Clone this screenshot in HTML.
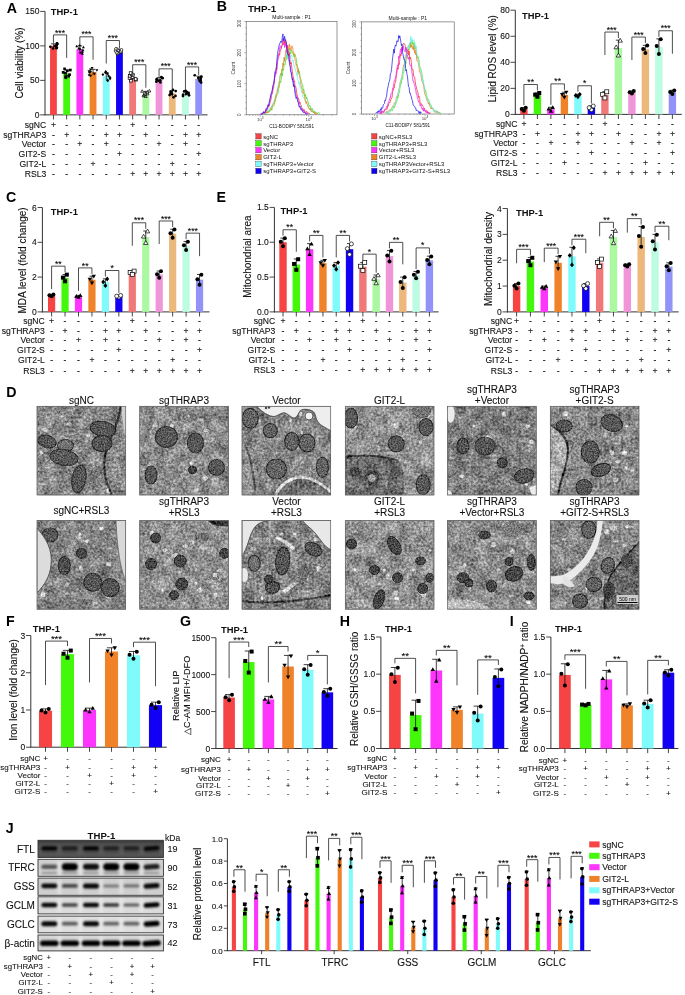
<!DOCTYPE html><html><head><meta charset="utf-8"><style>html,body{margin:0;padding:0;background:#fff;}svg{display:block;filter:blur(0.3px);}</style></head><body><svg width="685" height="995" viewBox="0 0 685 995" font-family='"Liberation Sans", sans-serif'><defs><clipPath id="c00"><rect x="36.8" y="406.0" width="89.2" height="89.2"/></clipPath><filter id="n00" x="0" y="0" width="1" height="1" color-interpolation-filters="sRGB"><feTurbulence type="fractalNoise" baseFrequency="0.42" numOctaves="3" seed="11" result="t"/><feColorMatrix in="t" type="matrix" values="1 0 0 0 0 1 0 0 0 0 1 0 0 0 0 0 0 0 0 1" result="g"/><feComposite in="SourceGraphic" in2="g" operator="arithmetic" k1="0" k2="1" k3="0.65" k4="-0.325" result="c1"/><feTurbulence type="fractalNoise" baseFrequency="0.09" numOctaves="2" seed="111" result="t2"/><feColorMatrix in="t2" type="matrix" values="1 0 0 0 0 1 0 0 0 0 1 0 0 0 0 0 0 0 0 1" result="g2"/><feComposite in="c1" in2="g2" operator="arithmetic" k1="0" k2="1" k3="0.4" k4="-0.2"/></filter><filter id="n00m" color-interpolation-filters="sRGB"><feTurbulence type="fractalNoise" baseFrequency="0.7" numOctaves="2" seed="61" result="t"/><feColorMatrix in="t" type="matrix" values="1 0 0 0 0 1 0 0 0 0 1 0 0 0 0 0 0 0 0 1" result="g"/><feComposite in="SourceGraphic" in2="g" operator="arithmetic" k1="0" k2="1" k3="0.7" k4="-0.35" result="c"/><feComposite in="c" in2="SourceAlpha" operator="in"/></filter><clipPath id="c01"><rect x="139.5" y="406.0" width="89.2" height="89.2"/></clipPath><filter id="n01" x="0" y="0" width="1" height="1" color-interpolation-filters="sRGB"><feTurbulence type="fractalNoise" baseFrequency="0.42" numOctaves="3" seed="12" result="t"/><feColorMatrix in="t" type="matrix" values="1 0 0 0 0 1 0 0 0 0 1 0 0 0 0 0 0 0 0 1" result="g"/><feComposite in="SourceGraphic" in2="g" operator="arithmetic" k1="0" k2="1" k3="0.65" k4="-0.325" result="c1"/><feTurbulence type="fractalNoise" baseFrequency="0.09" numOctaves="2" seed="112" result="t2"/><feColorMatrix in="t2" type="matrix" values="1 0 0 0 0 1 0 0 0 0 1 0 0 0 0 0 0 0 0 1" result="g2"/><feComposite in="c1" in2="g2" operator="arithmetic" k1="0" k2="1" k3="0.4" k4="-0.2"/></filter><filter id="n01m" color-interpolation-filters="sRGB"><feTurbulence type="fractalNoise" baseFrequency="0.7" numOctaves="2" seed="62" result="t"/><feColorMatrix in="t" type="matrix" values="1 0 0 0 0 1 0 0 0 0 1 0 0 0 0 0 0 0 0 1" result="g"/><feComposite in="SourceGraphic" in2="g" operator="arithmetic" k1="0" k2="1" k3="0.7" k4="-0.35" result="c"/><feComposite in="c" in2="SourceAlpha" operator="in"/></filter><clipPath id="c02"><rect x="241.8" y="406.0" width="89.2" height="89.2"/></clipPath><filter id="n02" x="0" y="0" width="1" height="1" color-interpolation-filters="sRGB"><feTurbulence type="fractalNoise" baseFrequency="0.42" numOctaves="3" seed="13" result="t"/><feColorMatrix in="t" type="matrix" values="1 0 0 0 0 1 0 0 0 0 1 0 0 0 0 0 0 0 0 1" result="g"/><feComposite in="SourceGraphic" in2="g" operator="arithmetic" k1="0" k2="1" k3="0.65" k4="-0.325" result="c1"/><feTurbulence type="fractalNoise" baseFrequency="0.09" numOctaves="2" seed="113" result="t2"/><feColorMatrix in="t2" type="matrix" values="1 0 0 0 0 1 0 0 0 0 1 0 0 0 0 0 0 0 0 1" result="g2"/><feComposite in="c1" in2="g2" operator="arithmetic" k1="0" k2="1" k3="0.4" k4="-0.2"/></filter><filter id="n02m" color-interpolation-filters="sRGB"><feTurbulence type="fractalNoise" baseFrequency="0.7" numOctaves="2" seed="63" result="t"/><feColorMatrix in="t" type="matrix" values="1 0 0 0 0 1 0 0 0 0 1 0 0 0 0 0 0 0 0 1" result="g"/><feComposite in="SourceGraphic" in2="g" operator="arithmetic" k1="0" k2="1" k3="0.7" k4="-0.35" result="c"/><feComposite in="c" in2="SourceAlpha" operator="in"/></filter><clipPath id="c03"><rect x="345.0" y="406.0" width="89.2" height="89.2"/></clipPath><filter id="n03" x="0" y="0" width="1" height="1" color-interpolation-filters="sRGB"><feTurbulence type="fractalNoise" baseFrequency="0.42" numOctaves="3" seed="14" result="t"/><feColorMatrix in="t" type="matrix" values="1 0 0 0 0 1 0 0 0 0 1 0 0 0 0 0 0 0 0 1" result="g"/><feComposite in="SourceGraphic" in2="g" operator="arithmetic" k1="0" k2="1" k3="0.65" k4="-0.325" result="c1"/><feTurbulence type="fractalNoise" baseFrequency="0.09" numOctaves="2" seed="114" result="t2"/><feColorMatrix in="t2" type="matrix" values="1 0 0 0 0 1 0 0 0 0 1 0 0 0 0 0 0 0 0 1" result="g2"/><feComposite in="c1" in2="g2" operator="arithmetic" k1="0" k2="1" k3="0.4" k4="-0.2"/></filter><filter id="n03m" color-interpolation-filters="sRGB"><feTurbulence type="fractalNoise" baseFrequency="0.7" numOctaves="2" seed="64" result="t"/><feColorMatrix in="t" type="matrix" values="1 0 0 0 0 1 0 0 0 0 1 0 0 0 0 0 0 0 0 1" result="g"/><feComposite in="SourceGraphic" in2="g" operator="arithmetic" k1="0" k2="1" k3="0.7" k4="-0.35" result="c"/><feComposite in="c" in2="SourceAlpha" operator="in"/></filter><clipPath id="c04"><rect x="447.3" y="406.0" width="89.2" height="89.2"/></clipPath><filter id="n04" x="0" y="0" width="1" height="1" color-interpolation-filters="sRGB"><feTurbulence type="fractalNoise" baseFrequency="0.42" numOctaves="3" seed="15" result="t"/><feColorMatrix in="t" type="matrix" values="1 0 0 0 0 1 0 0 0 0 1 0 0 0 0 0 0 0 0 1" result="g"/><feComposite in="SourceGraphic" in2="g" operator="arithmetic" k1="0" k2="1" k3="0.65" k4="-0.325" result="c1"/><feTurbulence type="fractalNoise" baseFrequency="0.09" numOctaves="2" seed="115" result="t2"/><feColorMatrix in="t2" type="matrix" values="1 0 0 0 0 1 0 0 0 0 1 0 0 0 0 0 0 0 0 1" result="g2"/><feComposite in="c1" in2="g2" operator="arithmetic" k1="0" k2="1" k3="0.4" k4="-0.2"/></filter><filter id="n04m" color-interpolation-filters="sRGB"><feTurbulence type="fractalNoise" baseFrequency="0.7" numOctaves="2" seed="65" result="t"/><feColorMatrix in="t" type="matrix" values="1 0 0 0 0 1 0 0 0 0 1 0 0 0 0 0 0 0 0 1" result="g"/><feComposite in="SourceGraphic" in2="g" operator="arithmetic" k1="0" k2="1" k3="0.7" k4="-0.35" result="c"/><feComposite in="c" in2="SourceAlpha" operator="in"/></filter><clipPath id="c05"><rect x="550.0" y="406.0" width="89.2" height="89.2"/></clipPath><filter id="n05" x="0" y="0" width="1" height="1" color-interpolation-filters="sRGB"><feTurbulence type="fractalNoise" baseFrequency="0.42" numOctaves="3" seed="16" result="t"/><feColorMatrix in="t" type="matrix" values="1 0 0 0 0 1 0 0 0 0 1 0 0 0 0 0 0 0 0 1" result="g"/><feComposite in="SourceGraphic" in2="g" operator="arithmetic" k1="0" k2="1" k3="0.65" k4="-0.325" result="c1"/><feTurbulence type="fractalNoise" baseFrequency="0.09" numOctaves="2" seed="116" result="t2"/><feColorMatrix in="t2" type="matrix" values="1 0 0 0 0 1 0 0 0 0 1 0 0 0 0 0 0 0 0 1" result="g2"/><feComposite in="c1" in2="g2" operator="arithmetic" k1="0" k2="1" k3="0.4" k4="-0.2"/></filter><filter id="n05m" color-interpolation-filters="sRGB"><feTurbulence type="fractalNoise" baseFrequency="0.7" numOctaves="2" seed="66" result="t"/><feColorMatrix in="t" type="matrix" values="1 0 0 0 0 1 0 0 0 0 1 0 0 0 0 0 0 0 0 1" result="g"/><feComposite in="SourceGraphic" in2="g" operator="arithmetic" k1="0" k2="1" k3="0.7" k4="-0.35" result="c"/><feComposite in="c" in2="SourceAlpha" operator="in"/></filter><clipPath id="c10"><rect x="36.8" y="520.2" width="89.2" height="89.2"/></clipPath><filter id="n10" x="0" y="0" width="1" height="1" color-interpolation-filters="sRGB"><feTurbulence type="fractalNoise" baseFrequency="0.42" numOctaves="3" seed="21" result="t"/><feColorMatrix in="t" type="matrix" values="1 0 0 0 0 1 0 0 0 0 1 0 0 0 0 0 0 0 0 1" result="g"/><feComposite in="SourceGraphic" in2="g" operator="arithmetic" k1="0" k2="1" k3="0.65" k4="-0.325" result="c1"/><feTurbulence type="fractalNoise" baseFrequency="0.09" numOctaves="2" seed="121" result="t2"/><feColorMatrix in="t2" type="matrix" values="1 0 0 0 0 1 0 0 0 0 1 0 0 0 0 0 0 0 0 1" result="g2"/><feComposite in="c1" in2="g2" operator="arithmetic" k1="0" k2="1" k3="0.4" k4="-0.2"/></filter><filter id="n10m" color-interpolation-filters="sRGB"><feTurbulence type="fractalNoise" baseFrequency="0.7" numOctaves="2" seed="71" result="t"/><feColorMatrix in="t" type="matrix" values="1 0 0 0 0 1 0 0 0 0 1 0 0 0 0 0 0 0 0 1" result="g"/><feComposite in="SourceGraphic" in2="g" operator="arithmetic" k1="0" k2="1" k3="0.7" k4="-0.35" result="c"/><feComposite in="c" in2="SourceAlpha" operator="in"/></filter><clipPath id="c11"><rect x="139.5" y="520.2" width="89.2" height="89.2"/></clipPath><filter id="n11" x="0" y="0" width="1" height="1" color-interpolation-filters="sRGB"><feTurbulence type="fractalNoise" baseFrequency="0.42" numOctaves="3" seed="22" result="t"/><feColorMatrix in="t" type="matrix" values="1 0 0 0 0 1 0 0 0 0 1 0 0 0 0 0 0 0 0 1" result="g"/><feComposite in="SourceGraphic" in2="g" operator="arithmetic" k1="0" k2="1" k3="0.65" k4="-0.325" result="c1"/><feTurbulence type="fractalNoise" baseFrequency="0.09" numOctaves="2" seed="122" result="t2"/><feColorMatrix in="t2" type="matrix" values="1 0 0 0 0 1 0 0 0 0 1 0 0 0 0 0 0 0 0 1" result="g2"/><feComposite in="c1" in2="g2" operator="arithmetic" k1="0" k2="1" k3="0.4" k4="-0.2"/></filter><filter id="n11m" color-interpolation-filters="sRGB"><feTurbulence type="fractalNoise" baseFrequency="0.7" numOctaves="2" seed="72" result="t"/><feColorMatrix in="t" type="matrix" values="1 0 0 0 0 1 0 0 0 0 1 0 0 0 0 0 0 0 0 1" result="g"/><feComposite in="SourceGraphic" in2="g" operator="arithmetic" k1="0" k2="1" k3="0.7" k4="-0.35" result="c"/><feComposite in="c" in2="SourceAlpha" operator="in"/></filter><clipPath id="c12"><rect x="241.8" y="520.2" width="89.2" height="89.2"/></clipPath><filter id="n12" x="0" y="0" width="1" height="1" color-interpolation-filters="sRGB"><feTurbulence type="fractalNoise" baseFrequency="0.42" numOctaves="3" seed="23" result="t"/><feColorMatrix in="t" type="matrix" values="1 0 0 0 0 1 0 0 0 0 1 0 0 0 0 0 0 0 0 1" result="g"/><feComposite in="SourceGraphic" in2="g" operator="arithmetic" k1="0" k2="1" k3="0.65" k4="-0.325" result="c1"/><feTurbulence type="fractalNoise" baseFrequency="0.09" numOctaves="2" seed="123" result="t2"/><feColorMatrix in="t2" type="matrix" values="1 0 0 0 0 1 0 0 0 0 1 0 0 0 0 0 0 0 0 1" result="g2"/><feComposite in="c1" in2="g2" operator="arithmetic" k1="0" k2="1" k3="0.4" k4="-0.2"/></filter><filter id="n12m" color-interpolation-filters="sRGB"><feTurbulence type="fractalNoise" baseFrequency="0.7" numOctaves="2" seed="73" result="t"/><feColorMatrix in="t" type="matrix" values="1 0 0 0 0 1 0 0 0 0 1 0 0 0 0 0 0 0 0 1" result="g"/><feComposite in="SourceGraphic" in2="g" operator="arithmetic" k1="0" k2="1" k3="0.7" k4="-0.35" result="c"/><feComposite in="c" in2="SourceAlpha" operator="in"/></filter><clipPath id="c13"><rect x="345.0" y="520.2" width="89.2" height="89.2"/></clipPath><filter id="n13" x="0" y="0" width="1" height="1" color-interpolation-filters="sRGB"><feTurbulence type="fractalNoise" baseFrequency="0.42" numOctaves="3" seed="24" result="t"/><feColorMatrix in="t" type="matrix" values="1 0 0 0 0 1 0 0 0 0 1 0 0 0 0 0 0 0 0 1" result="g"/><feComposite in="SourceGraphic" in2="g" operator="arithmetic" k1="0" k2="1" k3="0.65" k4="-0.325" result="c1"/><feTurbulence type="fractalNoise" baseFrequency="0.09" numOctaves="2" seed="124" result="t2"/><feColorMatrix in="t2" type="matrix" values="1 0 0 0 0 1 0 0 0 0 1 0 0 0 0 0 0 0 0 1" result="g2"/><feComposite in="c1" in2="g2" operator="arithmetic" k1="0" k2="1" k3="0.4" k4="-0.2"/></filter><filter id="n13m" color-interpolation-filters="sRGB"><feTurbulence type="fractalNoise" baseFrequency="0.7" numOctaves="2" seed="74" result="t"/><feColorMatrix in="t" type="matrix" values="1 0 0 0 0 1 0 0 0 0 1 0 0 0 0 0 0 0 0 1" result="g"/><feComposite in="SourceGraphic" in2="g" operator="arithmetic" k1="0" k2="1" k3="0.7" k4="-0.35" result="c"/><feComposite in="c" in2="SourceAlpha" operator="in"/></filter><clipPath id="c14"><rect x="447.3" y="520.2" width="89.2" height="89.2"/></clipPath><filter id="n14" x="0" y="0" width="1" height="1" color-interpolation-filters="sRGB"><feTurbulence type="fractalNoise" baseFrequency="0.42" numOctaves="3" seed="25" result="t"/><feColorMatrix in="t" type="matrix" values="1 0 0 0 0 1 0 0 0 0 1 0 0 0 0 0 0 0 0 1" result="g"/><feComposite in="SourceGraphic" in2="g" operator="arithmetic" k1="0" k2="1" k3="0.65" k4="-0.325" result="c1"/><feTurbulence type="fractalNoise" baseFrequency="0.09" numOctaves="2" seed="125" result="t2"/><feColorMatrix in="t2" type="matrix" values="1 0 0 0 0 1 0 0 0 0 1 0 0 0 0 0 0 0 0 1" result="g2"/><feComposite in="c1" in2="g2" operator="arithmetic" k1="0" k2="1" k3="0.4" k4="-0.2"/></filter><filter id="n14m" color-interpolation-filters="sRGB"><feTurbulence type="fractalNoise" baseFrequency="0.7" numOctaves="2" seed="75" result="t"/><feColorMatrix in="t" type="matrix" values="1 0 0 0 0 1 0 0 0 0 1 0 0 0 0 0 0 0 0 1" result="g"/><feComposite in="SourceGraphic" in2="g" operator="arithmetic" k1="0" k2="1" k3="0.7" k4="-0.35" result="c"/><feComposite in="c" in2="SourceAlpha" operator="in"/></filter><clipPath id="c15"><rect x="550.0" y="520.2" width="89.2" height="89.2"/></clipPath><filter id="n15" x="0" y="0" width="1" height="1" color-interpolation-filters="sRGB"><feTurbulence type="fractalNoise" baseFrequency="0.42" numOctaves="3" seed="26" result="t"/><feColorMatrix in="t" type="matrix" values="1 0 0 0 0 1 0 0 0 0 1 0 0 0 0 0 0 0 0 1" result="g"/><feComposite in="SourceGraphic" in2="g" operator="arithmetic" k1="0" k2="1" k3="0.65" k4="-0.325" result="c1"/><feTurbulence type="fractalNoise" baseFrequency="0.09" numOctaves="2" seed="126" result="t2"/><feColorMatrix in="t2" type="matrix" values="1 0 0 0 0 1 0 0 0 0 1 0 0 0 0 0 0 0 0 1" result="g2"/><feComposite in="c1" in2="g2" operator="arithmetic" k1="0" k2="1" k3="0.4" k4="-0.2"/></filter><filter id="n15m" color-interpolation-filters="sRGB"><feTurbulence type="fractalNoise" baseFrequency="0.7" numOctaves="2" seed="76" result="t"/><feColorMatrix in="t" type="matrix" values="1 0 0 0 0 1 0 0 0 0 1 0 0 0 0 0 0 0 0 1" result="g"/><feComposite in="SourceGraphic" in2="g" operator="arithmetic" k1="0" k2="1" k3="0.7" k4="-0.35" result="c"/><feComposite in="c" in2="SourceAlpha" operator="in"/></filter><filter id="bb" x="-0.3" y="-1" width="1.6" height="3"><feGaussianBlur stdDeviation="1.0"/></filter><filter id="bb2" x="-0.5" y="-0.2" width="2" height="1.4"><feGaussianBlur stdDeviation="1.6"/></filter><linearGradient id="ftlg" x1="0" y1="0" x2="0" y2="1"><stop offset="0" stop-color="#383838"/><stop offset="0.25" stop-color="#505050"/><stop offset="0.8" stop-color="#5a5a5a"/><stop offset="1" stop-color="#4a4a4a"/></linearGradient></defs><rect width="685" height="995" fill="#fff"/><text x="6.80" y="13.10" font-size="14.2" text-anchor="start" font-weight="bold" fill="#000">A</text>
<line x1="45.00" y1="11.40" x2="45.00" y2="115.25" stroke="#333" stroke-width="1.0"/>
<line x1="44.50" y1="114.85" x2="207.50" y2="114.85" stroke="#333" stroke-width="1.0"/>
<line x1="40.20" y1="114.85" x2="45.00" y2="114.85" stroke="#333" stroke-width="0.9"/>
<text x="39.40" y="117.91" font-size="8.5" text-anchor="end" fill="#111" stroke="#111" stroke-width="0.1">0</text>
<line x1="40.20" y1="80.37" x2="45.00" y2="80.37" stroke="#333" stroke-width="0.9"/>
<text x="39.40" y="83.43" font-size="8.5" text-anchor="end" fill="#111" stroke="#111" stroke-width="0.1">50</text>
<line x1="40.20" y1="45.88" x2="45.00" y2="45.88" stroke="#333" stroke-width="0.9"/>
<text x="39.40" y="48.94" font-size="8.5" text-anchor="end" fill="#111" stroke="#111" stroke-width="0.1">100</text>
<line x1="40.20" y1="11.40" x2="45.00" y2="11.40" stroke="#333" stroke-width="0.9"/>
<text x="39.40" y="14.46" font-size="8.5" text-anchor="end" fill="#111" stroke="#111" stroke-width="0.1">150</text>
<rect x="50.05" y="45.88" width="6.80" height="68.97" fill="#f64444"/>
<line x1="53.45" y1="43.81" x2="53.45" y2="47.95" stroke="#111" stroke-width="0.8"/>
<line x1="51.07" y1="43.81" x2="55.83" y2="43.81" stroke="#111" stroke-width="0.8"/>
<circle cx="53.09" cy="48.50" r="1.35" fill="#000"/>
<circle cx="56.55" cy="48.16" r="1.35" fill="#000"/>
<circle cx="56.76" cy="47.29" r="1.35" fill="#000"/>
<circle cx="50.34" cy="46.73" r="1.35" fill="#000"/>
<circle cx="55.17" cy="45.93" r="1.35" fill="#000"/>
<circle cx="56.70" cy="44.98" r="1.35" fill="#000"/>
<circle cx="57.11" cy="44.31" r="1.35" fill="#000"/>
<circle cx="57.23" cy="43.69" r="1.35" fill="#000"/>
<circle cx="56.96" cy="43.25" r="1.35" fill="#000"/>
<line x1="53.45" y1="114.85" x2="53.45" y2="119.45" stroke="#333" stroke-width="0.9"/>
<rect x="63.25" y="73.47" width="6.80" height="41.38" fill="#44f80c"/>
<line x1="66.65" y1="70.02" x2="66.65" y2="76.92" stroke="#111" stroke-width="0.8"/>
<line x1="64.27" y1="70.02" x2="69.03" y2="70.02" stroke="#111" stroke-width="0.8"/>
<rect x="64.51" y="76.37" width="2.70" height="2.70" fill="#000"/>
<rect x="64.26" y="75.23" width="2.70" height="2.70" fill="#000"/>
<rect x="67.29" y="74.83" width="2.70" height="2.70" fill="#000"/>
<rect x="68.19" y="73.42" width="2.70" height="2.70" fill="#000"/>
<rect x="63.87" y="71.81" width="2.70" height="2.70" fill="#000"/>
<rect x="61.82" y="71.04" width="2.70" height="2.70" fill="#000"/>
<rect x="65.98" y="69.45" width="2.70" height="2.70" fill="#000"/>
<rect x="68.97" y="68.68" width="2.70" height="2.70" fill="#000"/>
<rect x="63.26" y="67.53" width="2.70" height="2.70" fill="#000"/>
<line x1="66.65" y1="114.85" x2="66.65" y2="119.45" stroke="#333" stroke-width="0.9"/>
<rect x="76.45" y="49.33" width="6.80" height="65.52" fill="#fd35fd"/>
<line x1="79.85" y1="45.88" x2="79.85" y2="52.78" stroke="#111" stroke-width="0.8"/>
<line x1="77.47" y1="45.88" x2="82.23" y2="45.88" stroke="#111" stroke-width="0.8"/>
<path d="M82.37 52.25L83.86 54.82L80.89 54.82Z" fill="#000"/>
<path d="M80.50 51.17L81.98 53.73L79.01 53.73Z" fill="#000"/>
<path d="M82.36 50.10L83.84 52.66L80.87 52.66Z" fill="#000"/>
<path d="M82.90 48.62L84.39 51.18L81.42 51.18Z" fill="#000"/>
<path d="M80.21 47.53L81.70 50.10L78.73 50.10Z" fill="#000"/>
<path d="M78.82 46.82L80.30 49.39L77.33 49.39Z" fill="#000"/>
<path d="M83.40 45.75L84.89 48.31L81.92 48.31Z" fill="#000"/>
<path d="M76.72 44.75L78.21 47.31L75.24 47.31Z" fill="#000"/>
<path d="M79.75 43.66L81.23 46.23L78.26 46.23Z" fill="#000"/>
<line x1="79.85" y1="114.85" x2="79.85" y2="119.45" stroke="#333" stroke-width="0.9"/>
<rect x="89.65" y="72.09" width="6.80" height="42.76" fill="#f0822a"/>
<line x1="93.05" y1="69.33" x2="93.05" y2="74.85" stroke="#111" stroke-width="0.8"/>
<line x1="90.67" y1="69.33" x2="95.43" y2="69.33" stroke="#111" stroke-width="0.8"/>
<path d="M90.67 77.22L92.15 74.65L89.18 74.65Z" fill="#000"/>
<path d="M89.09 76.69L90.58 74.13L87.61 74.13Z" fill="#000"/>
<path d="M94.41 75.44L95.90 72.87L92.93 72.87Z" fill="#000"/>
<path d="M89.38 74.37L90.86 71.81L87.89 71.81Z" fill="#000"/>
<path d="M90.61 73.21L92.09 70.65L89.12 70.65Z" fill="#000"/>
<path d="M89.00 72.78L90.49 70.22L87.52 70.22Z" fill="#000"/>
<path d="M96.88 71.75L98.37 69.18L95.40 69.18Z" fill="#000"/>
<path d="M90.44 71.00L91.93 68.43L88.96 68.43Z" fill="#000"/>
<path d="M92.12 69.60L93.60 67.04L90.63 67.04Z" fill="#000"/>
<line x1="93.05" y1="114.85" x2="93.05" y2="119.45" stroke="#333" stroke-width="0.9"/>
<rect x="102.85" y="76.23" width="6.80" height="38.62" fill="#80fbfb"/>
<line x1="106.25" y1="72.78" x2="106.25" y2="79.68" stroke="#111" stroke-width="0.8"/>
<line x1="103.87" y1="72.78" x2="108.63" y2="72.78" stroke="#111" stroke-width="0.8"/>
<path d="M107.78 78.97L109.13 80.59L107.78 82.21L106.43 80.59Z" fill="#000"/>
<path d="M107.49 78.52L108.84 80.14L107.49 81.76L106.14 80.14Z" fill="#000"/>
<path d="M110.12 77.08L111.47 78.70L110.12 80.32L108.77 78.70Z" fill="#000"/>
<path d="M110.03 75.76L111.38 77.38L110.03 79.00L108.68 77.38Z" fill="#000"/>
<path d="M108.54 74.36L109.89 75.98L108.54 77.60L107.19 75.98Z" fill="#000"/>
<path d="M102.87 73.00L104.22 74.62L102.87 76.24L101.52 74.62Z" fill="#000"/>
<path d="M107.52 72.02L108.87 73.64L107.52 75.26L106.17 73.64Z" fill="#000"/>
<path d="M105.58 70.98L106.93 72.60L105.58 74.22L104.23 72.60Z" fill="#000"/>
<path d="M105.76 70.00L107.11 71.62L105.76 73.24L104.41 71.62Z" fill="#000"/>
<line x1="106.25" y1="114.85" x2="106.25" y2="119.45" stroke="#333" stroke-width="0.9"/>
<rect x="116.05" y="51.40" width="6.80" height="63.45" fill="#1200f4"/>
<line x1="119.45" y1="49.33" x2="119.45" y2="53.47" stroke="#111" stroke-width="0.8"/>
<line x1="117.07" y1="49.33" x2="121.83" y2="49.33" stroke="#111" stroke-width="0.8"/>
<circle cx="117.47" cy="53.98" r="1.35" fill="#fff" stroke="#000" stroke-width="0.7"/>
<circle cx="117.77" cy="53.24" r="1.35" fill="#fff" stroke="#000" stroke-width="0.7"/>
<circle cx="116.67" cy="52.56" r="1.35" fill="#fff" stroke="#000" stroke-width="0.7"/>
<circle cx="120.32" cy="52.07" r="1.35" fill="#fff" stroke="#000" stroke-width="0.7"/>
<circle cx="121.03" cy="51.66" r="1.35" fill="#fff" stroke="#000" stroke-width="0.7"/>
<circle cx="115.56" cy="50.88" r="1.35" fill="#fff" stroke="#000" stroke-width="0.7"/>
<circle cx="121.49" cy="49.86" r="1.35" fill="#fff" stroke="#000" stroke-width="0.7"/>
<circle cx="116.96" cy="49.13" r="1.35" fill="#fff" stroke="#000" stroke-width="0.7"/>
<circle cx="115.89" cy="48.86" r="1.35" fill="#fff" stroke="#000" stroke-width="0.7"/>
<line x1="119.45" y1="114.85" x2="119.45" y2="119.45" stroke="#333" stroke-width="0.9"/>
<rect x="129.25" y="76.92" width="6.80" height="37.93" fill="#f07878"/>
<line x1="132.65" y1="74.16" x2="132.65" y2="79.68" stroke="#111" stroke-width="0.8"/>
<line x1="130.27" y1="74.16" x2="135.03" y2="74.16" stroke="#111" stroke-width="0.8"/>
<rect x="129.54" y="79.34" width="2.70" height="2.70" fill="#fff" stroke="#000" stroke-width="0.7"/>
<rect x="134.58" y="78.33" width="2.70" height="2.70" fill="#fff" stroke="#000" stroke-width="0.7"/>
<rect x="134.26" y="77.70" width="2.70" height="2.70" fill="#fff" stroke="#000" stroke-width="0.7"/>
<rect x="128.18" y="76.59" width="2.70" height="2.70" fill="#fff" stroke="#000" stroke-width="0.7"/>
<rect x="131.15" y="75.67" width="2.70" height="2.70" fill="#fff" stroke="#000" stroke-width="0.7"/>
<rect x="128.33" y="74.55" width="2.70" height="2.70" fill="#fff" stroke="#000" stroke-width="0.7"/>
<rect x="131.38" y="73.83" width="2.70" height="2.70" fill="#fff" stroke="#000" stroke-width="0.7"/>
<rect x="130.13" y="72.71" width="2.70" height="2.70" fill="#fff" stroke="#000" stroke-width="0.7"/>
<rect x="129.23" y="71.72" width="2.70" height="2.70" fill="#fff" stroke="#000" stroke-width="0.7"/>
<line x1="132.65" y1="114.85" x2="132.65" y2="119.45" stroke="#333" stroke-width="0.9"/>
<rect x="142.45" y="93.47" width="6.80" height="21.38" fill="#aaf8a0"/>
<line x1="145.85" y1="91.40" x2="145.85" y2="95.54" stroke="#111" stroke-width="0.8"/>
<line x1="143.47" y1="91.40" x2="148.23" y2="91.40" stroke="#111" stroke-width="0.8"/>
<path d="M145.74 94.96L147.23 97.52L144.26 97.52Z" fill="#fff" stroke="#000" stroke-width="0.7"/>
<path d="M143.51 94.18L144.99 96.75L142.02 96.75Z" fill="#fff" stroke="#000" stroke-width="0.7"/>
<path d="M144.28 93.45L145.77 96.02L142.80 96.02Z" fill="#fff" stroke="#000" stroke-width="0.7"/>
<path d="M145.21 92.95L146.69 95.51L143.72 95.51Z" fill="#fff" stroke="#000" stroke-width="0.7"/>
<path d="M147.52 92.24L149.01 94.80L146.04 94.80Z" fill="#fff" stroke="#000" stroke-width="0.7"/>
<path d="M144.85 91.31L146.33 93.88L143.36 93.88Z" fill="#fff" stroke="#000" stroke-width="0.7"/>
<path d="M147.44 90.51L148.92 93.07L145.95 93.07Z" fill="#fff" stroke="#000" stroke-width="0.7"/>
<path d="M142.18 89.72L143.67 92.29L140.70 92.29Z" fill="#fff" stroke="#000" stroke-width="0.7"/>
<path d="M149.35 89.45L150.83 92.01L147.86 92.01Z" fill="#fff" stroke="#000" stroke-width="0.7"/>
<line x1="145.85" y1="114.85" x2="145.85" y2="119.45" stroke="#333" stroke-width="0.9"/>
<rect x="155.65" y="79.68" width="6.80" height="35.17" fill="#f096d8"/>
<line x1="159.05" y1="77.61" x2="159.05" y2="81.75" stroke="#111" stroke-width="0.8"/>
<line x1="156.67" y1="77.61" x2="161.43" y2="77.61" stroke="#111" stroke-width="0.8"/>
<circle cx="160.37" cy="82.38" r="1.35" fill="#000"/>
<circle cx="156.34" cy="81.72" r="1.35" fill="#000"/>
<circle cx="158.48" cy="80.83" r="1.35" fill="#000"/>
<circle cx="160.33" cy="80.46" r="1.35" fill="#000"/>
<circle cx="156.86" cy="79.87" r="1.35" fill="#000"/>
<circle cx="156.68" cy="79.15" r="1.35" fill="#000"/>
<circle cx="162.65" cy="78.18" r="1.35" fill="#000"/>
<circle cx="161.86" cy="77.77" r="1.35" fill="#000"/>
<circle cx="161.31" cy="77.19" r="1.35" fill="#000"/>
<line x1="159.05" y1="114.85" x2="159.05" y2="119.45" stroke="#333" stroke-width="0.9"/>
<rect x="168.85" y="93.47" width="6.80" height="21.38" fill="#ecb87c"/>
<line x1="172.25" y1="90.71" x2="172.25" y2="96.23" stroke="#111" stroke-width="0.8"/>
<line x1="169.87" y1="90.71" x2="174.63" y2="90.71" stroke="#111" stroke-width="0.8"/>
<circle cx="173.48" cy="97.35" r="1.35" fill="#000"/>
<circle cx="175.48" cy="95.95" r="1.35" fill="#000"/>
<circle cx="169.61" cy="95.05" r="1.35" fill="#000"/>
<circle cx="172.12" cy="94.08" r="1.35" fill="#000"/>
<circle cx="170.57" cy="93.69" r="1.35" fill="#000"/>
<circle cx="171.59" cy="92.40" r="1.35" fill="#000"/>
<circle cx="170.50" cy="91.66" r="1.35" fill="#000"/>
<circle cx="175.71" cy="91.07" r="1.35" fill="#000"/>
<circle cx="172.99" cy="89.90" r="1.35" fill="#000"/>
<line x1="172.25" y1="114.85" x2="172.25" y2="119.45" stroke="#333" stroke-width="0.9"/>
<rect x="182.05" y="93.47" width="6.80" height="21.38" fill="#bcfce2"/>
<line x1="185.45" y1="91.40" x2="185.45" y2="95.54" stroke="#111" stroke-width="0.8"/>
<line x1="183.07" y1="91.40" x2="187.83" y2="91.40" stroke="#111" stroke-width="0.8"/>
<circle cx="182.96" cy="96.06" r="1.35" fill="#000"/>
<circle cx="189.03" cy="95.29" r="1.35" fill="#000"/>
<circle cx="183.17" cy="94.68" r="1.35" fill="#000"/>
<circle cx="186.13" cy="94.00" r="1.35" fill="#000"/>
<circle cx="188.00" cy="93.53" r="1.35" fill="#000"/>
<circle cx="188.61" cy="92.97" r="1.35" fill="#000"/>
<circle cx="186.95" cy="92.03" r="1.35" fill="#000"/>
<circle cx="184.12" cy="91.42" r="1.35" fill="#000"/>
<circle cx="185.68" cy="90.87" r="1.35" fill="#000"/>
<line x1="185.45" y1="114.85" x2="185.45" y2="119.45" stroke="#333" stroke-width="0.9"/>
<rect x="195.25" y="78.99" width="6.80" height="35.86" fill="#9292f8"/>
<line x1="198.65" y1="76.23" x2="198.65" y2="81.75" stroke="#111" stroke-width="0.8"/>
<line x1="196.27" y1="76.23" x2="201.03" y2="76.23" stroke="#111" stroke-width="0.8"/>
<circle cx="201.15" cy="82.53" r="1.35" fill="#000"/>
<circle cx="200.42" cy="81.50" r="1.35" fill="#000"/>
<circle cx="200.04" cy="80.49" r="1.35" fill="#000"/>
<circle cx="200.51" cy="80.23" r="1.35" fill="#000"/>
<circle cx="200.69" cy="78.78" r="1.35" fill="#000"/>
<circle cx="198.28" cy="78.10" r="1.35" fill="#000"/>
<circle cx="200.81" cy="77.19" r="1.35" fill="#000"/>
<circle cx="201.41" cy="76.52" r="1.35" fill="#000"/>
<circle cx="194.74" cy="75.26" r="1.35" fill="#000"/>
<line x1="198.65" y1="114.85" x2="198.65" y2="119.45" stroke="#333" stroke-width="0.9"/>
<path d="M53.45 42.90V34.90H66.65V57.90" fill="none" stroke="#222" stroke-width="0.8"/>
<text x="60.05" y="35.50" font-size="8.6" text-anchor="middle" fill="#000" stroke="#000" stroke-width="0.1">***</text>
<path d="M79.85 44.80V36.80H93.05V59.80" fill="none" stroke="#222" stroke-width="0.8"/>
<text x="86.45" y="37.40" font-size="8.6" text-anchor="middle" fill="#000" stroke="#000" stroke-width="0.1">***</text>
<path d="M106.25 63.51V40.51H119.45V48.51" fill="none" stroke="#222" stroke-width="0.8"/>
<text x="112.85" y="41.11" font-size="8.6" text-anchor="middle" fill="#000" stroke="#000" stroke-width="0.1">***</text>
<path d="M132.65 72.72V64.72H145.85V87.72" fill="none" stroke="#222" stroke-width="0.8"/>
<text x="139.25" y="65.32" font-size="8.6" text-anchor="middle" fill="#000" stroke="#000" stroke-width="0.1">***</text>
<path d="M159.05 76.84V68.84H172.25V89.55" fill="none" stroke="#222" stroke-width="0.8"/>
<text x="165.65" y="69.44" font-size="8.6" text-anchor="middle" fill="#000" stroke="#000" stroke-width="0.1">***</text>
<path d="M185.45 89.91V66.91H198.65V74.91" fill="none" stroke="#222" stroke-width="0.8"/>
<text x="192.05" y="67.51" font-size="8.6" text-anchor="middle" fill="#000" stroke="#000" stroke-width="0.1">***</text>
<text x="50.80" y="15.40" font-size="9.4" text-anchor="start" font-weight="bold" fill="#111">THP-1</text>
<text x="22.60" y="63.00" font-size="10" text-anchor="middle" fill="#111" stroke="#111" stroke-width="0.1" transform="rotate(-90 22.60 63.00)">Cell viability (%)</text>
<text x="46.20" y="128.10" font-size="8.6" text-anchor="end" fill="#111" stroke="#111" stroke-width="0.1">sgNC</text>
<text x="53.45" y="128.10" font-size="8.6" text-anchor="middle" fill="#111" stroke="#111" stroke-width="0.1">+</text>
<text x="66.65" y="128.10" font-size="8.6" text-anchor="middle" fill="#111" stroke="#111" stroke-width="0.1">-</text>
<text x="79.85" y="128.10" font-size="8.6" text-anchor="middle" fill="#111" stroke="#111" stroke-width="0.1">-</text>
<text x="93.05" y="128.10" font-size="8.6" text-anchor="middle" fill="#111" stroke="#111" stroke-width="0.1">-</text>
<text x="106.25" y="128.10" font-size="8.6" text-anchor="middle" fill="#111" stroke="#111" stroke-width="0.1">-</text>
<text x="119.45" y="128.10" font-size="8.6" text-anchor="middle" fill="#111" stroke="#111" stroke-width="0.1">-</text>
<text x="132.65" y="128.10" font-size="8.6" text-anchor="middle" fill="#111" stroke="#111" stroke-width="0.1">+</text>
<text x="145.85" y="128.10" font-size="8.6" text-anchor="middle" fill="#111" stroke="#111" stroke-width="0.1">-</text>
<text x="159.05" y="128.10" font-size="8.6" text-anchor="middle" fill="#111" stroke="#111" stroke-width="0.1">-</text>
<text x="172.25" y="128.10" font-size="8.6" text-anchor="middle" fill="#111" stroke="#111" stroke-width="0.1">-</text>
<text x="185.45" y="128.10" font-size="8.6" text-anchor="middle" fill="#111" stroke="#111" stroke-width="0.1">-</text>
<text x="198.65" y="128.10" font-size="8.6" text-anchor="middle" fill="#111" stroke="#111" stroke-width="0.1">-</text>
<text x="46.20" y="137.80" font-size="8.6" text-anchor="end" fill="#111" stroke="#111" stroke-width="0.1">sgTHRAP3</text>
<text x="53.45" y="137.80" font-size="8.6" text-anchor="middle" fill="#111" stroke="#111" stroke-width="0.1">-</text>
<text x="66.65" y="137.80" font-size="8.6" text-anchor="middle" fill="#111" stroke="#111" stroke-width="0.1">+</text>
<text x="79.85" y="137.80" font-size="8.6" text-anchor="middle" fill="#111" stroke="#111" stroke-width="0.1">-</text>
<text x="93.05" y="137.80" font-size="8.6" text-anchor="middle" fill="#111" stroke="#111" stroke-width="0.1">-</text>
<text x="106.25" y="137.80" font-size="8.6" text-anchor="middle" fill="#111" stroke="#111" stroke-width="0.1">+</text>
<text x="119.45" y="137.80" font-size="8.6" text-anchor="middle" fill="#111" stroke="#111" stroke-width="0.1">+</text>
<text x="132.65" y="137.80" font-size="8.6" text-anchor="middle" fill="#111" stroke="#111" stroke-width="0.1">-</text>
<text x="145.85" y="137.80" font-size="8.6" text-anchor="middle" fill="#111" stroke="#111" stroke-width="0.1">+</text>
<text x="159.05" y="137.80" font-size="8.6" text-anchor="middle" fill="#111" stroke="#111" stroke-width="0.1">-</text>
<text x="172.25" y="137.80" font-size="8.6" text-anchor="middle" fill="#111" stroke="#111" stroke-width="0.1">-</text>
<text x="185.45" y="137.80" font-size="8.6" text-anchor="middle" fill="#111" stroke="#111" stroke-width="0.1">+</text>
<text x="198.65" y="137.80" font-size="8.6" text-anchor="middle" fill="#111" stroke="#111" stroke-width="0.1">+</text>
<text x="46.20" y="147.00" font-size="8.6" text-anchor="end" fill="#111" stroke="#111" stroke-width="0.1">Vector</text>
<text x="53.45" y="147.00" font-size="8.6" text-anchor="middle" fill="#111" stroke="#111" stroke-width="0.1">-</text>
<text x="66.65" y="147.00" font-size="8.6" text-anchor="middle" fill="#111" stroke="#111" stroke-width="0.1">-</text>
<text x="79.85" y="147.00" font-size="8.6" text-anchor="middle" fill="#111" stroke="#111" stroke-width="0.1">+</text>
<text x="93.05" y="147.00" font-size="8.6" text-anchor="middle" fill="#111" stroke="#111" stroke-width="0.1">-</text>
<text x="106.25" y="147.00" font-size="8.6" text-anchor="middle" fill="#111" stroke="#111" stroke-width="0.1">+</text>
<text x="119.45" y="147.00" font-size="8.6" text-anchor="middle" fill="#111" stroke="#111" stroke-width="0.1">-</text>
<text x="132.65" y="147.00" font-size="8.6" text-anchor="middle" fill="#111" stroke="#111" stroke-width="0.1">-</text>
<text x="145.85" y="147.00" font-size="8.6" text-anchor="middle" fill="#111" stroke="#111" stroke-width="0.1">-</text>
<text x="159.05" y="147.00" font-size="8.6" text-anchor="middle" fill="#111" stroke="#111" stroke-width="0.1">+</text>
<text x="172.25" y="147.00" font-size="8.6" text-anchor="middle" fill="#111" stroke="#111" stroke-width="0.1">-</text>
<text x="185.45" y="147.00" font-size="8.6" text-anchor="middle" fill="#111" stroke="#111" stroke-width="0.1">+</text>
<text x="198.65" y="147.00" font-size="8.6" text-anchor="middle" fill="#111" stroke="#111" stroke-width="0.1">-</text>
<text x="46.20" y="157.10" font-size="8.6" text-anchor="end" fill="#111" stroke="#111" stroke-width="0.1">GIT2-S</text>
<text x="53.45" y="157.10" font-size="8.6" text-anchor="middle" fill="#111" stroke="#111" stroke-width="0.1">-</text>
<text x="66.65" y="157.10" font-size="8.6" text-anchor="middle" fill="#111" stroke="#111" stroke-width="0.1">-</text>
<text x="79.85" y="157.10" font-size="8.6" text-anchor="middle" fill="#111" stroke="#111" stroke-width="0.1">-</text>
<text x="93.05" y="157.10" font-size="8.6" text-anchor="middle" fill="#111" stroke="#111" stroke-width="0.1">-</text>
<text x="106.25" y="157.10" font-size="8.6" text-anchor="middle" fill="#111" stroke="#111" stroke-width="0.1">-</text>
<text x="119.45" y="157.10" font-size="8.6" text-anchor="middle" fill="#111" stroke="#111" stroke-width="0.1">+</text>
<text x="132.65" y="157.10" font-size="8.6" text-anchor="middle" fill="#111" stroke="#111" stroke-width="0.1">-</text>
<text x="145.85" y="157.10" font-size="8.6" text-anchor="middle" fill="#111" stroke="#111" stroke-width="0.1">-</text>
<text x="159.05" y="157.10" font-size="8.6" text-anchor="middle" fill="#111" stroke="#111" stroke-width="0.1">-</text>
<text x="172.25" y="157.10" font-size="8.6" text-anchor="middle" fill="#111" stroke="#111" stroke-width="0.1">-</text>
<text x="185.45" y="157.10" font-size="8.6" text-anchor="middle" fill="#111" stroke="#111" stroke-width="0.1">-</text>
<text x="198.65" y="157.10" font-size="8.6" text-anchor="middle" fill="#111" stroke="#111" stroke-width="0.1">+</text>
<text x="46.20" y="166.70" font-size="8.6" text-anchor="end" fill="#111" stroke="#111" stroke-width="0.1">GIT2-L</text>
<text x="53.45" y="166.70" font-size="8.6" text-anchor="middle" fill="#111" stroke="#111" stroke-width="0.1">-</text>
<text x="66.65" y="166.70" font-size="8.6" text-anchor="middle" fill="#111" stroke="#111" stroke-width="0.1">-</text>
<text x="79.85" y="166.70" font-size="8.6" text-anchor="middle" fill="#111" stroke="#111" stroke-width="0.1">-</text>
<text x="93.05" y="166.70" font-size="8.6" text-anchor="middle" fill="#111" stroke="#111" stroke-width="0.1">+</text>
<text x="106.25" y="166.70" font-size="8.6" text-anchor="middle" fill="#111" stroke="#111" stroke-width="0.1">-</text>
<text x="119.45" y="166.70" font-size="8.6" text-anchor="middle" fill="#111" stroke="#111" stroke-width="0.1">-</text>
<text x="132.65" y="166.70" font-size="8.6" text-anchor="middle" fill="#111" stroke="#111" stroke-width="0.1">-</text>
<text x="145.85" y="166.70" font-size="8.6" text-anchor="middle" fill="#111" stroke="#111" stroke-width="0.1">-</text>
<text x="159.05" y="166.70" font-size="8.6" text-anchor="middle" fill="#111" stroke="#111" stroke-width="0.1">-</text>
<text x="172.25" y="166.70" font-size="8.6" text-anchor="middle" fill="#111" stroke="#111" stroke-width="0.1">+</text>
<text x="185.45" y="166.70" font-size="8.6" text-anchor="middle" fill="#111" stroke="#111" stroke-width="0.1">-</text>
<text x="198.65" y="166.70" font-size="8.6" text-anchor="middle" fill="#111" stroke="#111" stroke-width="0.1">-</text>
<text x="46.20" y="176.70" font-size="8.6" text-anchor="end" fill="#111" stroke="#111" stroke-width="0.1">RSL3</text>
<text x="53.45" y="176.70" font-size="8.6" text-anchor="middle" fill="#111" stroke="#111" stroke-width="0.1">-</text>
<text x="66.65" y="176.70" font-size="8.6" text-anchor="middle" fill="#111" stroke="#111" stroke-width="0.1">-</text>
<text x="79.85" y="176.70" font-size="8.6" text-anchor="middle" fill="#111" stroke="#111" stroke-width="0.1">-</text>
<text x="93.05" y="176.70" font-size="8.6" text-anchor="middle" fill="#111" stroke="#111" stroke-width="0.1">-</text>
<text x="106.25" y="176.70" font-size="8.6" text-anchor="middle" fill="#111" stroke="#111" stroke-width="0.1">-</text>
<text x="119.45" y="176.70" font-size="8.6" text-anchor="middle" fill="#111" stroke="#111" stroke-width="0.1">-</text>
<text x="132.65" y="176.70" font-size="8.6" text-anchor="middle" fill="#111" stroke="#111" stroke-width="0.1">+</text>
<text x="145.85" y="176.70" font-size="8.6" text-anchor="middle" fill="#111" stroke="#111" stroke-width="0.1">+</text>
<text x="159.05" y="176.70" font-size="8.6" text-anchor="middle" fill="#111" stroke="#111" stroke-width="0.1">+</text>
<text x="172.25" y="176.70" font-size="8.6" text-anchor="middle" fill="#111" stroke="#111" stroke-width="0.1">+</text>
<text x="185.45" y="176.70" font-size="8.6" text-anchor="middle" fill="#111" stroke="#111" stroke-width="0.1">+</text>
<text x="198.65" y="176.70" font-size="8.6" text-anchor="middle" fill="#111" stroke="#111" stroke-width="0.1">+</text>
<line x1="515.30" y1="10.20" x2="515.30" y2="114.80" stroke="#333" stroke-width="1.0"/>
<line x1="514.80" y1="114.40" x2="681.80" y2="114.40" stroke="#333" stroke-width="1.0"/>
<line x1="510.50" y1="114.40" x2="515.30" y2="114.40" stroke="#333" stroke-width="0.9"/>
<text x="509.70" y="117.46" font-size="8.5" text-anchor="end" fill="#111" stroke="#111" stroke-width="0.1">0</text>
<line x1="510.50" y1="88.35" x2="515.30" y2="88.35" stroke="#333" stroke-width="0.9"/>
<text x="509.70" y="91.41" font-size="8.5" text-anchor="end" fill="#111" stroke="#111" stroke-width="0.1">20</text>
<line x1="510.50" y1="62.30" x2="515.30" y2="62.30" stroke="#333" stroke-width="0.9"/>
<text x="509.70" y="65.36" font-size="8.5" text-anchor="end" fill="#111" stroke="#111" stroke-width="0.1">40</text>
<line x1="510.50" y1="36.25" x2="515.30" y2="36.25" stroke="#333" stroke-width="0.9"/>
<text x="509.70" y="39.31" font-size="8.5" text-anchor="end" fill="#111" stroke="#111" stroke-width="0.1">60</text>
<line x1="510.50" y1="10.20" x2="515.30" y2="10.20" stroke="#333" stroke-width="0.9"/>
<text x="509.70" y="13.26" font-size="8.5" text-anchor="end" fill="#111" stroke="#111" stroke-width="0.1">80</text>
<rect x="520.20" y="109.19" width="7.40" height="5.21" fill="#f64444"/>
<line x1="523.90" y1="107.63" x2="523.90" y2="110.75" stroke="#111" stroke-width="0.8"/>
<line x1="521.31" y1="107.63" x2="526.49" y2="107.63" stroke="#111" stroke-width="0.8"/>
<circle cx="521.68" cy="109.03" r="2.00" fill="#000"/>
<circle cx="525.75" cy="107.71" r="2.00" fill="#000"/>
<circle cx="523.90" cy="110.67" r="2.00" fill="#000"/>
<line x1="523.90" y1="114.40" x2="523.90" y2="119.00" stroke="#333" stroke-width="0.9"/>
<rect x="533.70" y="94.86" width="7.40" height="19.54" fill="#44f80c"/>
<line x1="537.40" y1="92.91" x2="537.40" y2="96.82" stroke="#111" stroke-width="0.8"/>
<line x1="534.81" y1="92.91" x2="539.99" y2="92.91" stroke="#111" stroke-width="0.8"/>
<rect x="537.25" y="91.01" width="4.00" height="4.00" fill="#000"/>
<rect x="535.40" y="94.72" width="4.00" height="4.00" fill="#000"/>
<rect x="533.18" y="92.67" width="4.00" height="4.00" fill="#000"/>
<line x1="537.40" y1="114.40" x2="537.40" y2="119.00" stroke="#333" stroke-width="0.9"/>
<rect x="547.20" y="109.19" width="7.40" height="5.21" fill="#fd35fd"/>
<line x1="550.90" y1="107.24" x2="550.90" y2="111.14" stroke="#111" stroke-width="0.8"/>
<line x1="548.31" y1="107.24" x2="553.49" y2="107.24" stroke="#111" stroke-width="0.8"/>
<path d="M550.90 108.85L553.10 112.65L548.70 112.65Z" fill="#000"/>
<path d="M548.68 106.79L550.88 110.59L546.48 110.59Z" fill="#000"/>
<path d="M552.75 105.13L554.95 108.93L550.55 108.93Z" fill="#000"/>
<line x1="550.90" y1="114.40" x2="550.90" y2="119.00" stroke="#333" stroke-width="0.9"/>
<rect x="560.70" y="94.86" width="7.40" height="19.54" fill="#f0822a"/>
<line x1="564.40" y1="92.26" x2="564.40" y2="97.47" stroke="#111" stroke-width="0.8"/>
<line x1="561.81" y1="92.26" x2="566.99" y2="92.26" stroke="#111" stroke-width="0.8"/>
<path d="M562.18 96.80L564.38 93.00L559.98 93.00Z" fill="#000"/>
<path d="M566.25 94.59L568.45 90.79L564.05 90.79Z" fill="#000"/>
<path d="M564.40 99.54L566.60 95.74L562.20 95.74Z" fill="#000"/>
<line x1="564.40" y1="114.40" x2="564.40" y2="119.00" stroke="#333" stroke-width="0.9"/>
<rect x="574.20" y="95.51" width="7.40" height="18.89" fill="#80fbfb"/>
<line x1="577.90" y1="94.21" x2="577.90" y2="96.82" stroke="#111" stroke-width="0.8"/>
<line x1="575.31" y1="94.21" x2="580.49" y2="94.21" stroke="#111" stroke-width="0.8"/>
<path d="M579.75 91.88L581.75 94.28L579.75 96.68L577.75 94.28Z" fill="#000"/>
<path d="M577.90 94.35L579.90 96.75L577.90 99.15L575.90 96.75Z" fill="#000"/>
<path d="M575.68 92.98L577.68 95.38L575.68 97.78L573.68 95.38Z" fill="#000"/>
<line x1="577.90" y1="114.40" x2="577.90" y2="119.00" stroke="#333" stroke-width="0.9"/>
<rect x="587.70" y="107.89" width="7.40" height="6.51" fill="#1200f4"/>
<line x1="591.40" y1="105.93" x2="591.40" y2="109.84" stroke="#111" stroke-width="0.8"/>
<line x1="588.81" y1="105.93" x2="593.99" y2="105.93" stroke="#111" stroke-width="0.8"/>
<circle cx="591.40" cy="109.74" r="2.00" fill="#fff" stroke="#000" stroke-width="0.7"/>
<circle cx="589.18" cy="107.69" r="2.00" fill="#fff" stroke="#000" stroke-width="0.7"/>
<circle cx="593.25" cy="106.03" r="2.00" fill="#fff" stroke="#000" stroke-width="0.7"/>
<line x1="591.40" y1="114.40" x2="591.40" y2="119.00" stroke="#333" stroke-width="0.9"/>
<rect x="601.20" y="94.86" width="7.40" height="19.54" fill="#f07878"/>
<line x1="604.90" y1="91.61" x2="604.90" y2="98.12" stroke="#111" stroke-width="0.8"/>
<line x1="602.31" y1="91.61" x2="607.49" y2="91.61" stroke="#111" stroke-width="0.8"/>
<rect x="600.68" y="92.54" width="4.00" height="4.00" fill="#fff" stroke="#000" stroke-width="0.7"/>
<rect x="604.75" y="89.77" width="4.00" height="4.00" fill="#fff" stroke="#000" stroke-width="0.7"/>
<rect x="602.90" y="95.96" width="4.00" height="4.00" fill="#fff" stroke="#000" stroke-width="0.7"/>
<line x1="604.90" y1="114.40" x2="604.90" y2="119.00" stroke="#333" stroke-width="0.9"/>
<rect x="614.70" y="47.97" width="7.40" height="66.43" fill="#aaf8a0"/>
<line x1="618.40" y1="40.16" x2="618.40" y2="55.79" stroke="#111" stroke-width="0.8"/>
<line x1="615.81" y1="40.16" x2="620.99" y2="40.16" stroke="#111" stroke-width="0.8"/>
<path d="M620.25 38.35L622.45 42.15L618.05 42.15Z" fill="#fff" stroke="#000" stroke-width="0.7"/>
<path d="M618.40 53.20L620.60 57.00L616.20 57.00Z" fill="#fff" stroke="#000" stroke-width="0.7"/>
<path d="M616.18 44.99L618.38 48.79L613.98 48.79Z" fill="#fff" stroke="#000" stroke-width="0.7"/>
<line x1="618.40" y1="114.40" x2="618.40" y2="119.00" stroke="#333" stroke-width="0.9"/>
<rect x="628.20" y="92.26" width="7.40" height="22.14" fill="#f096d8"/>
<line x1="631.90" y1="90.96" x2="631.90" y2="93.56" stroke="#111" stroke-width="0.8"/>
<line x1="629.31" y1="90.96" x2="634.49" y2="90.96" stroke="#111" stroke-width="0.8"/>
<circle cx="631.90" cy="93.49" r="2.00" fill="#000"/>
<circle cx="629.68" cy="92.13" r="2.00" fill="#000"/>
<circle cx="633.75" cy="91.02" r="2.00" fill="#000"/>
<line x1="631.90" y1="114.40" x2="631.90" y2="119.00" stroke="#333" stroke-width="0.9"/>
<rect x="641.70" y="49.28" width="7.40" height="65.12" fill="#ecb87c"/>
<line x1="645.40" y1="45.37" x2="645.40" y2="53.18" stroke="#111" stroke-width="0.8"/>
<line x1="642.81" y1="45.37" x2="647.99" y2="45.37" stroke="#111" stroke-width="0.8"/>
<circle cx="643.18" cy="48.88" r="2.00" fill="#000"/>
<circle cx="647.25" cy="45.56" r="2.00" fill="#000"/>
<circle cx="645.40" cy="52.99" r="2.00" fill="#000"/>
<line x1="645.40" y1="114.40" x2="645.40" y2="119.00" stroke="#333" stroke-width="0.9"/>
<rect x="655.20" y="46.67" width="7.40" height="67.73" fill="#bcfce2"/>
<line x1="658.90" y1="38.86" x2="658.90" y2="54.49" stroke="#111" stroke-width="0.8"/>
<line x1="656.31" y1="38.86" x2="661.49" y2="38.86" stroke="#111" stroke-width="0.8"/>
<circle cx="660.75" cy="39.25" r="2.00" fill="#000"/>
<circle cx="658.90" cy="54.09" r="2.00" fill="#000"/>
<circle cx="656.68" cy="45.89" r="2.00" fill="#000"/>
<line x1="658.90" y1="114.40" x2="658.90" y2="119.00" stroke="#333" stroke-width="0.9"/>
<rect x="668.70" y="92.26" width="7.40" height="22.14" fill="#9292f8"/>
<line x1="672.40" y1="90.30" x2="672.40" y2="94.21" stroke="#111" stroke-width="0.8"/>
<line x1="669.81" y1="90.30" x2="674.99" y2="90.30" stroke="#111" stroke-width="0.8"/>
<circle cx="672.40" cy="94.11" r="2.00" fill="#000"/>
<circle cx="670.18" cy="92.06" r="2.00" fill="#000"/>
<circle cx="674.25" cy="90.40" r="2.00" fill="#000"/>
<line x1="672.40" y1="114.40" x2="672.40" y2="119.00" stroke="#333" stroke-width="0.9"/>
<path d="M523.90 105.21V84.51H537.40V90.51" fill="none" stroke="#222" stroke-width="0.8"/>
<text x="530.65" y="85.11" font-size="8.6" text-anchor="middle" fill="#000" stroke="#000" stroke-width="0.1">**</text>
<path d="M550.90 104.83V83.89H564.40V89.89" fill="none" stroke="#222" stroke-width="0.8"/>
<text x="557.65" y="84.49" font-size="8.6" text-anchor="middle" fill="#000" stroke="#000" stroke-width="0.1">**</text>
<path d="M577.90 91.78V85.78H591.40V103.53" fill="none" stroke="#222" stroke-width="0.8"/>
<text x="584.65" y="86.38" font-size="8.6" text-anchor="middle" fill="#000" stroke="#000" stroke-width="0.1">*</text>
<path d="M604.90 55.05V32.05H618.40V38.05" fill="none" stroke="#222" stroke-width="0.8"/>
<text x="611.65" y="32.65" font-size="8.6" text-anchor="middle" fill="#000" stroke="#000" stroke-width="0.1">***</text>
<path d="M631.90 60.06V37.06H645.40V43.06" fill="none" stroke="#222" stroke-width="0.8"/>
<text x="638.65" y="37.66" font-size="8.6" text-anchor="middle" fill="#000" stroke="#000" stroke-width="0.1">***</text>
<path d="M658.90 36.75V30.75H672.40V53.75" fill="none" stroke="#222" stroke-width="0.8"/>
<text x="665.65" y="31.35" font-size="8.6" text-anchor="middle" fill="#000" stroke="#000" stroke-width="0.1">***</text>
<text x="522.00" y="19.20" font-size="9.4" text-anchor="start" font-weight="bold" fill="#111">THP-1</text>
<text x="496.20" y="58.70" font-size="10" text-anchor="middle" fill="#111" stroke="#111" stroke-width="0.1" transform="rotate(-90 496.20 58.70)">Lipid ROS level (%)</text>
<text x="517.50" y="126.70" font-size="8.6" text-anchor="end" fill="#111" stroke="#111" stroke-width="0.1">sgNC</text>
<text x="523.90" y="126.70" font-size="8.6" text-anchor="middle" fill="#111" stroke="#111" stroke-width="0.1">+</text>
<text x="537.40" y="126.70" font-size="8.6" text-anchor="middle" fill="#111" stroke="#111" stroke-width="0.1">-</text>
<text x="550.90" y="126.70" font-size="8.6" text-anchor="middle" fill="#111" stroke="#111" stroke-width="0.1">-</text>
<text x="564.40" y="126.70" font-size="8.6" text-anchor="middle" fill="#111" stroke="#111" stroke-width="0.1">-</text>
<text x="577.90" y="126.70" font-size="8.6" text-anchor="middle" fill="#111" stroke="#111" stroke-width="0.1">-</text>
<text x="591.40" y="126.70" font-size="8.6" text-anchor="middle" fill="#111" stroke="#111" stroke-width="0.1">-</text>
<text x="604.90" y="126.70" font-size="8.6" text-anchor="middle" fill="#111" stroke="#111" stroke-width="0.1">+</text>
<text x="618.40" y="126.70" font-size="8.6" text-anchor="middle" fill="#111" stroke="#111" stroke-width="0.1">-</text>
<text x="631.90" y="126.70" font-size="8.6" text-anchor="middle" fill="#111" stroke="#111" stroke-width="0.1">-</text>
<text x="645.40" y="126.70" font-size="8.6" text-anchor="middle" fill="#111" stroke="#111" stroke-width="0.1">-</text>
<text x="658.90" y="126.70" font-size="8.6" text-anchor="middle" fill="#111" stroke="#111" stroke-width="0.1">-</text>
<text x="672.40" y="126.70" font-size="8.6" text-anchor="middle" fill="#111" stroke="#111" stroke-width="0.1">-</text>
<text x="517.50" y="136.70" font-size="8.6" text-anchor="end" fill="#111" stroke="#111" stroke-width="0.1">sgTHRAP3</text>
<text x="523.90" y="136.70" font-size="8.6" text-anchor="middle" fill="#111" stroke="#111" stroke-width="0.1">-</text>
<text x="537.40" y="136.70" font-size="8.6" text-anchor="middle" fill="#111" stroke="#111" stroke-width="0.1">+</text>
<text x="550.90" y="136.70" font-size="8.6" text-anchor="middle" fill="#111" stroke="#111" stroke-width="0.1">-</text>
<text x="564.40" y="136.70" font-size="8.6" text-anchor="middle" fill="#111" stroke="#111" stroke-width="0.1">-</text>
<text x="577.90" y="136.70" font-size="8.6" text-anchor="middle" fill="#111" stroke="#111" stroke-width="0.1">+</text>
<text x="591.40" y="136.70" font-size="8.6" text-anchor="middle" fill="#111" stroke="#111" stroke-width="0.1">+</text>
<text x="604.90" y="136.70" font-size="8.6" text-anchor="middle" fill="#111" stroke="#111" stroke-width="0.1">-</text>
<text x="618.40" y="136.70" font-size="8.6" text-anchor="middle" fill="#111" stroke="#111" stroke-width="0.1">+</text>
<text x="631.90" y="136.70" font-size="8.6" text-anchor="middle" fill="#111" stroke="#111" stroke-width="0.1">-</text>
<text x="645.40" y="136.70" font-size="8.6" text-anchor="middle" fill="#111" stroke="#111" stroke-width="0.1">-</text>
<text x="658.90" y="136.70" font-size="8.6" text-anchor="middle" fill="#111" stroke="#111" stroke-width="0.1">+</text>
<text x="672.40" y="136.70" font-size="8.6" text-anchor="middle" fill="#111" stroke="#111" stroke-width="0.1">+</text>
<text x="517.50" y="145.80" font-size="8.6" text-anchor="end" fill="#111" stroke="#111" stroke-width="0.1">Vector</text>
<text x="523.90" y="145.80" font-size="8.6" text-anchor="middle" fill="#111" stroke="#111" stroke-width="0.1">-</text>
<text x="537.40" y="145.80" font-size="8.6" text-anchor="middle" fill="#111" stroke="#111" stroke-width="0.1">-</text>
<text x="550.90" y="145.80" font-size="8.6" text-anchor="middle" fill="#111" stroke="#111" stroke-width="0.1">+</text>
<text x="564.40" y="145.80" font-size="8.6" text-anchor="middle" fill="#111" stroke="#111" stroke-width="0.1">-</text>
<text x="577.90" y="145.80" font-size="8.6" text-anchor="middle" fill="#111" stroke="#111" stroke-width="0.1">+</text>
<text x="591.40" y="145.80" font-size="8.6" text-anchor="middle" fill="#111" stroke="#111" stroke-width="0.1">-</text>
<text x="604.90" y="145.80" font-size="8.6" text-anchor="middle" fill="#111" stroke="#111" stroke-width="0.1">-</text>
<text x="618.40" y="145.80" font-size="8.6" text-anchor="middle" fill="#111" stroke="#111" stroke-width="0.1">-</text>
<text x="631.90" y="145.80" font-size="8.6" text-anchor="middle" fill="#111" stroke="#111" stroke-width="0.1">+</text>
<text x="645.40" y="145.80" font-size="8.6" text-anchor="middle" fill="#111" stroke="#111" stroke-width="0.1">-</text>
<text x="658.90" y="145.80" font-size="8.6" text-anchor="middle" fill="#111" stroke="#111" stroke-width="0.1">+</text>
<text x="672.40" y="145.80" font-size="8.6" text-anchor="middle" fill="#111" stroke="#111" stroke-width="0.1">-</text>
<text x="517.50" y="155.90" font-size="8.6" text-anchor="end" fill="#111" stroke="#111" stroke-width="0.1">GIT2-S</text>
<text x="523.90" y="155.90" font-size="8.6" text-anchor="middle" fill="#111" stroke="#111" stroke-width="0.1">-</text>
<text x="537.40" y="155.90" font-size="8.6" text-anchor="middle" fill="#111" stroke="#111" stroke-width="0.1">-</text>
<text x="550.90" y="155.90" font-size="8.6" text-anchor="middle" fill="#111" stroke="#111" stroke-width="0.1">-</text>
<text x="564.40" y="155.90" font-size="8.6" text-anchor="middle" fill="#111" stroke="#111" stroke-width="0.1">-</text>
<text x="577.90" y="155.90" font-size="8.6" text-anchor="middle" fill="#111" stroke="#111" stroke-width="0.1">-</text>
<text x="591.40" y="155.90" font-size="8.6" text-anchor="middle" fill="#111" stroke="#111" stroke-width="0.1">+</text>
<text x="604.90" y="155.90" font-size="8.6" text-anchor="middle" fill="#111" stroke="#111" stroke-width="0.1">-</text>
<text x="618.40" y="155.90" font-size="8.6" text-anchor="middle" fill="#111" stroke="#111" stroke-width="0.1">-</text>
<text x="631.90" y="155.90" font-size="8.6" text-anchor="middle" fill="#111" stroke="#111" stroke-width="0.1">-</text>
<text x="645.40" y="155.90" font-size="8.6" text-anchor="middle" fill="#111" stroke="#111" stroke-width="0.1">-</text>
<text x="658.90" y="155.90" font-size="8.6" text-anchor="middle" fill="#111" stroke="#111" stroke-width="0.1">-</text>
<text x="672.40" y="155.90" font-size="8.6" text-anchor="middle" fill="#111" stroke="#111" stroke-width="0.1">+</text>
<text x="517.50" y="166.30" font-size="8.6" text-anchor="end" fill="#111" stroke="#111" stroke-width="0.1">GIT2-L</text>
<text x="523.90" y="166.30" font-size="8.6" text-anchor="middle" fill="#111" stroke="#111" stroke-width="0.1">-</text>
<text x="537.40" y="166.30" font-size="8.6" text-anchor="middle" fill="#111" stroke="#111" stroke-width="0.1">-</text>
<text x="550.90" y="166.30" font-size="8.6" text-anchor="middle" fill="#111" stroke="#111" stroke-width="0.1">-</text>
<text x="564.40" y="166.30" font-size="8.6" text-anchor="middle" fill="#111" stroke="#111" stroke-width="0.1">+</text>
<text x="577.90" y="166.30" font-size="8.6" text-anchor="middle" fill="#111" stroke="#111" stroke-width="0.1">-</text>
<text x="591.40" y="166.30" font-size="8.6" text-anchor="middle" fill="#111" stroke="#111" stroke-width="0.1">-</text>
<text x="604.90" y="166.30" font-size="8.6" text-anchor="middle" fill="#111" stroke="#111" stroke-width="0.1">-</text>
<text x="618.40" y="166.30" font-size="8.6" text-anchor="middle" fill="#111" stroke="#111" stroke-width="0.1">-</text>
<text x="631.90" y="166.30" font-size="8.6" text-anchor="middle" fill="#111" stroke="#111" stroke-width="0.1">-</text>
<text x="645.40" y="166.30" font-size="8.6" text-anchor="middle" fill="#111" stroke="#111" stroke-width="0.1">+</text>
<text x="658.90" y="166.30" font-size="8.6" text-anchor="middle" fill="#111" stroke="#111" stroke-width="0.1">-</text>
<text x="672.40" y="166.30" font-size="8.6" text-anchor="middle" fill="#111" stroke="#111" stroke-width="0.1">-</text>
<text x="517.50" y="176.40" font-size="8.6" text-anchor="end" fill="#111" stroke="#111" stroke-width="0.1">RSL3</text>
<text x="523.90" y="176.40" font-size="8.6" text-anchor="middle" fill="#111" stroke="#111" stroke-width="0.1">-</text>
<text x="537.40" y="176.40" font-size="8.6" text-anchor="middle" fill="#111" stroke="#111" stroke-width="0.1">-</text>
<text x="550.90" y="176.40" font-size="8.6" text-anchor="middle" fill="#111" stroke="#111" stroke-width="0.1">-</text>
<text x="564.40" y="176.40" font-size="8.6" text-anchor="middle" fill="#111" stroke="#111" stroke-width="0.1">-</text>
<text x="577.90" y="176.40" font-size="8.6" text-anchor="middle" fill="#111" stroke="#111" stroke-width="0.1">-</text>
<text x="591.40" y="176.40" font-size="8.6" text-anchor="middle" fill="#111" stroke="#111" stroke-width="0.1">-</text>
<text x="604.90" y="176.40" font-size="8.6" text-anchor="middle" fill="#111" stroke="#111" stroke-width="0.1">+</text>
<text x="618.40" y="176.40" font-size="8.6" text-anchor="middle" fill="#111" stroke="#111" stroke-width="0.1">+</text>
<text x="631.90" y="176.40" font-size="8.6" text-anchor="middle" fill="#111" stroke="#111" stroke-width="0.1">+</text>
<text x="645.40" y="176.40" font-size="8.6" text-anchor="middle" fill="#111" stroke="#111" stroke-width="0.1">+</text>
<text x="658.90" y="176.40" font-size="8.6" text-anchor="middle" fill="#111" stroke="#111" stroke-width="0.1">+</text>
<text x="672.40" y="176.40" font-size="8.6" text-anchor="middle" fill="#111" stroke="#111" stroke-width="0.1">+</text>
<text x="6.00" y="202.20" font-size="14.2" text-anchor="start" font-weight="bold" fill="#000">C</text>
<line x1="42.40" y1="207.50" x2="42.40" y2="312.30" stroke="#333" stroke-width="1.0"/>
<line x1="41.90" y1="311.90" x2="209.50" y2="311.90" stroke="#333" stroke-width="1.0"/>
<line x1="37.60" y1="311.90" x2="42.40" y2="311.90" stroke="#333" stroke-width="0.9"/>
<text x="36.80" y="314.96" font-size="8.5" text-anchor="end" fill="#111" stroke="#111" stroke-width="0.1">0</text>
<line x1="37.60" y1="277.10" x2="42.40" y2="277.10" stroke="#333" stroke-width="0.9"/>
<text x="36.80" y="280.16" font-size="8.5" text-anchor="end" fill="#111" stroke="#111" stroke-width="0.1">2</text>
<line x1="37.60" y1="242.30" x2="42.40" y2="242.30" stroke="#333" stroke-width="0.9"/>
<text x="36.80" y="245.36" font-size="8.5" text-anchor="end" fill="#111" stroke="#111" stroke-width="0.1">4</text>
<line x1="37.60" y1="207.50" x2="42.40" y2="207.50" stroke="#333" stroke-width="0.9"/>
<text x="36.80" y="210.56" font-size="8.5" text-anchor="end" fill="#111" stroke="#111" stroke-width="0.1">6</text>
<rect x="48.00" y="295.37" width="7.20" height="16.53" fill="#f64444"/>
<line x1="51.60" y1="294.50" x2="51.60" y2="296.24" stroke="#111" stroke-width="0.8"/>
<line x1="49.08" y1="294.50" x2="54.12" y2="294.50" stroke="#111" stroke-width="0.8"/>
<circle cx="49.44" cy="295.28" r="2.00" fill="#000"/>
<circle cx="53.40" cy="294.54" r="2.00" fill="#000"/>
<circle cx="51.60" cy="296.20" r="2.00" fill="#000"/>
<line x1="51.60" y1="311.90" x2="51.60" y2="316.50" stroke="#333" stroke-width="0.9"/>
<rect x="61.45" y="277.97" width="7.20" height="33.93" fill="#44f80c"/>
<line x1="65.05" y1="274.49" x2="65.05" y2="281.45" stroke="#111" stroke-width="0.8"/>
<line x1="62.53" y1="274.49" x2="67.57" y2="274.49" stroke="#111" stroke-width="0.8"/>
<rect x="64.85" y="272.66" width="4.00" height="4.00" fill="#000"/>
<rect x="63.05" y="279.28" width="4.00" height="4.00" fill="#000"/>
<rect x="60.89" y="275.62" width="4.00" height="4.00" fill="#000"/>
<line x1="65.05" y1="311.90" x2="65.05" y2="316.50" stroke="#333" stroke-width="0.9"/>
<rect x="74.90" y="296.24" width="7.20" height="15.66" fill="#fd35fd"/>
<line x1="78.50" y1="295.37" x2="78.50" y2="297.11" stroke="#111" stroke-width="0.8"/>
<line x1="75.98" y1="295.37" x2="81.02" y2="295.37" stroke="#111" stroke-width="0.8"/>
<path d="M78.50 294.87L80.70 298.67L76.30 298.67Z" fill="#000"/>
<path d="M76.34 293.95L78.54 297.75L74.14 297.75Z" fill="#000"/>
<path d="M80.30 293.21L82.50 297.01L78.10 297.01Z" fill="#000"/>
<line x1="78.50" y1="311.90" x2="78.50" y2="316.50" stroke="#333" stroke-width="0.9"/>
<rect x="88.35" y="279.71" width="7.20" height="32.19" fill="#f0822a"/>
<line x1="91.95" y1="276.23" x2="91.95" y2="283.19" stroke="#111" stroke-width="0.8"/>
<line x1="89.43" y1="276.23" x2="94.47" y2="276.23" stroke="#111" stroke-width="0.8"/>
<path d="M89.79 281.56L91.99 277.76L87.59 277.76Z" fill="#000"/>
<path d="M93.75 278.60L95.95 274.80L91.55 274.80Z" fill="#000"/>
<path d="M91.95 285.22L94.15 281.42L89.75 281.42Z" fill="#000"/>
<line x1="91.95" y1="311.90" x2="91.95" y2="316.50" stroke="#333" stroke-width="0.9"/>
<rect x="101.80" y="282.32" width="7.20" height="29.58" fill="#80fbfb"/>
<line x1="105.40" y1="278.84" x2="105.40" y2="285.80" stroke="#111" stroke-width="0.8"/>
<line x1="102.88" y1="278.84" x2="107.92" y2="278.84" stroke="#111" stroke-width="0.8"/>
<path d="M107.20 276.61L109.20 279.01L107.20 281.41L105.20 279.01Z" fill="#000"/>
<path d="M105.40 283.23L107.40 285.63L105.40 288.03L103.40 285.63Z" fill="#000"/>
<path d="M103.24 279.57L105.24 281.97L103.24 284.37L101.24 281.97Z" fill="#000"/>
<line x1="105.40" y1="311.90" x2="105.40" y2="316.50" stroke="#333" stroke-width="0.9"/>
<rect x="115.25" y="296.24" width="7.20" height="15.66" fill="#1200f4"/>
<line x1="118.85" y1="295.37" x2="118.85" y2="297.11" stroke="#111" stroke-width="0.8"/>
<line x1="116.33" y1="295.37" x2="121.37" y2="295.37" stroke="#111" stroke-width="0.8"/>
<circle cx="118.85" cy="297.07" r="2.00" fill="#fff" stroke="#000" stroke-width="0.7"/>
<circle cx="116.69" cy="296.15" r="2.00" fill="#fff" stroke="#000" stroke-width="0.7"/>
<circle cx="120.65" cy="295.41" r="2.00" fill="#fff" stroke="#000" stroke-width="0.7"/>
<line x1="118.85" y1="311.90" x2="118.85" y2="316.50" stroke="#333" stroke-width="0.9"/>
<rect x="128.70" y="272.75" width="7.20" height="39.15" fill="#f07878"/>
<line x1="132.30" y1="271.01" x2="132.30" y2="274.49" stroke="#111" stroke-width="0.8"/>
<line x1="129.78" y1="271.01" x2="134.82" y2="271.01" stroke="#111" stroke-width="0.8"/>
<rect x="128.14" y="270.58" width="4.00" height="4.00" fill="#fff" stroke="#000" stroke-width="0.7"/>
<rect x="132.10" y="269.10" width="4.00" height="4.00" fill="#fff" stroke="#000" stroke-width="0.7"/>
<rect x="130.30" y="272.40" width="4.00" height="4.00" fill="#fff" stroke="#000" stroke-width="0.7"/>
<line x1="132.30" y1="311.90" x2="132.30" y2="316.50" stroke="#333" stroke-width="0.9"/>
<rect x="142.15" y="237.08" width="7.20" height="74.82" fill="#aaf8a0"/>
<line x1="145.75" y1="230.99" x2="145.75" y2="243.17" stroke="#111" stroke-width="0.8"/>
<line x1="143.23" y1="230.99" x2="148.27" y2="230.99" stroke="#111" stroke-width="0.8"/>
<path d="M147.55 229.09L149.75 232.89L145.35 232.89Z" fill="#fff" stroke="#000" stroke-width="0.7"/>
<path d="M145.75 240.67L147.95 244.47L143.55 244.47Z" fill="#fff" stroke="#000" stroke-width="0.7"/>
<path d="M143.59 234.27L145.79 238.07L141.39 238.07Z" fill="#fff" stroke="#000" stroke-width="0.7"/>
<line x1="145.75" y1="311.90" x2="145.75" y2="316.50" stroke="#333" stroke-width="0.9"/>
<rect x="155.60" y="274.49" width="7.20" height="37.41" fill="#f096d8"/>
<line x1="159.20" y1="271.01" x2="159.20" y2="277.97" stroke="#111" stroke-width="0.8"/>
<line x1="156.68" y1="271.01" x2="161.72" y2="271.01" stroke="#111" stroke-width="0.8"/>
<circle cx="159.20" cy="277.80" r="2.00" fill="#000"/>
<circle cx="157.04" cy="274.14" r="2.00" fill="#000"/>
<circle cx="161.00" cy="271.18" r="2.00" fill="#000"/>
<line x1="159.20" y1="311.90" x2="159.20" y2="316.50" stroke="#333" stroke-width="0.9"/>
<rect x="169.05" y="233.60" width="7.20" height="78.30" fill="#ecb87c"/>
<line x1="172.65" y1="229.25" x2="172.65" y2="237.95" stroke="#111" stroke-width="0.8"/>
<line x1="170.13" y1="229.25" x2="175.17" y2="229.25" stroke="#111" stroke-width="0.8"/>
<circle cx="170.49" cy="233.16" r="2.00" fill="#000"/>
<circle cx="174.45" cy="229.47" r="2.00" fill="#000"/>
<circle cx="172.65" cy="237.73" r="2.00" fill="#000"/>
<line x1="172.65" y1="311.90" x2="172.65" y2="316.50" stroke="#333" stroke-width="0.9"/>
<rect x="182.50" y="245.78" width="7.20" height="66.12" fill="#bcfce2"/>
<line x1="186.10" y1="241.43" x2="186.10" y2="250.13" stroke="#111" stroke-width="0.8"/>
<line x1="183.58" y1="241.43" x2="188.62" y2="241.43" stroke="#111" stroke-width="0.8"/>
<circle cx="187.90" cy="241.65" r="2.00" fill="#000"/>
<circle cx="186.10" cy="249.91" r="2.00" fill="#000"/>
<circle cx="183.94" cy="245.34" r="2.00" fill="#000"/>
<line x1="186.10" y1="311.90" x2="186.10" y2="316.50" stroke="#333" stroke-width="0.9"/>
<rect x="195.95" y="279.71" width="7.20" height="32.19" fill="#9292f8"/>
<line x1="199.55" y1="274.49" x2="199.55" y2="284.93" stroke="#111" stroke-width="0.8"/>
<line x1="197.03" y1="274.49" x2="202.07" y2="274.49" stroke="#111" stroke-width="0.8"/>
<circle cx="199.55" cy="284.67" r="2.00" fill="#000"/>
<circle cx="197.39" cy="279.19" r="2.00" fill="#000"/>
<circle cx="201.35" cy="274.75" r="2.00" fill="#000"/>
<line x1="199.55" y1="311.90" x2="199.55" y2="316.50" stroke="#333" stroke-width="0.9"/>
<path d="M51.60 289.16V266.16H65.05V272.16" fill="none" stroke="#222" stroke-width="0.8"/>
<text x="58.33" y="266.76" font-size="8.6" text-anchor="middle" fill="#000" stroke="#000" stroke-width="0.1">**</text>
<path d="M78.50 290.90V267.90H91.95V273.90" fill="none" stroke="#222" stroke-width="0.8"/>
<text x="85.22" y="268.50" font-size="8.6" text-anchor="middle" fill="#000" stroke="#000" stroke-width="0.1">**</text>
<path d="M105.40 276.51V270.51H118.85V292.91" fill="none" stroke="#222" stroke-width="0.8"/>
<text x="112.12" y="271.11" font-size="8.6" text-anchor="middle" fill="#000" stroke="#000" stroke-width="0.1">*</text>
<path d="M132.30 245.79V222.79H145.75V228.79" fill="none" stroke="#222" stroke-width="0.8"/>
<text x="139.02" y="223.39" font-size="8.6" text-anchor="middle" fill="#000" stroke="#000" stroke-width="0.1">***</text>
<path d="M159.20 243.97V220.97H172.65V226.97" fill="none" stroke="#222" stroke-width="0.8"/>
<text x="165.93" y="221.57" font-size="8.6" text-anchor="middle" fill="#000" stroke="#000" stroke-width="0.1">***</text>
<path d="M186.10 239.15V233.15H199.55V256.15" fill="none" stroke="#222" stroke-width="0.8"/>
<text x="192.82" y="233.75" font-size="8.6" text-anchor="middle" fill="#000" stroke="#000" stroke-width="0.1">***</text>
<text x="50.80" y="215.30" font-size="9.4" text-anchor="start" font-weight="bold" fill="#111">THP-1</text>
<text x="26.40" y="260.50" font-size="10" text-anchor="middle" fill="#111" stroke="#111" stroke-width="0.1" transform="rotate(-90 26.40 260.50)">MDA level (fold change)</text>
<text x="44.80" y="324.30" font-size="8.6" text-anchor="end" fill="#111" stroke="#111" stroke-width="0.1">sgNC</text>
<text x="51.60" y="324.30" font-size="8.6" text-anchor="middle" fill="#111" stroke="#111" stroke-width="0.1">+</text>
<text x="65.05" y="324.30" font-size="8.6" text-anchor="middle" fill="#111" stroke="#111" stroke-width="0.1">-</text>
<text x="78.50" y="324.30" font-size="8.6" text-anchor="middle" fill="#111" stroke="#111" stroke-width="0.1">-</text>
<text x="91.95" y="324.30" font-size="8.6" text-anchor="middle" fill="#111" stroke="#111" stroke-width="0.1">-</text>
<text x="105.40" y="324.30" font-size="8.6" text-anchor="middle" fill="#111" stroke="#111" stroke-width="0.1">-</text>
<text x="118.85" y="324.30" font-size="8.6" text-anchor="middle" fill="#111" stroke="#111" stroke-width="0.1">-</text>
<text x="132.30" y="324.30" font-size="8.6" text-anchor="middle" fill="#111" stroke="#111" stroke-width="0.1">+</text>
<text x="145.75" y="324.30" font-size="8.6" text-anchor="middle" fill="#111" stroke="#111" stroke-width="0.1">-</text>
<text x="159.20" y="324.30" font-size="8.6" text-anchor="middle" fill="#111" stroke="#111" stroke-width="0.1">-</text>
<text x="172.65" y="324.30" font-size="8.6" text-anchor="middle" fill="#111" stroke="#111" stroke-width="0.1">-</text>
<text x="186.10" y="324.30" font-size="8.6" text-anchor="middle" fill="#111" stroke="#111" stroke-width="0.1">-</text>
<text x="199.55" y="324.30" font-size="8.6" text-anchor="middle" fill="#111" stroke="#111" stroke-width="0.1">-</text>
<text x="44.80" y="334.20" font-size="8.6" text-anchor="end" fill="#111" stroke="#111" stroke-width="0.1">sgTHRAP3</text>
<text x="51.60" y="334.20" font-size="8.6" text-anchor="middle" fill="#111" stroke="#111" stroke-width="0.1">-</text>
<text x="65.05" y="334.20" font-size="8.6" text-anchor="middle" fill="#111" stroke="#111" stroke-width="0.1">+</text>
<text x="78.50" y="334.20" font-size="8.6" text-anchor="middle" fill="#111" stroke="#111" stroke-width="0.1">-</text>
<text x="91.95" y="334.20" font-size="8.6" text-anchor="middle" fill="#111" stroke="#111" stroke-width="0.1">-</text>
<text x="105.40" y="334.20" font-size="8.6" text-anchor="middle" fill="#111" stroke="#111" stroke-width="0.1">+</text>
<text x="118.85" y="334.20" font-size="8.6" text-anchor="middle" fill="#111" stroke="#111" stroke-width="0.1">+</text>
<text x="132.30" y="334.20" font-size="8.6" text-anchor="middle" fill="#111" stroke="#111" stroke-width="0.1">-</text>
<text x="145.75" y="334.20" font-size="8.6" text-anchor="middle" fill="#111" stroke="#111" stroke-width="0.1">+</text>
<text x="159.20" y="334.20" font-size="8.6" text-anchor="middle" fill="#111" stroke="#111" stroke-width="0.1">-</text>
<text x="172.65" y="334.20" font-size="8.6" text-anchor="middle" fill="#111" stroke="#111" stroke-width="0.1">-</text>
<text x="186.10" y="334.20" font-size="8.6" text-anchor="middle" fill="#111" stroke="#111" stroke-width="0.1">+</text>
<text x="199.55" y="334.20" font-size="8.6" text-anchor="middle" fill="#111" stroke="#111" stroke-width="0.1">+</text>
<text x="44.80" y="342.60" font-size="8.6" text-anchor="end" fill="#111" stroke="#111" stroke-width="0.1">Vector</text>
<text x="51.60" y="342.60" font-size="8.6" text-anchor="middle" fill="#111" stroke="#111" stroke-width="0.1">-</text>
<text x="65.05" y="342.60" font-size="8.6" text-anchor="middle" fill="#111" stroke="#111" stroke-width="0.1">-</text>
<text x="78.50" y="342.60" font-size="8.6" text-anchor="middle" fill="#111" stroke="#111" stroke-width="0.1">+</text>
<text x="91.95" y="342.60" font-size="8.6" text-anchor="middle" fill="#111" stroke="#111" stroke-width="0.1">-</text>
<text x="105.40" y="342.60" font-size="8.6" text-anchor="middle" fill="#111" stroke="#111" stroke-width="0.1">+</text>
<text x="118.85" y="342.60" font-size="8.6" text-anchor="middle" fill="#111" stroke="#111" stroke-width="0.1">-</text>
<text x="132.30" y="342.60" font-size="8.6" text-anchor="middle" fill="#111" stroke="#111" stroke-width="0.1">-</text>
<text x="145.75" y="342.60" font-size="8.6" text-anchor="middle" fill="#111" stroke="#111" stroke-width="0.1">-</text>
<text x="159.20" y="342.60" font-size="8.6" text-anchor="middle" fill="#111" stroke="#111" stroke-width="0.1">+</text>
<text x="172.65" y="342.60" font-size="8.6" text-anchor="middle" fill="#111" stroke="#111" stroke-width="0.1">-</text>
<text x="186.10" y="342.60" font-size="8.6" text-anchor="middle" fill="#111" stroke="#111" stroke-width="0.1">+</text>
<text x="199.55" y="342.60" font-size="8.6" text-anchor="middle" fill="#111" stroke="#111" stroke-width="0.1">-</text>
<text x="44.80" y="352.70" font-size="8.6" text-anchor="end" fill="#111" stroke="#111" stroke-width="0.1">GIT2-S</text>
<text x="51.60" y="352.70" font-size="8.6" text-anchor="middle" fill="#111" stroke="#111" stroke-width="0.1">-</text>
<text x="65.05" y="352.70" font-size="8.6" text-anchor="middle" fill="#111" stroke="#111" stroke-width="0.1">-</text>
<text x="78.50" y="352.70" font-size="8.6" text-anchor="middle" fill="#111" stroke="#111" stroke-width="0.1">-</text>
<text x="91.95" y="352.70" font-size="8.6" text-anchor="middle" fill="#111" stroke="#111" stroke-width="0.1">-</text>
<text x="105.40" y="352.70" font-size="8.6" text-anchor="middle" fill="#111" stroke="#111" stroke-width="0.1">-</text>
<text x="118.85" y="352.70" font-size="8.6" text-anchor="middle" fill="#111" stroke="#111" stroke-width="0.1">+</text>
<text x="132.30" y="352.70" font-size="8.6" text-anchor="middle" fill="#111" stroke="#111" stroke-width="0.1">-</text>
<text x="145.75" y="352.70" font-size="8.6" text-anchor="middle" fill="#111" stroke="#111" stroke-width="0.1">-</text>
<text x="159.20" y="352.70" font-size="8.6" text-anchor="middle" fill="#111" stroke="#111" stroke-width="0.1">-</text>
<text x="172.65" y="352.70" font-size="8.6" text-anchor="middle" fill="#111" stroke="#111" stroke-width="0.1">-</text>
<text x="186.10" y="352.70" font-size="8.6" text-anchor="middle" fill="#111" stroke="#111" stroke-width="0.1">-</text>
<text x="199.55" y="352.70" font-size="8.6" text-anchor="middle" fill="#111" stroke="#111" stroke-width="0.1">+</text>
<text x="44.80" y="363.40" font-size="8.6" text-anchor="end" fill="#111" stroke="#111" stroke-width="0.1">GIT2-L</text>
<text x="51.60" y="363.40" font-size="8.6" text-anchor="middle" fill="#111" stroke="#111" stroke-width="0.1">-</text>
<text x="65.05" y="363.40" font-size="8.6" text-anchor="middle" fill="#111" stroke="#111" stroke-width="0.1">-</text>
<text x="78.50" y="363.40" font-size="8.6" text-anchor="middle" fill="#111" stroke="#111" stroke-width="0.1">-</text>
<text x="91.95" y="363.40" font-size="8.6" text-anchor="middle" fill="#111" stroke="#111" stroke-width="0.1">+</text>
<text x="105.40" y="363.40" font-size="8.6" text-anchor="middle" fill="#111" stroke="#111" stroke-width="0.1">-</text>
<text x="118.85" y="363.40" font-size="8.6" text-anchor="middle" fill="#111" stroke="#111" stroke-width="0.1">-</text>
<text x="132.30" y="363.40" font-size="8.6" text-anchor="middle" fill="#111" stroke="#111" stroke-width="0.1">-</text>
<text x="145.75" y="363.40" font-size="8.6" text-anchor="middle" fill="#111" stroke="#111" stroke-width="0.1">-</text>
<text x="159.20" y="363.40" font-size="8.6" text-anchor="middle" fill="#111" stroke="#111" stroke-width="0.1">-</text>
<text x="172.65" y="363.40" font-size="8.6" text-anchor="middle" fill="#111" stroke="#111" stroke-width="0.1">+</text>
<text x="186.10" y="363.40" font-size="8.6" text-anchor="middle" fill="#111" stroke="#111" stroke-width="0.1">-</text>
<text x="199.55" y="363.40" font-size="8.6" text-anchor="middle" fill="#111" stroke="#111" stroke-width="0.1">-</text>
<text x="44.80" y="373.50" font-size="8.6" text-anchor="end" fill="#111" stroke="#111" stroke-width="0.1">RSL3</text>
<text x="51.60" y="373.50" font-size="8.6" text-anchor="middle" fill="#111" stroke="#111" stroke-width="0.1">-</text>
<text x="65.05" y="373.50" font-size="8.6" text-anchor="middle" fill="#111" stroke="#111" stroke-width="0.1">-</text>
<text x="78.50" y="373.50" font-size="8.6" text-anchor="middle" fill="#111" stroke="#111" stroke-width="0.1">-</text>
<text x="91.95" y="373.50" font-size="8.6" text-anchor="middle" fill="#111" stroke="#111" stroke-width="0.1">-</text>
<text x="105.40" y="373.50" font-size="8.6" text-anchor="middle" fill="#111" stroke="#111" stroke-width="0.1">-</text>
<text x="118.85" y="373.50" font-size="8.6" text-anchor="middle" fill="#111" stroke="#111" stroke-width="0.1">-</text>
<text x="132.30" y="373.50" font-size="8.6" text-anchor="middle" fill="#111" stroke="#111" stroke-width="0.1">+</text>
<text x="145.75" y="373.50" font-size="8.6" text-anchor="middle" fill="#111" stroke="#111" stroke-width="0.1">+</text>
<text x="159.20" y="373.50" font-size="8.6" text-anchor="middle" fill="#111" stroke="#111" stroke-width="0.1">+</text>
<text x="172.65" y="373.50" font-size="8.6" text-anchor="middle" fill="#111" stroke="#111" stroke-width="0.1">+</text>
<text x="186.10" y="373.50" font-size="8.6" text-anchor="middle" fill="#111" stroke="#111" stroke-width="0.1">+</text>
<text x="199.55" y="373.50" font-size="8.6" text-anchor="middle" fill="#111" stroke="#111" stroke-width="0.1">+</text>
<text x="216.40" y="201.90" font-size="14.2" text-anchor="start" font-weight="bold" fill="#000">E</text>
<line x1="274.40" y1="207.40" x2="274.40" y2="312.30" stroke="#333" stroke-width="1.0"/>
<line x1="273.90" y1="311.90" x2="438.60" y2="311.90" stroke="#333" stroke-width="1.0"/>
<line x1="269.60" y1="311.90" x2="274.40" y2="311.90" stroke="#333" stroke-width="0.9"/>
<text x="268.80" y="314.96" font-size="8.5" text-anchor="end" fill="#111" stroke="#111" stroke-width="0.1">0.0</text>
<line x1="269.60" y1="277.07" x2="274.40" y2="277.07" stroke="#333" stroke-width="0.9"/>
<text x="268.80" y="280.13" font-size="8.5" text-anchor="end" fill="#111" stroke="#111" stroke-width="0.1">0.5</text>
<line x1="269.60" y1="242.23" x2="274.40" y2="242.23" stroke="#333" stroke-width="0.9"/>
<text x="268.80" y="245.29" font-size="8.5" text-anchor="end" fill="#111" stroke="#111" stroke-width="0.1">1.0</text>
<line x1="269.60" y1="207.40" x2="274.40" y2="207.40" stroke="#333" stroke-width="0.9"/>
<text x="268.80" y="210.46" font-size="8.5" text-anchor="end" fill="#111" stroke="#111" stroke-width="0.1">1.5</text>
<rect x="279.30" y="242.23" width="7.40" height="69.67" fill="#f64444"/>
<line x1="283.00" y1="238.05" x2="283.00" y2="246.41" stroke="#111" stroke-width="0.8"/>
<line x1="280.41" y1="238.05" x2="285.59" y2="238.05" stroke="#111" stroke-width="0.8"/>
<circle cx="280.78" cy="241.82" r="2.00" fill="#000"/>
<circle cx="284.85" cy="238.26" r="2.00" fill="#000"/>
<circle cx="283.00" cy="246.20" r="2.00" fill="#000"/>
<line x1="283.00" y1="311.90" x2="283.00" y2="316.50" stroke="#333" stroke-width="0.9"/>
<rect x="292.61" y="264.53" width="7.40" height="47.37" fill="#44f80c"/>
<line x1="296.31" y1="258.95" x2="296.31" y2="270.10" stroke="#111" stroke-width="0.8"/>
<line x1="293.72" y1="258.95" x2="298.90" y2="258.95" stroke="#111" stroke-width="0.8"/>
<rect x="296.16" y="257.23" width="4.00" height="4.00" fill="#000"/>
<rect x="294.31" y="267.82" width="4.00" height="4.00" fill="#000"/>
<rect x="292.09" y="261.97" width="4.00" height="4.00" fill="#000"/>
<line x1="296.31" y1="311.90" x2="296.31" y2="316.50" stroke="#333" stroke-width="0.9"/>
<rect x="305.92" y="249.20" width="7.40" height="62.70" fill="#fd35fd"/>
<line x1="309.62" y1="243.63" x2="309.62" y2="254.77" stroke="#111" stroke-width="0.8"/>
<line x1="307.03" y1="243.63" x2="312.21" y2="243.63" stroke="#111" stroke-width="0.8"/>
<path d="M309.62 252.29L311.82 256.09L307.42 256.09Z" fill="#000"/>
<path d="M307.40 246.44L309.60 250.24L305.20 250.24Z" fill="#000"/>
<path d="M311.47 241.71L313.67 245.51L309.27 245.51Z" fill="#000"/>
<line x1="309.62" y1="311.90" x2="309.62" y2="316.50" stroke="#333" stroke-width="0.9"/>
<rect x="319.23" y="263.13" width="7.40" height="48.77" fill="#f0822a"/>
<line x1="322.93" y1="260.35" x2="322.93" y2="265.92" stroke="#111" stroke-width="0.8"/>
<line x1="320.34" y1="260.35" x2="325.52" y2="260.35" stroke="#111" stroke-width="0.8"/>
<path d="M320.71 265.05L322.91 261.25L318.51 261.25Z" fill="#000"/>
<path d="M324.78 262.69L326.98 258.89L322.58 258.89Z" fill="#000"/>
<path d="M322.93 267.98L325.13 264.18L320.73 264.18Z" fill="#000"/>
<line x1="322.93" y1="311.90" x2="322.93" y2="316.50" stroke="#333" stroke-width="0.9"/>
<rect x="332.54" y="265.92" width="7.40" height="45.98" fill="#80fbfb"/>
<line x1="336.24" y1="262.44" x2="336.24" y2="269.40" stroke="#111" stroke-width="0.8"/>
<line x1="333.65" y1="262.44" x2="338.83" y2="262.44" stroke="#111" stroke-width="0.8"/>
<path d="M338.09 260.21L340.09 262.61L338.09 265.01L336.09 262.61Z" fill="#000"/>
<path d="M336.24 266.83L338.24 269.23L336.24 271.63L334.24 269.23Z" fill="#000"/>
<path d="M334.02 263.17L336.02 265.57L334.02 267.97L332.02 265.57Z" fill="#000"/>
<line x1="336.24" y1="311.90" x2="336.24" y2="316.50" stroke="#333" stroke-width="0.9"/>
<rect x="345.85" y="249.20" width="7.40" height="62.70" fill="#1200f4"/>
<line x1="349.55" y1="243.63" x2="349.55" y2="254.77" stroke="#111" stroke-width="0.8"/>
<line x1="346.96" y1="243.63" x2="352.14" y2="243.63" stroke="#111" stroke-width="0.8"/>
<circle cx="349.55" cy="254.49" r="2.00" fill="#fff" stroke="#000" stroke-width="0.7"/>
<circle cx="347.33" cy="248.64" r="2.00" fill="#fff" stroke="#000" stroke-width="0.7"/>
<circle cx="351.40" cy="243.91" r="2.00" fill="#fff" stroke="#000" stroke-width="0.7"/>
<line x1="349.55" y1="311.90" x2="349.55" y2="316.50" stroke="#333" stroke-width="0.9"/>
<rect x="359.16" y="266.62" width="7.40" height="45.28" fill="#f07878"/>
<line x1="362.86" y1="262.44" x2="362.86" y2="270.80" stroke="#111" stroke-width="0.8"/>
<line x1="360.27" y1="262.44" x2="365.45" y2="262.44" stroke="#111" stroke-width="0.8"/>
<rect x="358.64" y="264.20" width="4.00" height="4.00" fill="#fff" stroke="#000" stroke-width="0.7"/>
<rect x="362.71" y="260.65" width="4.00" height="4.00" fill="#fff" stroke="#000" stroke-width="0.7"/>
<rect x="360.86" y="268.59" width="4.00" height="4.00" fill="#fff" stroke="#000" stroke-width="0.7"/>
<line x1="362.86" y1="311.90" x2="362.86" y2="316.50" stroke="#333" stroke-width="0.9"/>
<rect x="372.47" y="279.16" width="7.40" height="32.74" fill="#aaf8a0"/>
<line x1="376.17" y1="274.98" x2="376.17" y2="283.34" stroke="#111" stroke-width="0.8"/>
<line x1="373.58" y1="274.98" x2="378.76" y2="274.98" stroke="#111" stroke-width="0.8"/>
<path d="M378.02 272.99L380.22 276.79L375.82 276.79Z" fill="#fff" stroke="#000" stroke-width="0.7"/>
<path d="M376.17 280.93L378.37 284.73L373.97 284.73Z" fill="#fff" stroke="#000" stroke-width="0.7"/>
<path d="M373.95 276.54L376.15 280.34L371.75 280.34Z" fill="#fff" stroke="#000" stroke-width="0.7"/>
<line x1="376.17" y1="311.90" x2="376.17" y2="316.50" stroke="#333" stroke-width="0.9"/>
<rect x="385.78" y="256.17" width="7.40" height="55.73" fill="#f096d8"/>
<line x1="389.48" y1="250.59" x2="389.48" y2="261.74" stroke="#111" stroke-width="0.8"/>
<line x1="386.89" y1="250.59" x2="392.07" y2="250.59" stroke="#111" stroke-width="0.8"/>
<circle cx="389.48" cy="261.46" r="2.00" fill="#000"/>
<circle cx="387.26" cy="255.61" r="2.00" fill="#000"/>
<circle cx="391.33" cy="250.87" r="2.00" fill="#000"/>
<line x1="389.48" y1="311.90" x2="389.48" y2="316.50" stroke="#333" stroke-width="0.9"/>
<rect x="399.09" y="282.64" width="7.40" height="29.26" fill="#ecb87c"/>
<line x1="402.79" y1="277.07" x2="402.79" y2="288.21" stroke="#111" stroke-width="0.8"/>
<line x1="400.20" y1="277.07" x2="405.38" y2="277.07" stroke="#111" stroke-width="0.8"/>
<circle cx="400.57" cy="282.08" r="2.00" fill="#000"/>
<circle cx="404.64" cy="277.35" r="2.00" fill="#000"/>
<circle cx="402.79" cy="287.93" r="2.00" fill="#000"/>
<line x1="402.79" y1="311.90" x2="402.79" y2="316.50" stroke="#333" stroke-width="0.9"/>
<rect x="412.40" y="274.98" width="7.40" height="36.92" fill="#bcfce2"/>
<line x1="416.10" y1="271.49" x2="416.10" y2="278.46" stroke="#111" stroke-width="0.8"/>
<line x1="413.51" y1="271.49" x2="418.69" y2="271.49" stroke="#111" stroke-width="0.8"/>
<circle cx="417.95" cy="271.67" r="2.00" fill="#000"/>
<circle cx="416.10" cy="278.29" r="2.00" fill="#000"/>
<circle cx="413.88" cy="274.63" r="2.00" fill="#000"/>
<line x1="416.10" y1="311.90" x2="416.10" y2="316.50" stroke="#333" stroke-width="0.9"/>
<rect x="425.71" y="260.35" width="7.40" height="51.55" fill="#9292f8"/>
<line x1="429.41" y1="256.17" x2="429.41" y2="264.53" stroke="#111" stroke-width="0.8"/>
<line x1="426.82" y1="256.17" x2="432.00" y2="256.17" stroke="#111" stroke-width="0.8"/>
<circle cx="429.41" cy="264.32" r="2.00" fill="#000"/>
<circle cx="427.19" cy="259.93" r="2.00" fill="#000"/>
<circle cx="431.26" cy="256.38" r="2.00" fill="#000"/>
<line x1="429.41" y1="311.90" x2="429.41" y2="316.50" stroke="#333" stroke-width="0.9"/>
<path d="M283.00 235.76V229.76H296.31V251.76" fill="none" stroke="#222" stroke-width="0.8"/>
<text x="289.65" y="230.36" font-size="8.6" text-anchor="middle" fill="#000" stroke="#000" stroke-width="0.1">**</text>
<path d="M309.62 241.41V235.41H322.93V257.41" fill="none" stroke="#222" stroke-width="0.8"/>
<text x="316.27" y="236.01" font-size="8.6" text-anchor="middle" fill="#000" stroke="#000" stroke-width="0.1">**</text>
<path d="M336.24 257.41V235.41H349.55V241.41" fill="none" stroke="#222" stroke-width="0.8"/>
<text x="342.89" y="236.01" font-size="8.6" text-anchor="middle" fill="#000" stroke="#000" stroke-width="0.1">**</text>
<path d="M362.86 260.15V254.15H376.17V272.69" fill="none" stroke="#222" stroke-width="0.8"/>
<text x="369.51" y="254.75" font-size="8.6" text-anchor="middle" fill="#000" stroke="#000" stroke-width="0.1">*</text>
<path d="M389.48 248.37V242.37H402.79V264.37" fill="none" stroke="#222" stroke-width="0.8"/>
<text x="396.13" y="242.97" font-size="8.6" text-anchor="middle" fill="#000" stroke="#000" stroke-width="0.1">**</text>
<path d="M416.10 269.17V247.88H429.41V253.88" fill="none" stroke="#222" stroke-width="0.8"/>
<text x="422.75" y="248.48" font-size="8.6" text-anchor="middle" fill="#000" stroke="#000" stroke-width="0.1">*</text>
<text x="280.40" y="214.40" font-size="9.4" text-anchor="start" font-weight="bold" fill="#111">THP-1</text>
<text x="251.20" y="256.60" font-size="10" text-anchor="middle" fill="#111" stroke="#111" stroke-width="0.1" transform="rotate(-90 251.20 256.60)">Mitochondrial area</text>
<text x="275.20" y="324.10" font-size="8.6" text-anchor="end" fill="#111" stroke="#111" stroke-width="0.1">sgNC</text>
<text x="283.00" y="324.10" font-size="8.6" text-anchor="middle" fill="#111" stroke="#111" stroke-width="0.1">+</text>
<text x="296.31" y="324.10" font-size="8.6" text-anchor="middle" fill="#111" stroke="#111" stroke-width="0.1">-</text>
<text x="309.62" y="324.10" font-size="8.6" text-anchor="middle" fill="#111" stroke="#111" stroke-width="0.1">-</text>
<text x="322.93" y="324.10" font-size="8.6" text-anchor="middle" fill="#111" stroke="#111" stroke-width="0.1">-</text>
<text x="336.24" y="324.10" font-size="8.6" text-anchor="middle" fill="#111" stroke="#111" stroke-width="0.1">-</text>
<text x="349.55" y="324.10" font-size="8.6" text-anchor="middle" fill="#111" stroke="#111" stroke-width="0.1">-</text>
<text x="362.86" y="324.10" font-size="8.6" text-anchor="middle" fill="#111" stroke="#111" stroke-width="0.1">+</text>
<text x="376.17" y="324.10" font-size="8.6" text-anchor="middle" fill="#111" stroke="#111" stroke-width="0.1">-</text>
<text x="389.48" y="324.10" font-size="8.6" text-anchor="middle" fill="#111" stroke="#111" stroke-width="0.1">-</text>
<text x="402.79" y="324.10" font-size="8.6" text-anchor="middle" fill="#111" stroke="#111" stroke-width="0.1">-</text>
<text x="416.10" y="324.10" font-size="8.6" text-anchor="middle" fill="#111" stroke="#111" stroke-width="0.1">-</text>
<text x="429.41" y="324.10" font-size="8.6" text-anchor="middle" fill="#111" stroke="#111" stroke-width="0.1">-</text>
<text x="275.20" y="333.80" font-size="8.6" text-anchor="end" fill="#111" stroke="#111" stroke-width="0.1">sgTHRAP3</text>
<text x="283.00" y="333.80" font-size="8.6" text-anchor="middle" fill="#111" stroke="#111" stroke-width="0.1">-</text>
<text x="296.31" y="333.80" font-size="8.6" text-anchor="middle" fill="#111" stroke="#111" stroke-width="0.1">+</text>
<text x="309.62" y="333.80" font-size="8.6" text-anchor="middle" fill="#111" stroke="#111" stroke-width="0.1">-</text>
<text x="322.93" y="333.80" font-size="8.6" text-anchor="middle" fill="#111" stroke="#111" stroke-width="0.1">-</text>
<text x="336.24" y="333.80" font-size="8.6" text-anchor="middle" fill="#111" stroke="#111" stroke-width="0.1">+</text>
<text x="349.55" y="333.80" font-size="8.6" text-anchor="middle" fill="#111" stroke="#111" stroke-width="0.1">+</text>
<text x="362.86" y="333.80" font-size="8.6" text-anchor="middle" fill="#111" stroke="#111" stroke-width="0.1">-</text>
<text x="376.17" y="333.80" font-size="8.6" text-anchor="middle" fill="#111" stroke="#111" stroke-width="0.1">+</text>
<text x="389.48" y="333.80" font-size="8.6" text-anchor="middle" fill="#111" stroke="#111" stroke-width="0.1">-</text>
<text x="402.79" y="333.80" font-size="8.6" text-anchor="middle" fill="#111" stroke="#111" stroke-width="0.1">-</text>
<text x="416.10" y="333.80" font-size="8.6" text-anchor="middle" fill="#111" stroke="#111" stroke-width="0.1">+</text>
<text x="429.41" y="333.80" font-size="8.6" text-anchor="middle" fill="#111" stroke="#111" stroke-width="0.1">+</text>
<text x="275.20" y="343.00" font-size="8.6" text-anchor="end" fill="#111" stroke="#111" stroke-width="0.1">Vector</text>
<text x="283.00" y="343.00" font-size="8.6" text-anchor="middle" fill="#111" stroke="#111" stroke-width="0.1">-</text>
<text x="296.31" y="343.00" font-size="8.6" text-anchor="middle" fill="#111" stroke="#111" stroke-width="0.1">-</text>
<text x="309.62" y="343.00" font-size="8.6" text-anchor="middle" fill="#111" stroke="#111" stroke-width="0.1">+</text>
<text x="322.93" y="343.00" font-size="8.6" text-anchor="middle" fill="#111" stroke="#111" stroke-width="0.1">-</text>
<text x="336.24" y="343.00" font-size="8.6" text-anchor="middle" fill="#111" stroke="#111" stroke-width="0.1">+</text>
<text x="349.55" y="343.00" font-size="8.6" text-anchor="middle" fill="#111" stroke="#111" stroke-width="0.1">-</text>
<text x="362.86" y="343.00" font-size="8.6" text-anchor="middle" fill="#111" stroke="#111" stroke-width="0.1">-</text>
<text x="376.17" y="343.00" font-size="8.6" text-anchor="middle" fill="#111" stroke="#111" stroke-width="0.1">-</text>
<text x="389.48" y="343.00" font-size="8.6" text-anchor="middle" fill="#111" stroke="#111" stroke-width="0.1">+</text>
<text x="402.79" y="343.00" font-size="8.6" text-anchor="middle" fill="#111" stroke="#111" stroke-width="0.1">-</text>
<text x="416.10" y="343.00" font-size="8.6" text-anchor="middle" fill="#111" stroke="#111" stroke-width="0.1">+</text>
<text x="429.41" y="343.00" font-size="8.6" text-anchor="middle" fill="#111" stroke="#111" stroke-width="0.1">-</text>
<text x="275.20" y="353.10" font-size="8.6" text-anchor="end" fill="#111" stroke="#111" stroke-width="0.1">GIT2-S</text>
<text x="283.00" y="353.10" font-size="8.6" text-anchor="middle" fill="#111" stroke="#111" stroke-width="0.1">-</text>
<text x="296.31" y="353.10" font-size="8.6" text-anchor="middle" fill="#111" stroke="#111" stroke-width="0.1">-</text>
<text x="309.62" y="353.10" font-size="8.6" text-anchor="middle" fill="#111" stroke="#111" stroke-width="0.1">-</text>
<text x="322.93" y="353.10" font-size="8.6" text-anchor="middle" fill="#111" stroke="#111" stroke-width="0.1">-</text>
<text x="336.24" y="353.10" font-size="8.6" text-anchor="middle" fill="#111" stroke="#111" stroke-width="0.1">-</text>
<text x="349.55" y="353.10" font-size="8.6" text-anchor="middle" fill="#111" stroke="#111" stroke-width="0.1">+</text>
<text x="362.86" y="353.10" font-size="8.6" text-anchor="middle" fill="#111" stroke="#111" stroke-width="0.1">-</text>
<text x="376.17" y="353.10" font-size="8.6" text-anchor="middle" fill="#111" stroke="#111" stroke-width="0.1">-</text>
<text x="389.48" y="353.10" font-size="8.6" text-anchor="middle" fill="#111" stroke="#111" stroke-width="0.1">-</text>
<text x="402.79" y="353.10" font-size="8.6" text-anchor="middle" fill="#111" stroke="#111" stroke-width="0.1">-</text>
<text x="416.10" y="353.10" font-size="8.6" text-anchor="middle" fill="#111" stroke="#111" stroke-width="0.1">-</text>
<text x="429.41" y="353.10" font-size="8.6" text-anchor="middle" fill="#111" stroke="#111" stroke-width="0.1">+</text>
<text x="275.20" y="363.10" font-size="8.6" text-anchor="end" fill="#111" stroke="#111" stroke-width="0.1">GIT2-L</text>
<text x="283.00" y="363.10" font-size="8.6" text-anchor="middle" fill="#111" stroke="#111" stroke-width="0.1">-</text>
<text x="296.31" y="363.10" font-size="8.6" text-anchor="middle" fill="#111" stroke="#111" stroke-width="0.1">-</text>
<text x="309.62" y="363.10" font-size="8.6" text-anchor="middle" fill="#111" stroke="#111" stroke-width="0.1">-</text>
<text x="322.93" y="363.10" font-size="8.6" text-anchor="middle" fill="#111" stroke="#111" stroke-width="0.1">+</text>
<text x="336.24" y="363.10" font-size="8.6" text-anchor="middle" fill="#111" stroke="#111" stroke-width="0.1">-</text>
<text x="349.55" y="363.10" font-size="8.6" text-anchor="middle" fill="#111" stroke="#111" stroke-width="0.1">-</text>
<text x="362.86" y="363.10" font-size="8.6" text-anchor="middle" fill="#111" stroke="#111" stroke-width="0.1">-</text>
<text x="376.17" y="363.10" font-size="8.6" text-anchor="middle" fill="#111" stroke="#111" stroke-width="0.1">-</text>
<text x="389.48" y="363.10" font-size="8.6" text-anchor="middle" fill="#111" stroke="#111" stroke-width="0.1">-</text>
<text x="402.79" y="363.10" font-size="8.6" text-anchor="middle" fill="#111" stroke="#111" stroke-width="0.1">+</text>
<text x="416.10" y="363.10" font-size="8.6" text-anchor="middle" fill="#111" stroke="#111" stroke-width="0.1">-</text>
<text x="429.41" y="363.10" font-size="8.6" text-anchor="middle" fill="#111" stroke="#111" stroke-width="0.1">-</text>
<text x="275.20" y="372.90" font-size="8.6" text-anchor="end" fill="#111" stroke="#111" stroke-width="0.1">RSL3</text>
<text x="283.00" y="372.90" font-size="8.6" text-anchor="middle" fill="#111" stroke="#111" stroke-width="0.1">-</text>
<text x="296.31" y="372.90" font-size="8.6" text-anchor="middle" fill="#111" stroke="#111" stroke-width="0.1">-</text>
<text x="309.62" y="372.90" font-size="8.6" text-anchor="middle" fill="#111" stroke="#111" stroke-width="0.1">-</text>
<text x="322.93" y="372.90" font-size="8.6" text-anchor="middle" fill="#111" stroke="#111" stroke-width="0.1">-</text>
<text x="336.24" y="372.90" font-size="8.6" text-anchor="middle" fill="#111" stroke="#111" stroke-width="0.1">-</text>
<text x="349.55" y="372.90" font-size="8.6" text-anchor="middle" fill="#111" stroke="#111" stroke-width="0.1">-</text>
<text x="362.86" y="372.90" font-size="8.6" text-anchor="middle" fill="#111" stroke="#111" stroke-width="0.1">+</text>
<text x="376.17" y="372.90" font-size="8.6" text-anchor="middle" fill="#111" stroke="#111" stroke-width="0.1">+</text>
<text x="389.48" y="372.90" font-size="8.6" text-anchor="middle" fill="#111" stroke="#111" stroke-width="0.1">+</text>
<text x="402.79" y="372.90" font-size="8.6" text-anchor="middle" fill="#111" stroke="#111" stroke-width="0.1">+</text>
<text x="416.10" y="372.90" font-size="8.6" text-anchor="middle" fill="#111" stroke="#111" stroke-width="0.1">+</text>
<text x="429.41" y="372.90" font-size="8.6" text-anchor="middle" fill="#111" stroke="#111" stroke-width="0.1">+</text>
<line x1="507.40" y1="208.50" x2="507.40" y2="312.30" stroke="#333" stroke-width="1.0"/>
<line x1="506.90" y1="311.90" x2="678.70" y2="311.90" stroke="#333" stroke-width="1.0"/>
<line x1="502.60" y1="311.90" x2="507.40" y2="311.90" stroke="#333" stroke-width="0.9"/>
<text x="501.80" y="314.96" font-size="8.5" text-anchor="end" fill="#111" stroke="#111" stroke-width="0.1">0</text>
<line x1="502.60" y1="286.05" x2="507.40" y2="286.05" stroke="#333" stroke-width="0.9"/>
<text x="501.80" y="289.11" font-size="8.5" text-anchor="end" fill="#111" stroke="#111" stroke-width="0.1">1</text>
<line x1="502.60" y1="260.20" x2="507.40" y2="260.20" stroke="#333" stroke-width="0.9"/>
<text x="501.80" y="263.26" font-size="8.5" text-anchor="end" fill="#111" stroke="#111" stroke-width="0.1">2</text>
<line x1="502.60" y1="234.35" x2="507.40" y2="234.35" stroke="#333" stroke-width="0.9"/>
<text x="501.80" y="237.41" font-size="8.5" text-anchor="end" fill="#111" stroke="#111" stroke-width="0.1">3</text>
<line x1="502.60" y1="208.50" x2="507.40" y2="208.50" stroke="#333" stroke-width="0.9"/>
<text x="501.80" y="211.56" font-size="8.5" text-anchor="end" fill="#111" stroke="#111" stroke-width="0.1">4</text>
<rect x="512.90" y="286.05" width="7.40" height="25.85" fill="#f64444"/>
<line x1="516.60" y1="283.46" x2="516.60" y2="288.63" stroke="#111" stroke-width="0.8"/>
<line x1="514.01" y1="283.46" x2="519.19" y2="283.46" stroke="#111" stroke-width="0.8"/>
<circle cx="514.38" cy="285.79" r="2.00" fill="#000"/>
<circle cx="518.45" cy="283.59" r="2.00" fill="#000"/>
<circle cx="516.60" cy="288.51" r="2.00" fill="#000"/>
<line x1="516.60" y1="311.90" x2="516.60" y2="316.50" stroke="#333" stroke-width="0.9"/>
<rect x="526.74" y="261.49" width="7.40" height="50.41" fill="#44f80c"/>
<line x1="530.44" y1="257.62" x2="530.44" y2="265.37" stroke="#111" stroke-width="0.8"/>
<line x1="527.85" y1="257.62" x2="533.03" y2="257.62" stroke="#111" stroke-width="0.8"/>
<rect x="530.29" y="255.81" width="4.00" height="4.00" fill="#000"/>
<rect x="528.44" y="263.18" width="4.00" height="4.00" fill="#000"/>
<rect x="526.22" y="259.10" width="4.00" height="4.00" fill="#000"/>
<line x1="530.44" y1="311.90" x2="530.44" y2="316.50" stroke="#333" stroke-width="0.9"/>
<rect x="540.58" y="287.34" width="7.40" height="24.56" fill="#fd35fd"/>
<line x1="544.28" y1="286.05" x2="544.28" y2="288.63" stroke="#111" stroke-width="0.8"/>
<line x1="541.69" y1="286.05" x2="546.87" y2="286.05" stroke="#111" stroke-width="0.8"/>
<path d="M544.28 286.37L546.48 290.17L542.08 290.17Z" fill="#000"/>
<path d="M542.06 285.01L544.26 288.81L539.86 288.81Z" fill="#000"/>
<path d="M546.13 283.91L548.33 287.71L543.93 287.71Z" fill="#000"/>
<line x1="544.28" y1="311.90" x2="544.28" y2="316.50" stroke="#333" stroke-width="0.9"/>
<rect x="554.42" y="262.78" width="7.40" height="49.12" fill="#f0822a"/>
<line x1="558.12" y1="256.32" x2="558.12" y2="269.25" stroke="#111" stroke-width="0.8"/>
<line x1="555.53" y1="256.32" x2="560.71" y2="256.32" stroke="#111" stroke-width="0.8"/>
<path d="M555.90 264.34L558.10 260.54L553.70 260.54Z" fill="#000"/>
<path d="M559.97 258.85L562.17 255.05L557.77 255.05Z" fill="#000"/>
<path d="M558.12 271.12L560.32 267.32L555.92 267.32Z" fill="#000"/>
<line x1="558.12" y1="311.90" x2="558.12" y2="316.50" stroke="#333" stroke-width="0.9"/>
<rect x="568.26" y="256.32" width="7.40" height="55.58" fill="#80fbfb"/>
<line x1="571.96" y1="247.27" x2="571.96" y2="265.37" stroke="#111" stroke-width="0.8"/>
<line x1="569.37" y1="247.27" x2="574.55" y2="247.27" stroke="#111" stroke-width="0.8"/>
<path d="M573.81 245.33L575.81 247.73L573.81 250.13L571.81 247.73Z" fill="#000"/>
<path d="M571.96 262.52L573.96 264.92L571.96 267.32L569.96 264.92Z" fill="#000"/>
<path d="M569.74 253.02L571.74 255.42L569.74 257.82L567.74 255.42Z" fill="#000"/>
<line x1="571.96" y1="311.90" x2="571.96" y2="316.50" stroke="#333" stroke-width="0.9"/>
<rect x="582.10" y="286.05" width="7.40" height="25.85" fill="#1200f4"/>
<line x1="585.80" y1="283.46" x2="585.80" y2="288.63" stroke="#111" stroke-width="0.8"/>
<line x1="583.21" y1="283.46" x2="588.39" y2="283.46" stroke="#111" stroke-width="0.8"/>
<circle cx="585.80" cy="288.51" r="2.00" fill="#fff" stroke="#000" stroke-width="0.7"/>
<circle cx="583.58" cy="285.79" r="2.00" fill="#fff" stroke="#000" stroke-width="0.7"/>
<circle cx="587.65" cy="283.59" r="2.00" fill="#fff" stroke="#000" stroke-width="0.7"/>
<line x1="585.80" y1="311.90" x2="585.80" y2="316.50" stroke="#333" stroke-width="0.9"/>
<rect x="595.94" y="262.78" width="7.40" height="49.12" fill="#f07878"/>
<line x1="599.64" y1="258.91" x2="599.64" y2="266.66" stroke="#111" stroke-width="0.8"/>
<line x1="597.05" y1="258.91" x2="602.23" y2="258.91" stroke="#111" stroke-width="0.8"/>
<rect x="595.42" y="260.40" width="4.00" height="4.00" fill="#fff" stroke="#000" stroke-width="0.7"/>
<rect x="599.49" y="257.10" width="4.00" height="4.00" fill="#fff" stroke="#000" stroke-width="0.7"/>
<rect x="597.64" y="264.47" width="4.00" height="4.00" fill="#fff" stroke="#000" stroke-width="0.7"/>
<line x1="599.64" y1="311.90" x2="599.64" y2="316.50" stroke="#333" stroke-width="0.9"/>
<rect x="609.78" y="236.94" width="7.40" height="74.96" fill="#aaf8a0"/>
<line x1="613.48" y1="230.47" x2="613.48" y2="243.40" stroke="#111" stroke-width="0.8"/>
<line x1="610.89" y1="230.47" x2="616.07" y2="230.47" stroke="#111" stroke-width="0.8"/>
<path d="M615.33 228.60L617.53 232.40L613.13 232.40Z" fill="#fff" stroke="#000" stroke-width="0.7"/>
<path d="M613.48 240.87L615.68 244.67L611.28 244.67Z" fill="#fff" stroke="#000" stroke-width="0.7"/>
<path d="M611.26 234.09L613.46 237.89L609.06 237.89Z" fill="#fff" stroke="#000" stroke-width="0.7"/>
<line x1="613.48" y1="311.90" x2="613.48" y2="316.50" stroke="#333" stroke-width="0.9"/>
<rect x="623.62" y="265.37" width="7.40" height="46.53" fill="#f096d8"/>
<line x1="627.32" y1="264.08" x2="627.32" y2="266.66" stroke="#111" stroke-width="0.8"/>
<line x1="624.73" y1="264.08" x2="629.91" y2="264.08" stroke="#111" stroke-width="0.8"/>
<circle cx="627.32" cy="266.60" r="2.00" fill="#000"/>
<circle cx="625.10" cy="265.24" r="2.00" fill="#000"/>
<circle cx="629.17" cy="264.14" r="2.00" fill="#000"/>
<line x1="627.32" y1="311.90" x2="627.32" y2="316.50" stroke="#333" stroke-width="0.9"/>
<rect x="637.46" y="236.94" width="7.40" height="74.96" fill="#ecb87c"/>
<line x1="641.16" y1="226.59" x2="641.16" y2="247.27" stroke="#111" stroke-width="0.8"/>
<line x1="638.57" y1="226.59" x2="643.75" y2="226.59" stroke="#111" stroke-width="0.8"/>
<circle cx="638.94" cy="235.90" r="2.00" fill="#000"/>
<circle cx="643.01" cy="227.11" r="2.00" fill="#000"/>
<circle cx="641.16" cy="246.76" r="2.00" fill="#000"/>
<line x1="641.16" y1="311.90" x2="641.16" y2="316.50" stroke="#333" stroke-width="0.9"/>
<rect x="651.30" y="242.10" width="7.40" height="69.79" fill="#bcfce2"/>
<line x1="655.00" y1="234.35" x2="655.00" y2="249.86" stroke="#111" stroke-width="0.8"/>
<line x1="652.41" y1="234.35" x2="657.59" y2="234.35" stroke="#111" stroke-width="0.8"/>
<circle cx="656.85" cy="234.74" r="2.00" fill="#000"/>
<circle cx="655.00" cy="249.47" r="2.00" fill="#000"/>
<circle cx="652.78" cy="241.33" r="2.00" fill="#000"/>
<line x1="655.00" y1="311.90" x2="655.00" y2="316.50" stroke="#333" stroke-width="0.9"/>
<rect x="665.14" y="266.66" width="7.40" height="45.24" fill="#9292f8"/>
<line x1="668.84" y1="262.78" x2="668.84" y2="270.54" stroke="#111" stroke-width="0.8"/>
<line x1="666.25" y1="262.78" x2="671.43" y2="262.78" stroke="#111" stroke-width="0.8"/>
<circle cx="668.84" cy="270.35" r="2.00" fill="#000"/>
<circle cx="666.62" cy="266.27" r="2.00" fill="#000"/>
<circle cx="670.69" cy="262.98" r="2.00" fill="#000"/>
<line x1="668.84" y1="311.90" x2="668.84" y2="316.50" stroke="#333" stroke-width="0.9"/>
<path d="M516.60 263.31V249.31H530.44V255.31" fill="none" stroke="#222" stroke-width="0.8"/>
<text x="523.52" y="249.91" font-size="8.6" text-anchor="middle" fill="#000" stroke="#000" stroke-width="0.1">***</text>
<path d="M544.28 262.15V248.15H558.12V254.15" fill="none" stroke="#222" stroke-width="0.8"/>
<text x="551.20" y="248.75" font-size="8.6" text-anchor="middle" fill="#000" stroke="#000" stroke-width="0.1">***</text>
<path d="M571.96 245.23V239.23H585.80V253.23" fill="none" stroke="#222" stroke-width="0.8"/>
<text x="578.88" y="239.83" font-size="8.6" text-anchor="middle" fill="#000" stroke="#000" stroke-width="0.1">***</text>
<path d="M599.64 236.30V222.30H613.48V228.30" fill="none" stroke="#222" stroke-width="0.8"/>
<text x="606.56" y="222.90" font-size="8.6" text-anchor="middle" fill="#000" stroke="#000" stroke-width="0.1">**</text>
<path d="M627.32 232.61V218.61H641.16V224.61" fill="none" stroke="#222" stroke-width="0.8"/>
<text x="634.24" y="219.21" font-size="8.6" text-anchor="middle" fill="#000" stroke="#000" stroke-width="0.1">**</text>
<path d="M655.00 232.24V226.24H668.84V240.24" fill="none" stroke="#222" stroke-width="0.8"/>
<text x="661.92" y="226.84" font-size="8.6" text-anchor="middle" fill="#000" stroke="#000" stroke-width="0.1">**</text>
<text x="516.10" y="216.00" font-size="9.4" text-anchor="start" font-weight="bold" fill="#111">THP-1</text>
<text x="491.50" y="259.00" font-size="10" text-anchor="middle" fill="#111" stroke="#111" stroke-width="0.1" transform="rotate(-90 491.50 259.00)">Mitochondrial density</text>
<text x="512.20" y="324.10" font-size="8.6" text-anchor="end" fill="#111" stroke="#111" stroke-width="0.1">sgNC</text>
<text x="516.60" y="324.10" font-size="8.6" text-anchor="middle" fill="#111" stroke="#111" stroke-width="0.1">+</text>
<text x="530.44" y="324.10" font-size="8.6" text-anchor="middle" fill="#111" stroke="#111" stroke-width="0.1">-</text>
<text x="544.28" y="324.10" font-size="8.6" text-anchor="middle" fill="#111" stroke="#111" stroke-width="0.1">-</text>
<text x="558.12" y="324.10" font-size="8.6" text-anchor="middle" fill="#111" stroke="#111" stroke-width="0.1">-</text>
<text x="571.96" y="324.10" font-size="8.6" text-anchor="middle" fill="#111" stroke="#111" stroke-width="0.1">-</text>
<text x="585.80" y="324.10" font-size="8.6" text-anchor="middle" fill="#111" stroke="#111" stroke-width="0.1">-</text>
<text x="599.64" y="324.10" font-size="8.6" text-anchor="middle" fill="#111" stroke="#111" stroke-width="0.1">+</text>
<text x="613.48" y="324.10" font-size="8.6" text-anchor="middle" fill="#111" stroke="#111" stroke-width="0.1">-</text>
<text x="627.32" y="324.10" font-size="8.6" text-anchor="middle" fill="#111" stroke="#111" stroke-width="0.1">-</text>
<text x="641.16" y="324.10" font-size="8.6" text-anchor="middle" fill="#111" stroke="#111" stroke-width="0.1">-</text>
<text x="655.00" y="324.10" font-size="8.6" text-anchor="middle" fill="#111" stroke="#111" stroke-width="0.1">-</text>
<text x="668.84" y="324.10" font-size="8.6" text-anchor="middle" fill="#111" stroke="#111" stroke-width="0.1">-</text>
<text x="512.20" y="334.20" font-size="8.6" text-anchor="end" fill="#111" stroke="#111" stroke-width="0.1">sgTHRAP3</text>
<text x="516.60" y="334.20" font-size="8.6" text-anchor="middle" fill="#111" stroke="#111" stroke-width="0.1">-</text>
<text x="530.44" y="334.20" font-size="8.6" text-anchor="middle" fill="#111" stroke="#111" stroke-width="0.1">+</text>
<text x="544.28" y="334.20" font-size="8.6" text-anchor="middle" fill="#111" stroke="#111" stroke-width="0.1">-</text>
<text x="558.12" y="334.20" font-size="8.6" text-anchor="middle" fill="#111" stroke="#111" stroke-width="0.1">-</text>
<text x="571.96" y="334.20" font-size="8.6" text-anchor="middle" fill="#111" stroke="#111" stroke-width="0.1">+</text>
<text x="585.80" y="334.20" font-size="8.6" text-anchor="middle" fill="#111" stroke="#111" stroke-width="0.1">+</text>
<text x="599.64" y="334.20" font-size="8.6" text-anchor="middle" fill="#111" stroke="#111" stroke-width="0.1">-</text>
<text x="613.48" y="334.20" font-size="8.6" text-anchor="middle" fill="#111" stroke="#111" stroke-width="0.1">+</text>
<text x="627.32" y="334.20" font-size="8.6" text-anchor="middle" fill="#111" stroke="#111" stroke-width="0.1">-</text>
<text x="641.16" y="334.20" font-size="8.6" text-anchor="middle" fill="#111" stroke="#111" stroke-width="0.1">-</text>
<text x="655.00" y="334.20" font-size="8.6" text-anchor="middle" fill="#111" stroke="#111" stroke-width="0.1">+</text>
<text x="668.84" y="334.20" font-size="8.6" text-anchor="middle" fill="#111" stroke="#111" stroke-width="0.1">+</text>
<text x="512.20" y="342.60" font-size="8.6" text-anchor="end" fill="#111" stroke="#111" stroke-width="0.1">Vector</text>
<text x="516.60" y="342.60" font-size="8.6" text-anchor="middle" fill="#111" stroke="#111" stroke-width="0.1">-</text>
<text x="530.44" y="342.60" font-size="8.6" text-anchor="middle" fill="#111" stroke="#111" stroke-width="0.1">-</text>
<text x="544.28" y="342.60" font-size="8.6" text-anchor="middle" fill="#111" stroke="#111" stroke-width="0.1">+</text>
<text x="558.12" y="342.60" font-size="8.6" text-anchor="middle" fill="#111" stroke="#111" stroke-width="0.1">-</text>
<text x="571.96" y="342.60" font-size="8.6" text-anchor="middle" fill="#111" stroke="#111" stroke-width="0.1">+</text>
<text x="585.80" y="342.60" font-size="8.6" text-anchor="middle" fill="#111" stroke="#111" stroke-width="0.1">-</text>
<text x="599.64" y="342.60" font-size="8.6" text-anchor="middle" fill="#111" stroke="#111" stroke-width="0.1">-</text>
<text x="613.48" y="342.60" font-size="8.6" text-anchor="middle" fill="#111" stroke="#111" stroke-width="0.1">-</text>
<text x="627.32" y="342.60" font-size="8.6" text-anchor="middle" fill="#111" stroke="#111" stroke-width="0.1">+</text>
<text x="641.16" y="342.60" font-size="8.6" text-anchor="middle" fill="#111" stroke="#111" stroke-width="0.1">-</text>
<text x="655.00" y="342.60" font-size="8.6" text-anchor="middle" fill="#111" stroke="#111" stroke-width="0.1">+</text>
<text x="668.84" y="342.60" font-size="8.6" text-anchor="middle" fill="#111" stroke="#111" stroke-width="0.1">-</text>
<text x="512.20" y="352.70" font-size="8.6" text-anchor="end" fill="#111" stroke="#111" stroke-width="0.1">GIT2-S</text>
<text x="516.60" y="352.70" font-size="8.6" text-anchor="middle" fill="#111" stroke="#111" stroke-width="0.1">-</text>
<text x="530.44" y="352.70" font-size="8.6" text-anchor="middle" fill="#111" stroke="#111" stroke-width="0.1">-</text>
<text x="544.28" y="352.70" font-size="8.6" text-anchor="middle" fill="#111" stroke="#111" stroke-width="0.1">-</text>
<text x="558.12" y="352.70" font-size="8.6" text-anchor="middle" fill="#111" stroke="#111" stroke-width="0.1">-</text>
<text x="571.96" y="352.70" font-size="8.6" text-anchor="middle" fill="#111" stroke="#111" stroke-width="0.1">-</text>
<text x="585.80" y="352.70" font-size="8.6" text-anchor="middle" fill="#111" stroke="#111" stroke-width="0.1">+</text>
<text x="599.64" y="352.70" font-size="8.6" text-anchor="middle" fill="#111" stroke="#111" stroke-width="0.1">-</text>
<text x="613.48" y="352.70" font-size="8.6" text-anchor="middle" fill="#111" stroke="#111" stroke-width="0.1">-</text>
<text x="627.32" y="352.70" font-size="8.6" text-anchor="middle" fill="#111" stroke="#111" stroke-width="0.1">-</text>
<text x="641.16" y="352.70" font-size="8.6" text-anchor="middle" fill="#111" stroke="#111" stroke-width="0.1">-</text>
<text x="655.00" y="352.70" font-size="8.6" text-anchor="middle" fill="#111" stroke="#111" stroke-width="0.1">-</text>
<text x="668.84" y="352.70" font-size="8.6" text-anchor="middle" fill="#111" stroke="#111" stroke-width="0.1">+</text>
<text x="512.20" y="363.40" font-size="8.6" text-anchor="end" fill="#111" stroke="#111" stroke-width="0.1">GIT2-L</text>
<text x="516.60" y="363.40" font-size="8.6" text-anchor="middle" fill="#111" stroke="#111" stroke-width="0.1">-</text>
<text x="530.44" y="363.40" font-size="8.6" text-anchor="middle" fill="#111" stroke="#111" stroke-width="0.1">-</text>
<text x="544.28" y="363.40" font-size="8.6" text-anchor="middle" fill="#111" stroke="#111" stroke-width="0.1">-</text>
<text x="558.12" y="363.40" font-size="8.6" text-anchor="middle" fill="#111" stroke="#111" stroke-width="0.1">+</text>
<text x="571.96" y="363.40" font-size="8.6" text-anchor="middle" fill="#111" stroke="#111" stroke-width="0.1">-</text>
<text x="585.80" y="363.40" font-size="8.6" text-anchor="middle" fill="#111" stroke="#111" stroke-width="0.1">-</text>
<text x="599.64" y="363.40" font-size="8.6" text-anchor="middle" fill="#111" stroke="#111" stroke-width="0.1">-</text>
<text x="613.48" y="363.40" font-size="8.6" text-anchor="middle" fill="#111" stroke="#111" stroke-width="0.1">-</text>
<text x="627.32" y="363.40" font-size="8.6" text-anchor="middle" fill="#111" stroke="#111" stroke-width="0.1">-</text>
<text x="641.16" y="363.40" font-size="8.6" text-anchor="middle" fill="#111" stroke="#111" stroke-width="0.1">+</text>
<text x="655.00" y="363.40" font-size="8.6" text-anchor="middle" fill="#111" stroke="#111" stroke-width="0.1">-</text>
<text x="668.84" y="363.40" font-size="8.6" text-anchor="middle" fill="#111" stroke="#111" stroke-width="0.1">-</text>
<text x="512.20" y="373.50" font-size="8.6" text-anchor="end" fill="#111" stroke="#111" stroke-width="0.1">RSL3</text>
<text x="516.60" y="373.50" font-size="8.6" text-anchor="middle" fill="#111" stroke="#111" stroke-width="0.1">-</text>
<text x="530.44" y="373.50" font-size="8.6" text-anchor="middle" fill="#111" stroke="#111" stroke-width="0.1">-</text>
<text x="544.28" y="373.50" font-size="8.6" text-anchor="middle" fill="#111" stroke="#111" stroke-width="0.1">-</text>
<text x="558.12" y="373.50" font-size="8.6" text-anchor="middle" fill="#111" stroke="#111" stroke-width="0.1">-</text>
<text x="571.96" y="373.50" font-size="8.6" text-anchor="middle" fill="#111" stroke="#111" stroke-width="0.1">-</text>
<text x="585.80" y="373.50" font-size="8.6" text-anchor="middle" fill="#111" stroke="#111" stroke-width="0.1">-</text>
<text x="599.64" y="373.50" font-size="8.6" text-anchor="middle" fill="#111" stroke="#111" stroke-width="0.1">+</text>
<text x="613.48" y="373.50" font-size="8.6" text-anchor="middle" fill="#111" stroke="#111" stroke-width="0.1">+</text>
<text x="627.32" y="373.50" font-size="8.6" text-anchor="middle" fill="#111" stroke="#111" stroke-width="0.1">+</text>
<text x="641.16" y="373.50" font-size="8.6" text-anchor="middle" fill="#111" stroke="#111" stroke-width="0.1">+</text>
<text x="655.00" y="373.50" font-size="8.6" text-anchor="middle" fill="#111" stroke="#111" stroke-width="0.1">+</text>
<text x="668.84" y="373.50" font-size="8.6" text-anchor="middle" fill="#111" stroke="#111" stroke-width="0.1">+</text>
<text x="6.00" y="625.90" font-size="14.2" text-anchor="start" font-weight="bold" fill="#000">F</text>
<line x1="30.80" y1="635.50" x2="30.80" y2="747.60" stroke="#333" stroke-width="1.0"/>
<line x1="30.30" y1="747.20" x2="166.80" y2="747.20" stroke="#333" stroke-width="1.0"/>
<line x1="26.00" y1="747.20" x2="30.80" y2="747.20" stroke="#333" stroke-width="0.9"/>
<text x="25.20" y="750.26" font-size="8.5" text-anchor="end" fill="#111" stroke="#111" stroke-width="0.1">0</text>
<line x1="26.00" y1="709.97" x2="30.80" y2="709.97" stroke="#333" stroke-width="0.9"/>
<text x="25.20" y="713.03" font-size="8.5" text-anchor="end" fill="#111" stroke="#111" stroke-width="0.1">1</text>
<line x1="26.00" y1="672.73" x2="30.80" y2="672.73" stroke="#333" stroke-width="0.9"/>
<text x="25.20" y="675.79" font-size="8.5" text-anchor="end" fill="#111" stroke="#111" stroke-width="0.1">2</text>
<line x1="26.00" y1="635.50" x2="30.80" y2="635.50" stroke="#333" stroke-width="0.9"/>
<text x="25.20" y="638.56" font-size="8.5" text-anchor="end" fill="#111" stroke="#111" stroke-width="0.1">3</text>
<rect x="38.95" y="710.71" width="13.10" height="36.49" fill="#f64444"/>
<line x1="45.50" y1="708.85" x2="45.50" y2="712.57" stroke="#111" stroke-width="0.8"/>
<line x1="40.91" y1="708.85" x2="50.09" y2="708.85" stroke="#111" stroke-width="0.8"/>
<circle cx="41.57" cy="710.53" r="2.00" fill="#000"/>
<circle cx="48.77" cy="708.94" r="2.00" fill="#000"/>
<circle cx="45.50" cy="712.48" r="2.00" fill="#000"/>
<line x1="45.50" y1="747.20" x2="45.50" y2="751.80" stroke="#333" stroke-width="0.9"/>
<rect x="60.95" y="654.12" width="13.10" height="93.08" fill="#44f80c"/>
<line x1="67.50" y1="650.39" x2="67.50" y2="657.84" stroke="#111" stroke-width="0.8"/>
<line x1="62.91" y1="650.39" x2="72.08" y2="650.39" stroke="#111" stroke-width="0.8"/>
<rect x="68.78" y="648.58" width="4.00" height="4.00" fill="#000"/>
<rect x="65.50" y="655.65" width="4.00" height="4.00" fill="#000"/>
<rect x="61.57" y="651.74" width="4.00" height="4.00" fill="#000"/>
<line x1="67.50" y1="747.20" x2="67.50" y2="751.80" stroke="#333" stroke-width="0.9"/>
<rect x="82.95" y="709.97" width="13.10" height="37.23" fill="#fd35fd"/>
<line x1="89.50" y1="708.11" x2="89.50" y2="711.83" stroke="#111" stroke-width="0.8"/>
<line x1="84.92" y1="708.11" x2="94.08" y2="708.11" stroke="#111" stroke-width="0.8"/>
<path d="M89.50 709.54L91.70 713.34L87.30 713.34Z" fill="#000"/>
<path d="M85.57 707.58L87.77 711.38L83.37 711.38Z" fill="#000"/>
<path d="M92.78 706.00L94.98 709.80L90.58 709.80Z" fill="#000"/>
<line x1="89.50" y1="747.20" x2="89.50" y2="751.80" stroke="#333" stroke-width="0.9"/>
<rect x="104.95" y="651.51" width="13.10" height="95.69" fill="#f0822a"/>
<line x1="111.50" y1="647.79" x2="111.50" y2="655.23" stroke="#111" stroke-width="0.8"/>
<line x1="106.92" y1="647.79" x2="116.08" y2="647.79" stroke="#111" stroke-width="0.8"/>
<path d="M107.57 653.34L109.77 649.54L105.37 649.54Z" fill="#000"/>
<path d="M114.78 650.17L116.98 646.37L112.58 646.37Z" fill="#000"/>
<path d="M111.50 657.25L113.70 653.45L109.30 653.45Z" fill="#000"/>
<line x1="111.50" y1="747.20" x2="111.50" y2="751.80" stroke="#333" stroke-width="0.9"/>
<rect x="126.95" y="655.23" width="13.10" height="91.97" fill="#80fbfb"/>
<line x1="133.50" y1="651.51" x2="133.50" y2="658.96" stroke="#111" stroke-width="0.8"/>
<line x1="128.91" y1="651.51" x2="138.09" y2="651.51" stroke="#111" stroke-width="0.8"/>
<circle cx="136.78" cy="651.70" r="2.00" fill="#000"/>
<circle cx="133.50" cy="658.77" r="2.00" fill="#000"/>
<circle cx="129.57" cy="654.86" r="2.00" fill="#000"/>
<line x1="133.50" y1="747.20" x2="133.50" y2="751.80" stroke="#333" stroke-width="0.9"/>
<rect x="148.95" y="705.13" width="13.10" height="42.07" fill="#1200f4"/>
<line x1="155.50" y1="702.15" x2="155.50" y2="708.11" stroke="#111" stroke-width="0.8"/>
<line x1="150.91" y1="702.15" x2="160.09" y2="702.15" stroke="#111" stroke-width="0.8"/>
<circle cx="155.50" cy="707.96" r="2.00" fill="#000"/>
<circle cx="151.57" cy="704.83" r="2.00" fill="#000"/>
<circle cx="158.78" cy="702.30" r="2.00" fill="#000"/>
<line x1="155.50" y1="747.20" x2="155.50" y2="751.80" stroke="#333" stroke-width="0.9"/>
<path d="M45.50 685.08V641.08H67.50V646.08" fill="none" stroke="#222" stroke-width="0.8"/>
<text x="56.50" y="641.68" font-size="9.6" text-anchor="middle" fill="#000" stroke="#000" stroke-width="0.1">***</text>
<path d="M89.50 682.47V638.47H111.50V643.47" fill="none" stroke="#222" stroke-width="0.8"/>
<text x="100.50" y="639.07" font-size="9.6" text-anchor="middle" fill="#000" stroke="#000" stroke-width="0.1">***</text>
<path d="M133.50 647.20V642.20H155.50V686.20" fill="none" stroke="#222" stroke-width="0.8"/>
<text x="144.50" y="642.80" font-size="9.6" text-anchor="middle" fill="#000" stroke="#000" stroke-width="0.1">***</text>
<text x="32.80" y="632.30" font-size="9.4" text-anchor="start" font-weight="bold" fill="#111">THP-1</text>
<text x="16.70" y="690.00" font-size="10" text-anchor="middle" fill="#111" stroke="#111" stroke-width="0.1" transform="rotate(-90 16.70 690.00)">Iron level (fold change)</text>
<text x="40.30" y="760.68" font-size="8.0" text-anchor="end" fill="#111" stroke="#111" stroke-width="0.1">sgNC</text>
<text x="45.50" y="760.68" font-size="8.0" text-anchor="middle" fill="#111" stroke="#111" stroke-width="0.1">+</text>
<text x="67.50" y="760.68" font-size="8.0" text-anchor="middle" fill="#111" stroke="#111" stroke-width="0.1">-</text>
<text x="89.50" y="760.68" font-size="8.0" text-anchor="middle" fill="#111" stroke="#111" stroke-width="0.1">-</text>
<text x="111.50" y="760.68" font-size="8.0" text-anchor="middle" fill="#111" stroke="#111" stroke-width="0.1">-</text>
<text x="133.50" y="760.68" font-size="8.0" text-anchor="middle" fill="#111" stroke="#111" stroke-width="0.1">-</text>
<text x="155.50" y="760.68" font-size="8.0" text-anchor="middle" fill="#111" stroke="#111" stroke-width="0.1">-</text>
<text x="40.30" y="770.08" font-size="8.0" text-anchor="end" fill="#111" stroke="#111" stroke-width="0.1">sgTHRAP3</text>
<text x="45.50" y="770.08" font-size="8.0" text-anchor="middle" fill="#111" stroke="#111" stroke-width="0.1">-</text>
<text x="67.50" y="770.08" font-size="8.0" text-anchor="middle" fill="#111" stroke="#111" stroke-width="0.1">+</text>
<text x="89.50" y="770.08" font-size="8.0" text-anchor="middle" fill="#111" stroke="#111" stroke-width="0.1">-</text>
<text x="111.50" y="770.08" font-size="8.0" text-anchor="middle" fill="#111" stroke="#111" stroke-width="0.1">-</text>
<text x="133.50" y="770.08" font-size="8.0" text-anchor="middle" fill="#111" stroke="#111" stroke-width="0.1">+</text>
<text x="155.50" y="770.08" font-size="8.0" text-anchor="middle" fill="#111" stroke="#111" stroke-width="0.1">+</text>
<text x="40.30" y="778.28" font-size="8.0" text-anchor="end" fill="#111" stroke="#111" stroke-width="0.1">Vector</text>
<text x="45.50" y="778.28" font-size="8.0" text-anchor="middle" fill="#111" stroke="#111" stroke-width="0.1">-</text>
<text x="67.50" y="778.28" font-size="8.0" text-anchor="middle" fill="#111" stroke="#111" stroke-width="0.1">-</text>
<text x="89.50" y="778.28" font-size="8.0" text-anchor="middle" fill="#111" stroke="#111" stroke-width="0.1">+</text>
<text x="111.50" y="778.28" font-size="8.0" text-anchor="middle" fill="#111" stroke="#111" stroke-width="0.1">-</text>
<text x="133.50" y="778.28" font-size="8.0" text-anchor="middle" fill="#111" stroke="#111" stroke-width="0.1">+</text>
<text x="155.50" y="778.28" font-size="8.0" text-anchor="middle" fill="#111" stroke="#111" stroke-width="0.1">-</text>
<text x="40.30" y="786.28" font-size="8.0" text-anchor="end" fill="#111" stroke="#111" stroke-width="0.1">GIT2-L</text>
<text x="45.50" y="786.28" font-size="8.0" text-anchor="middle" fill="#111" stroke="#111" stroke-width="0.1">-</text>
<text x="67.50" y="786.28" font-size="8.0" text-anchor="middle" fill="#111" stroke="#111" stroke-width="0.1">-</text>
<text x="89.50" y="786.28" font-size="8.0" text-anchor="middle" fill="#111" stroke="#111" stroke-width="0.1">-</text>
<text x="111.50" y="786.28" font-size="8.0" text-anchor="middle" fill="#111" stroke="#111" stroke-width="0.1">+</text>
<text x="133.50" y="786.28" font-size="8.0" text-anchor="middle" fill="#111" stroke="#111" stroke-width="0.1">-</text>
<text x="155.50" y="786.28" font-size="8.0" text-anchor="middle" fill="#111" stroke="#111" stroke-width="0.1">-</text>
<text x="40.30" y="794.08" font-size="8.0" text-anchor="end" fill="#111" stroke="#111" stroke-width="0.1">GIT2-S</text>
<text x="45.50" y="794.08" font-size="8.0" text-anchor="middle" fill="#111" stroke="#111" stroke-width="0.1">-</text>
<text x="67.50" y="794.08" font-size="8.0" text-anchor="middle" fill="#111" stroke="#111" stroke-width="0.1">-</text>
<text x="89.50" y="794.08" font-size="8.0" text-anchor="middle" fill="#111" stroke="#111" stroke-width="0.1">-</text>
<text x="111.50" y="794.08" font-size="8.0" text-anchor="middle" fill="#111" stroke="#111" stroke-width="0.1">-</text>
<text x="133.50" y="794.08" font-size="8.0" text-anchor="middle" fill="#111" stroke="#111" stroke-width="0.1">-</text>
<text x="155.50" y="794.08" font-size="8.0" text-anchor="middle" fill="#111" stroke="#111" stroke-width="0.1">+</text>
<text x="180.00" y="626.00" font-size="14.2" text-anchor="start" font-weight="bold" fill="#000">G</text>
<line x1="215.90" y1="637.70" x2="215.90" y2="748.90" stroke="#333" stroke-width="1.0"/>
<line x1="215.40" y1="748.50" x2="337.50" y2="748.50" stroke="#333" stroke-width="1.0"/>
<line x1="211.10" y1="748.50" x2="215.90" y2="748.50" stroke="#333" stroke-width="0.9"/>
<text x="210.30" y="751.56" font-size="8.5" text-anchor="end" fill="#111" stroke="#111" stroke-width="0.1">0</text>
<line x1="211.10" y1="711.57" x2="215.90" y2="711.57" stroke="#333" stroke-width="0.9"/>
<text x="210.30" y="714.63" font-size="8.5" text-anchor="end" fill="#111" stroke="#111" stroke-width="0.1">500</text>
<line x1="211.10" y1="674.63" x2="215.90" y2="674.63" stroke="#333" stroke-width="0.9"/>
<text x="210.30" y="677.69" font-size="8.5" text-anchor="end" fill="#111" stroke="#111" stroke-width="0.1">1000</text>
<line x1="211.10" y1="637.70" x2="215.90" y2="637.70" stroke="#333" stroke-width="0.9"/>
<text x="210.30" y="640.76" font-size="8.5" text-anchor="end" fill="#111" stroke="#111" stroke-width="0.1">1500</text>
<rect x="223.30" y="697.53" width="11.60" height="50.97" fill="#f64444"/>
<line x1="229.10" y1="694.58" x2="229.10" y2="700.49" stroke="#111" stroke-width="0.8"/>
<line x1="225.04" y1="694.58" x2="233.16" y2="694.58" stroke="#111" stroke-width="0.8"/>
<circle cx="225.62" cy="697.24" r="2.00" fill="#000"/>
<circle cx="232.00" cy="694.73" r="2.00" fill="#000"/>
<circle cx="229.10" cy="700.34" r="2.00" fill="#000"/>
<line x1="229.10" y1="748.50" x2="229.10" y2="753.10" stroke="#333" stroke-width="0.9"/>
<rect x="242.95" y="662.08" width="11.60" height="86.42" fill="#44f80c"/>
<line x1="248.75" y1="651.00" x2="248.75" y2="673.16" stroke="#111" stroke-width="0.8"/>
<line x1="244.69" y1="651.00" x2="252.81" y2="651.00" stroke="#111" stroke-width="0.8"/>
<rect x="249.65" y="649.55" width="4.00" height="4.00" fill="#000"/>
<rect x="246.75" y="670.60" width="4.00" height="4.00" fill="#000"/>
<rect x="243.27" y="658.97" width="4.00" height="4.00" fill="#000"/>
<line x1="248.75" y1="748.50" x2="248.75" y2="753.10" stroke="#333" stroke-width="0.9"/>
<rect x="262.60" y="699.38" width="11.60" height="49.12" fill="#fd35fd"/>
<line x1="268.40" y1="696.42" x2="268.40" y2="702.33" stroke="#111" stroke-width="0.8"/>
<line x1="264.34" y1="696.42" x2="272.46" y2="696.42" stroke="#111" stroke-width="0.8"/>
<path d="M268.40 699.99L270.60 703.79L266.20 703.79Z" fill="#000"/>
<path d="M264.92 696.88L267.12 700.68L262.72 700.68Z" fill="#000"/>
<path d="M271.30 694.37L273.50 698.17L269.10 698.17Z" fill="#000"/>
<line x1="268.40" y1="748.50" x2="268.40" y2="753.10" stroke="#333" stroke-width="0.9"/>
<rect x="282.25" y="666.51" width="11.60" height="81.99" fill="#f0822a"/>
<line x1="288.05" y1="655.43" x2="288.05" y2="677.59" stroke="#111" stroke-width="0.8"/>
<line x1="283.99" y1="655.43" x2="292.11" y2="655.43" stroke="#111" stroke-width="0.8"/>
<path d="M284.57 667.60L286.77 663.80L282.37 663.80Z" fill="#000"/>
<path d="M290.95 658.18L293.15 654.38L288.75 654.38Z" fill="#000"/>
<path d="M288.05 679.23L290.25 675.43L285.85 675.43Z" fill="#000"/>
<line x1="288.05" y1="748.50" x2="288.05" y2="753.10" stroke="#333" stroke-width="0.9"/>
<rect x="301.90" y="669.83" width="11.60" height="78.67" fill="#80fbfb"/>
<line x1="307.70" y1="664.66" x2="307.70" y2="675.00" stroke="#111" stroke-width="0.8"/>
<line x1="303.64" y1="664.66" x2="311.76" y2="664.66" stroke="#111" stroke-width="0.8"/>
<circle cx="310.60" cy="664.92" r="2.00" fill="#000"/>
<circle cx="307.70" cy="674.74" r="2.00" fill="#000"/>
<circle cx="304.22" cy="669.31" r="2.00" fill="#000"/>
<line x1="307.70" y1="748.50" x2="307.70" y2="753.10" stroke="#333" stroke-width="0.9"/>
<rect x="321.55" y="692.36" width="11.60" height="56.14" fill="#1200f4"/>
<line x1="327.35" y1="688.67" x2="327.35" y2="696.05" stroke="#111" stroke-width="0.8"/>
<line x1="323.29" y1="688.67" x2="331.41" y2="688.67" stroke="#111" stroke-width="0.8"/>
<circle cx="327.35" cy="695.87" r="2.00" fill="#000"/>
<circle cx="323.87" cy="691.99" r="2.00" fill="#000"/>
<circle cx="330.25" cy="688.85" r="2.00" fill="#000"/>
<line x1="327.35" y1="748.50" x2="327.35" y2="753.10" stroke="#333" stroke-width="0.9"/>
<path d="M229.10 678.05V642.05H248.75V647.05" fill="none" stroke="#222" stroke-width="0.8"/>
<text x="238.93" y="642.65" font-size="9.6" text-anchor="middle" fill="#000" stroke="#000" stroke-width="0.1">***</text>
<path d="M268.40 682.48V646.48H288.05V651.48" fill="none" stroke="#222" stroke-width="0.8"/>
<text x="278.23" y="647.08" font-size="9.6" text-anchor="middle" fill="#000" stroke="#000" stroke-width="0.1">**</text>
<path d="M307.70 660.42V655.42H327.35V684.35" fill="none" stroke="#222" stroke-width="0.8"/>
<text x="317.52" y="656.02" font-size="9.6" text-anchor="middle" fill="#000" stroke="#000" stroke-width="0.1">*</text>
<text x="221.00" y="632.80" font-size="9.4" text-anchor="start" font-weight="bold" fill="#111">THP-1</text>
<text x="178.60" y="695.70" font-size="9.4" text-anchor="middle" fill="#111" stroke="#111" stroke-width="0.1" transform="rotate(-90 178.60 695.70)">Relative LIP</text>
<text x="220.90" y="762.38" font-size="8.0" text-anchor="end" fill="#111" stroke="#111" stroke-width="0.1">sgNC</text>
<text x="229.10" y="762.38" font-size="8.0" text-anchor="middle" fill="#111" stroke="#111" stroke-width="0.1">+</text>
<text x="248.75" y="762.38" font-size="8.0" text-anchor="middle" fill="#111" stroke="#111" stroke-width="0.1">-</text>
<text x="268.40" y="762.38" font-size="8.0" text-anchor="middle" fill="#111" stroke="#111" stroke-width="0.1">-</text>
<text x="288.05" y="762.38" font-size="8.0" text-anchor="middle" fill="#111" stroke="#111" stroke-width="0.1">-</text>
<text x="307.70" y="762.38" font-size="8.0" text-anchor="middle" fill="#111" stroke="#111" stroke-width="0.1">-</text>
<text x="327.35" y="762.38" font-size="8.0" text-anchor="middle" fill="#111" stroke="#111" stroke-width="0.1">-</text>
<text x="220.90" y="771.88" font-size="8.0" text-anchor="end" fill="#111" stroke="#111" stroke-width="0.1">sgTHRAP3</text>
<text x="229.10" y="771.88" font-size="8.0" text-anchor="middle" fill="#111" stroke="#111" stroke-width="0.1">-</text>
<text x="248.75" y="771.88" font-size="8.0" text-anchor="middle" fill="#111" stroke="#111" stroke-width="0.1">+</text>
<text x="268.40" y="771.88" font-size="8.0" text-anchor="middle" fill="#111" stroke="#111" stroke-width="0.1">-</text>
<text x="288.05" y="771.88" font-size="8.0" text-anchor="middle" fill="#111" stroke="#111" stroke-width="0.1">-</text>
<text x="307.70" y="771.88" font-size="8.0" text-anchor="middle" fill="#111" stroke="#111" stroke-width="0.1">+</text>
<text x="327.35" y="771.88" font-size="8.0" text-anchor="middle" fill="#111" stroke="#111" stroke-width="0.1">+</text>
<text x="220.90" y="780.68" font-size="8.0" text-anchor="end" fill="#111" stroke="#111" stroke-width="0.1">Vector</text>
<text x="229.10" y="780.68" font-size="8.0" text-anchor="middle" fill="#111" stroke="#111" stroke-width="0.1">-</text>
<text x="248.75" y="780.68" font-size="8.0" text-anchor="middle" fill="#111" stroke="#111" stroke-width="0.1">-</text>
<text x="268.40" y="780.68" font-size="8.0" text-anchor="middle" fill="#111" stroke="#111" stroke-width="0.1">+</text>
<text x="288.05" y="780.68" font-size="8.0" text-anchor="middle" fill="#111" stroke="#111" stroke-width="0.1">-</text>
<text x="307.70" y="780.68" font-size="8.0" text-anchor="middle" fill="#111" stroke="#111" stroke-width="0.1">+</text>
<text x="327.35" y="780.68" font-size="8.0" text-anchor="middle" fill="#111" stroke="#111" stroke-width="0.1">-</text>
<text x="220.90" y="788.48" font-size="8.0" text-anchor="end" fill="#111" stroke="#111" stroke-width="0.1">GIT2-L</text>
<text x="229.10" y="788.48" font-size="8.0" text-anchor="middle" fill="#111" stroke="#111" stroke-width="0.1">-</text>
<text x="248.75" y="788.48" font-size="8.0" text-anchor="middle" fill="#111" stroke="#111" stroke-width="0.1">-</text>
<text x="268.40" y="788.48" font-size="8.0" text-anchor="middle" fill="#111" stroke="#111" stroke-width="0.1">-</text>
<text x="288.05" y="788.48" font-size="8.0" text-anchor="middle" fill="#111" stroke="#111" stroke-width="0.1">+</text>
<text x="307.70" y="788.48" font-size="8.0" text-anchor="middle" fill="#111" stroke="#111" stroke-width="0.1">-</text>
<text x="327.35" y="788.48" font-size="8.0" text-anchor="middle" fill="#111" stroke="#111" stroke-width="0.1">-</text>
<text x="220.90" y="796.48" font-size="8.0" text-anchor="end" fill="#111" stroke="#111" stroke-width="0.1">GIT2-S</text>
<text x="229.10" y="796.48" font-size="8.0" text-anchor="middle" fill="#111" stroke="#111" stroke-width="0.1">-</text>
<text x="248.75" y="796.48" font-size="8.0" text-anchor="middle" fill="#111" stroke="#111" stroke-width="0.1">-</text>
<text x="268.40" y="796.48" font-size="8.0" text-anchor="middle" fill="#111" stroke="#111" stroke-width="0.1">-</text>
<text x="288.05" y="796.48" font-size="8.0" text-anchor="middle" fill="#111" stroke="#111" stroke-width="0.1">-</text>
<text x="307.70" y="796.48" font-size="8.0" text-anchor="middle" fill="#111" stroke="#111" stroke-width="0.1">-</text>
<text x="327.35" y="796.48" font-size="8.0" text-anchor="middle" fill="#111" stroke="#111" stroke-width="0.1">+</text>
<text x="189.60" y="695.30" font-size="9.2" text-anchor="middle" fill="#111" stroke="#111" stroke-width="0.1" transform="rotate(-90 189.60 695.30)">△C-AM MFI+/-DFO</text>
<text x="339.80" y="625.90" font-size="14.2" text-anchor="start" font-weight="bold" fill="#000">H</text>
<line x1="380.90" y1="637.00" x2="380.90" y2="748.90" stroke="#333" stroke-width="1.0"/>
<line x1="380.40" y1="748.50" x2="508.40" y2="748.50" stroke="#333" stroke-width="1.0"/>
<line x1="376.10" y1="748.50" x2="380.90" y2="748.50" stroke="#333" stroke-width="0.9"/>
<text x="375.30" y="751.56" font-size="8.5" text-anchor="end" fill="#111" stroke="#111" stroke-width="0.1">0.0</text>
<line x1="376.10" y1="711.33" x2="380.90" y2="711.33" stroke="#333" stroke-width="0.9"/>
<text x="375.30" y="714.39" font-size="8.5" text-anchor="end" fill="#111" stroke="#111" stroke-width="0.1">0.5</text>
<line x1="376.10" y1="674.17" x2="380.90" y2="674.17" stroke="#333" stroke-width="0.9"/>
<text x="375.30" y="677.23" font-size="8.5" text-anchor="end" fill="#111" stroke="#111" stroke-width="0.1">1.0</text>
<line x1="376.10" y1="637.00" x2="380.90" y2="637.00" stroke="#333" stroke-width="0.9"/>
<text x="375.30" y="640.06" font-size="8.5" text-anchor="end" fill="#111" stroke="#111" stroke-width="0.1">1.5</text>
<rect x="389.05" y="674.91" width="11.70" height="73.59" fill="#f64444"/>
<line x1="394.90" y1="667.48" x2="394.90" y2="682.34" stroke="#111" stroke-width="0.8"/>
<line x1="390.80" y1="667.48" x2="399.00" y2="667.48" stroke="#111" stroke-width="0.8"/>
<circle cx="391.39" cy="674.17" r="2.00" fill="#000"/>
<circle cx="397.82" cy="667.85" r="2.00" fill="#000"/>
<circle cx="394.90" cy="681.97" r="2.00" fill="#000"/>
<line x1="394.90" y1="748.50" x2="394.90" y2="753.10" stroke="#333" stroke-width="0.9"/>
<rect x="409.75" y="715.05" width="11.70" height="33.45" fill="#44f80c"/>
<line x1="415.60" y1="700.18" x2="415.60" y2="729.92" stroke="#111" stroke-width="0.8"/>
<line x1="411.50" y1="700.18" x2="419.69" y2="700.18" stroke="#111" stroke-width="0.8"/>
<rect x="416.52" y="698.93" width="4.00" height="4.00" fill="#000"/>
<rect x="413.60" y="727.17" width="4.00" height="4.00" fill="#000"/>
<rect x="410.09" y="711.56" width="4.00" height="4.00" fill="#000"/>
<line x1="415.60" y1="748.50" x2="415.60" y2="753.10" stroke="#333" stroke-width="0.9"/>
<rect x="430.45" y="670.45" width="11.70" height="78.05" fill="#fd35fd"/>
<line x1="436.30" y1="659.30" x2="436.30" y2="681.60" stroke="#111" stroke-width="0.8"/>
<line x1="432.20" y1="659.30" x2="440.39" y2="659.30" stroke="#111" stroke-width="0.8"/>
<path d="M436.30 678.84L438.50 682.64L434.10 682.64Z" fill="#000"/>
<path d="M432.79 667.13L434.99 670.94L430.59 670.94Z" fill="#000"/>
<path d="M439.22 657.66L441.42 661.46L437.02 661.46Z" fill="#000"/>
<line x1="436.30" y1="748.50" x2="436.30" y2="753.10" stroke="#333" stroke-width="0.9"/>
<rect x="451.15" y="709.85" width="11.70" height="38.65" fill="#f0822a"/>
<line x1="457.00" y1="706.87" x2="457.00" y2="712.82" stroke="#111" stroke-width="0.8"/>
<line x1="452.90" y1="706.87" x2="461.10" y2="706.87" stroke="#111" stroke-width="0.8"/>
<path d="M453.49 711.75L455.69 707.95L451.29 707.95Z" fill="#000"/>
<path d="M459.93 709.22L462.12 705.42L457.73 705.42Z" fill="#000"/>
<path d="M457.00 714.87L459.20 711.07L454.80 711.07Z" fill="#000"/>
<line x1="457.00" y1="748.50" x2="457.00" y2="753.10" stroke="#333" stroke-width="0.9"/>
<rect x="471.85" y="713.56" width="11.70" height="34.94" fill="#80fbfb"/>
<line x1="477.70" y1="706.13" x2="477.70" y2="721.00" stroke="#111" stroke-width="0.8"/>
<line x1="473.60" y1="706.13" x2="481.80" y2="706.13" stroke="#111" stroke-width="0.8"/>
<circle cx="480.62" cy="706.50" r="2.00" fill="#000"/>
<circle cx="477.70" cy="720.62" r="2.00" fill="#000"/>
<circle cx="474.19" cy="712.82" r="2.00" fill="#000"/>
<line x1="477.70" y1="748.50" x2="477.70" y2="753.10" stroke="#333" stroke-width="0.9"/>
<rect x="492.55" y="677.88" width="11.70" height="70.62" fill="#1200f4"/>
<line x1="498.40" y1="668.96" x2="498.40" y2="686.80" stroke="#111" stroke-width="0.8"/>
<line x1="494.30" y1="668.96" x2="502.50" y2="668.96" stroke="#111" stroke-width="0.8"/>
<circle cx="498.40" cy="686.36" r="2.00" fill="#000"/>
<circle cx="494.89" cy="676.99" r="2.00" fill="#000"/>
<circle cx="501.32" cy="669.41" r="2.00" fill="#000"/>
<line x1="498.40" y1="748.50" x2="498.40" y2="753.10" stroke="#333" stroke-width="0.9"/>
<path d="M394.90 663.35V658.35H415.60V693.35" fill="none" stroke="#222" stroke-width="0.8"/>
<text x="405.25" y="658.95" font-size="9.6" text-anchor="middle" fill="#000" stroke="#000" stroke-width="0.1">**</text>
<path d="M436.30 655.36V650.36H457.00V685.36" fill="none" stroke="#222" stroke-width="0.8"/>
<text x="446.65" y="650.96" font-size="9.6" text-anchor="middle" fill="#000" stroke="#000" stroke-width="0.1">**</text>
<path d="M477.70 694.91V659.91H498.40V664.91" fill="none" stroke="#222" stroke-width="0.8"/>
<text x="488.05" y="660.51" font-size="9.6" text-anchor="middle" fill="#000" stroke="#000" stroke-width="0.1">**</text>
<text x="384.90" y="632.30" font-size="9.4" text-anchor="start" font-weight="bold" fill="#111">THP-1</text>
<text x="358.30" y="688.80" font-size="10" text-anchor="middle" fill="#111" stroke="#111" stroke-width="0.1" transform="rotate(-90 358.30 688.80)">Relative GSH/GSSG ratio</text>
<text x="387.30" y="761.28" font-size="8.0" text-anchor="end" fill="#111" stroke="#111" stroke-width="0.1">sgNC</text>
<text x="394.90" y="761.28" font-size="8.0" text-anchor="middle" fill="#111" stroke="#111" stroke-width="0.1">+</text>
<text x="415.60" y="761.28" font-size="8.0" text-anchor="middle" fill="#111" stroke="#111" stroke-width="0.1">-</text>
<text x="436.30" y="761.28" font-size="8.0" text-anchor="middle" fill="#111" stroke="#111" stroke-width="0.1">-</text>
<text x="457.00" y="761.28" font-size="8.0" text-anchor="middle" fill="#111" stroke="#111" stroke-width="0.1">-</text>
<text x="477.70" y="761.28" font-size="8.0" text-anchor="middle" fill="#111" stroke="#111" stroke-width="0.1">-</text>
<text x="498.40" y="761.28" font-size="8.0" text-anchor="middle" fill="#111" stroke="#111" stroke-width="0.1">-</text>
<text x="387.30" y="770.48" font-size="8.0" text-anchor="end" fill="#111" stroke="#111" stroke-width="0.1">sgTHRAP3</text>
<text x="394.90" y="770.48" font-size="8.0" text-anchor="middle" fill="#111" stroke="#111" stroke-width="0.1">-</text>
<text x="415.60" y="770.48" font-size="8.0" text-anchor="middle" fill="#111" stroke="#111" stroke-width="0.1">+</text>
<text x="436.30" y="770.48" font-size="8.0" text-anchor="middle" fill="#111" stroke="#111" stroke-width="0.1">-</text>
<text x="457.00" y="770.48" font-size="8.0" text-anchor="middle" fill="#111" stroke="#111" stroke-width="0.1">-</text>
<text x="477.70" y="770.48" font-size="8.0" text-anchor="middle" fill="#111" stroke="#111" stroke-width="0.1">+</text>
<text x="498.40" y="770.48" font-size="8.0" text-anchor="middle" fill="#111" stroke="#111" stroke-width="0.1">+</text>
<text x="387.30" y="778.88" font-size="8.0" text-anchor="end" fill="#111" stroke="#111" stroke-width="0.1">Vector</text>
<text x="394.90" y="778.88" font-size="8.0" text-anchor="middle" fill="#111" stroke="#111" stroke-width="0.1">-</text>
<text x="415.60" y="778.88" font-size="8.0" text-anchor="middle" fill="#111" stroke="#111" stroke-width="0.1">-</text>
<text x="436.30" y="778.88" font-size="8.0" text-anchor="middle" fill="#111" stroke="#111" stroke-width="0.1">+</text>
<text x="457.00" y="778.88" font-size="8.0" text-anchor="middle" fill="#111" stroke="#111" stroke-width="0.1">-</text>
<text x="477.70" y="778.88" font-size="8.0" text-anchor="middle" fill="#111" stroke="#111" stroke-width="0.1">+</text>
<text x="498.40" y="778.88" font-size="8.0" text-anchor="middle" fill="#111" stroke="#111" stroke-width="0.1">-</text>
<text x="387.30" y="786.88" font-size="8.0" text-anchor="end" fill="#111" stroke="#111" stroke-width="0.1">GIT2-L</text>
<text x="394.90" y="786.88" font-size="8.0" text-anchor="middle" fill="#111" stroke="#111" stroke-width="0.1">-</text>
<text x="415.60" y="786.88" font-size="8.0" text-anchor="middle" fill="#111" stroke="#111" stroke-width="0.1">-</text>
<text x="436.30" y="786.88" font-size="8.0" text-anchor="middle" fill="#111" stroke="#111" stroke-width="0.1">-</text>
<text x="457.00" y="786.88" font-size="8.0" text-anchor="middle" fill="#111" stroke="#111" stroke-width="0.1">+</text>
<text x="477.70" y="786.88" font-size="8.0" text-anchor="middle" fill="#111" stroke="#111" stroke-width="0.1">-</text>
<text x="498.40" y="786.88" font-size="8.0" text-anchor="middle" fill="#111" stroke="#111" stroke-width="0.1">-</text>
<text x="387.30" y="794.68" font-size="8.0" text-anchor="end" fill="#111" stroke="#111" stroke-width="0.1">GIT2-S</text>
<text x="394.90" y="794.68" font-size="8.0" text-anchor="middle" fill="#111" stroke="#111" stroke-width="0.1">-</text>
<text x="415.60" y="794.68" font-size="8.0" text-anchor="middle" fill="#111" stroke="#111" stroke-width="0.1">-</text>
<text x="436.30" y="794.68" font-size="8.0" text-anchor="middle" fill="#111" stroke="#111" stroke-width="0.1">-</text>
<text x="457.00" y="794.68" font-size="8.0" text-anchor="middle" fill="#111" stroke="#111" stroke-width="0.1">-</text>
<text x="477.70" y="794.68" font-size="8.0" text-anchor="middle" fill="#111" stroke="#111" stroke-width="0.1">-</text>
<text x="498.40" y="794.68" font-size="8.0" text-anchor="middle" fill="#111" stroke="#111" stroke-width="0.1">+</text>
<text x="509.80" y="625.90" font-size="14.2" text-anchor="start" font-weight="bold" fill="#000">I</text>
<line x1="550.90" y1="637.00" x2="550.90" y2="748.90" stroke="#333" stroke-width="1.0"/>
<line x1="550.40" y1="748.50" x2="678.40" y2="748.50" stroke="#333" stroke-width="1.0"/>
<line x1="546.10" y1="748.50" x2="550.90" y2="748.50" stroke="#333" stroke-width="0.9"/>
<text x="545.30" y="751.56" font-size="8.5" text-anchor="end" fill="#111" stroke="#111" stroke-width="0.1">0.0</text>
<line x1="546.10" y1="711.33" x2="550.90" y2="711.33" stroke="#333" stroke-width="0.9"/>
<text x="545.30" y="714.39" font-size="8.5" text-anchor="end" fill="#111" stroke="#111" stroke-width="0.1">0.5</text>
<line x1="546.10" y1="674.17" x2="550.90" y2="674.17" stroke="#333" stroke-width="0.9"/>
<text x="545.30" y="677.23" font-size="8.5" text-anchor="end" fill="#111" stroke="#111" stroke-width="0.1">1.0</text>
<line x1="546.10" y1="637.00" x2="550.90" y2="637.00" stroke="#333" stroke-width="0.9"/>
<text x="545.30" y="640.06" font-size="8.5" text-anchor="end" fill="#111" stroke="#111" stroke-width="0.1">1.5</text>
<rect x="559.05" y="674.91" width="11.70" height="73.59" fill="#f64444"/>
<line x1="564.90" y1="663.76" x2="564.90" y2="686.06" stroke="#111" stroke-width="0.8"/>
<line x1="560.80" y1="663.76" x2="569.00" y2="663.76" stroke="#111" stroke-width="0.8"/>
<circle cx="561.39" cy="673.80" r="2.00" fill="#000"/>
<circle cx="567.82" cy="664.32" r="2.00" fill="#000"/>
<circle cx="564.90" cy="685.50" r="2.00" fill="#000"/>
<line x1="564.90" y1="748.50" x2="564.90" y2="753.10" stroke="#333" stroke-width="0.9"/>
<rect x="579.75" y="704.64" width="11.70" height="43.86" fill="#44f80c"/>
<line x1="585.60" y1="703.90" x2="585.60" y2="705.39" stroke="#111" stroke-width="0.8"/>
<line x1="581.50" y1="703.90" x2="589.70" y2="703.90" stroke="#111" stroke-width="0.8"/>
<rect x="586.52" y="701.94" width="4.00" height="4.00" fill="#000"/>
<rect x="583.60" y="703.35" width="4.00" height="4.00" fill="#000"/>
<rect x="580.09" y="702.57" width="4.00" height="4.00" fill="#000"/>
<line x1="585.60" y1="748.50" x2="585.60" y2="753.10" stroke="#333" stroke-width="0.9"/>
<rect x="600.45" y="679.37" width="11.70" height="69.13" fill="#fd35fd"/>
<line x1="606.30" y1="670.45" x2="606.30" y2="688.29" stroke="#111" stroke-width="0.8"/>
<line x1="602.20" y1="670.45" x2="610.39" y2="670.45" stroke="#111" stroke-width="0.8"/>
<path d="M606.30 685.64L608.50 689.44L604.10 689.44Z" fill="#000"/>
<path d="M602.79 676.28L604.99 680.08L600.59 680.08Z" fill="#000"/>
<path d="M609.22 668.70L611.42 672.50L607.02 672.50Z" fill="#000"/>
<line x1="606.30" y1="748.50" x2="606.30" y2="753.10" stroke="#333" stroke-width="0.9"/>
<rect x="621.15" y="705.39" width="11.70" height="43.11" fill="#f0822a"/>
<line x1="627.00" y1="703.90" x2="627.00" y2="706.87" stroke="#111" stroke-width="0.8"/>
<line x1="622.90" y1="703.90" x2="631.10" y2="703.90" stroke="#111" stroke-width="0.8"/>
<path d="M623.49 707.44L625.69 703.64L621.29 703.64Z" fill="#000"/>
<path d="M629.92 706.17L632.12 702.37L627.72 702.37Z" fill="#000"/>
<path d="M627.00 709.00L629.20 705.20L624.80 705.20Z" fill="#000"/>
<line x1="627.00" y1="748.50" x2="627.00" y2="753.10" stroke="#333" stroke-width="0.9"/>
<rect x="641.85" y="703.90" width="11.70" height="44.60" fill="#80fbfb"/>
<line x1="647.70" y1="700.18" x2="647.70" y2="707.62" stroke="#111" stroke-width="0.8"/>
<line x1="643.60" y1="700.18" x2="651.79" y2="700.18" stroke="#111" stroke-width="0.8"/>
<circle cx="650.62" cy="700.37" r="2.00" fill="#000"/>
<circle cx="647.70" cy="707.43" r="2.00" fill="#000"/>
<circle cx="644.19" cy="703.53" r="2.00" fill="#000"/>
<line x1="647.70" y1="748.50" x2="647.70" y2="753.10" stroke="#333" stroke-width="0.9"/>
<rect x="662.55" y="672.68" width="11.70" height="75.82" fill="#1200f4"/>
<line x1="668.40" y1="669.71" x2="668.40" y2="675.65" stroke="#111" stroke-width="0.8"/>
<line x1="664.30" y1="669.71" x2="672.50" y2="669.71" stroke="#111" stroke-width="0.8"/>
<circle cx="668.40" cy="675.50" r="2.00" fill="#000"/>
<circle cx="664.89" cy="672.38" r="2.00" fill="#000"/>
<circle cx="671.32" cy="669.86" r="2.00" fill="#000"/>
<line x1="668.40" y1="748.50" x2="668.40" y2="753.10" stroke="#333" stroke-width="0.9"/>
<path d="M564.90 659.82V654.82H585.60V688.82" fill="none" stroke="#222" stroke-width="0.8"/>
<text x="575.25" y="655.42" font-size="9.6" text-anchor="middle" fill="#000" stroke="#000" stroke-width="0.1">***</text>
<path d="M606.30 666.40V661.40H627.00V695.40" fill="none" stroke="#222" stroke-width="0.8"/>
<text x="616.65" y="662.00" font-size="9.6" text-anchor="middle" fill="#000" stroke="#000" stroke-width="0.1">**</text>
<path d="M647.70 694.36V660.36H668.40V665.36" fill="none" stroke="#222" stroke-width="0.8"/>
<text x="658.05" y="660.96" font-size="9.6" text-anchor="middle" fill="#000" stroke="#000" stroke-width="0.1">**</text>
<text x="554.90" y="632.30" font-size="9.4" text-anchor="start" font-weight="bold" fill="#111">THP-1</text>
<text x="528.30" y="687.00" font-size="10" text-anchor="middle" fill="#111" stroke="#111" stroke-width="0.1" transform="rotate(-90 528.30 687.00)">Relative NADPH/NADP<tspan dy="-3.2" font-size="6.5">+</tspan><tspan dy="3.2"> ratio</tspan></text>
<text x="558.80" y="762.68" font-size="8.0" text-anchor="end" fill="#111" stroke="#111" stroke-width="0.1">sgNC</text>
<text x="564.90" y="762.68" font-size="8.0" text-anchor="middle" fill="#111" stroke="#111" stroke-width="0.1">+</text>
<text x="585.60" y="762.68" font-size="8.0" text-anchor="middle" fill="#111" stroke="#111" stroke-width="0.1">-</text>
<text x="606.30" y="762.68" font-size="8.0" text-anchor="middle" fill="#111" stroke="#111" stroke-width="0.1">-</text>
<text x="627.00" y="762.68" font-size="8.0" text-anchor="middle" fill="#111" stroke="#111" stroke-width="0.1">-</text>
<text x="647.70" y="762.68" font-size="8.0" text-anchor="middle" fill="#111" stroke="#111" stroke-width="0.1">-</text>
<text x="668.40" y="762.68" font-size="8.0" text-anchor="middle" fill="#111" stroke="#111" stroke-width="0.1">-</text>
<text x="558.80" y="771.28" font-size="8.0" text-anchor="end" fill="#111" stroke="#111" stroke-width="0.1">sgTHRAP3</text>
<text x="564.90" y="771.28" font-size="8.0" text-anchor="middle" fill="#111" stroke="#111" stroke-width="0.1">-</text>
<text x="585.60" y="771.28" font-size="8.0" text-anchor="middle" fill="#111" stroke="#111" stroke-width="0.1">+</text>
<text x="606.30" y="771.28" font-size="8.0" text-anchor="middle" fill="#111" stroke="#111" stroke-width="0.1">-</text>
<text x="627.00" y="771.28" font-size="8.0" text-anchor="middle" fill="#111" stroke="#111" stroke-width="0.1">-</text>
<text x="647.70" y="771.28" font-size="8.0" text-anchor="middle" fill="#111" stroke="#111" stroke-width="0.1">+</text>
<text x="668.40" y="771.28" font-size="8.0" text-anchor="middle" fill="#111" stroke="#111" stroke-width="0.1">+</text>
<text x="558.80" y="779.68" font-size="8.0" text-anchor="end" fill="#111" stroke="#111" stroke-width="0.1">Vector</text>
<text x="564.90" y="779.68" font-size="8.0" text-anchor="middle" fill="#111" stroke="#111" stroke-width="0.1">-</text>
<text x="585.60" y="779.68" font-size="8.0" text-anchor="middle" fill="#111" stroke="#111" stroke-width="0.1">-</text>
<text x="606.30" y="779.68" font-size="8.0" text-anchor="middle" fill="#111" stroke="#111" stroke-width="0.1">+</text>
<text x="627.00" y="779.68" font-size="8.0" text-anchor="middle" fill="#111" stroke="#111" stroke-width="0.1">-</text>
<text x="647.70" y="779.68" font-size="8.0" text-anchor="middle" fill="#111" stroke="#111" stroke-width="0.1">+</text>
<text x="668.40" y="779.68" font-size="8.0" text-anchor="middle" fill="#111" stroke="#111" stroke-width="0.1">-</text>
<text x="558.80" y="787.48" font-size="8.0" text-anchor="end" fill="#111" stroke="#111" stroke-width="0.1">GIT2-L</text>
<text x="564.90" y="787.48" font-size="8.0" text-anchor="middle" fill="#111" stroke="#111" stroke-width="0.1">-</text>
<text x="585.60" y="787.48" font-size="8.0" text-anchor="middle" fill="#111" stroke="#111" stroke-width="0.1">-</text>
<text x="606.30" y="787.48" font-size="8.0" text-anchor="middle" fill="#111" stroke="#111" stroke-width="0.1">-</text>
<text x="627.00" y="787.48" font-size="8.0" text-anchor="middle" fill="#111" stroke="#111" stroke-width="0.1">+</text>
<text x="647.70" y="787.48" font-size="8.0" text-anchor="middle" fill="#111" stroke="#111" stroke-width="0.1">-</text>
<text x="668.40" y="787.48" font-size="8.0" text-anchor="middle" fill="#111" stroke="#111" stroke-width="0.1">-</text>
<text x="558.80" y="795.88" font-size="8.0" text-anchor="end" fill="#111" stroke="#111" stroke-width="0.1">GIT2-S</text>
<text x="564.90" y="795.88" font-size="8.0" text-anchor="middle" fill="#111" stroke="#111" stroke-width="0.1">-</text>
<text x="585.60" y="795.88" font-size="8.0" text-anchor="middle" fill="#111" stroke="#111" stroke-width="0.1">-</text>
<text x="606.30" y="795.88" font-size="8.0" text-anchor="middle" fill="#111" stroke="#111" stroke-width="0.1">-</text>
<text x="627.00" y="795.88" font-size="8.0" text-anchor="middle" fill="#111" stroke="#111" stroke-width="0.1">-</text>
<text x="647.70" y="795.88" font-size="8.0" text-anchor="middle" fill="#111" stroke="#111" stroke-width="0.1">-</text>
<text x="668.40" y="795.88" font-size="8.0" text-anchor="middle" fill="#111" stroke="#111" stroke-width="0.1">+</text>
<text x="216.80" y="11.30" font-size="14.2" text-anchor="start" font-weight="bold" fill="#000">B</text>
<text x="247.90" y="12.10" font-size="9.8" text-anchor="start" font-weight="bold" fill="#111">THP-1</text>
<text x="291.60" y="19.20" font-size="5.0" text-anchor="middle" fill="#111">Multi-sample : P1</text>
<rect x="246.20" y="21.60" width="90.80" height="93.20" fill="none" stroke="#555" stroke-width="0.6"/>
<line x1="244.20" y1="114.80" x2="246.20" y2="114.80" stroke="#444" stroke-width="0.4"/>
<line x1="245.20" y1="108.59" x2="246.20" y2="108.59" stroke="#444" stroke-width="0.4"/>
<line x1="245.20" y1="102.37" x2="246.20" y2="102.37" stroke="#444" stroke-width="0.4"/>
<line x1="245.20" y1="96.16" x2="246.20" y2="96.16" stroke="#444" stroke-width="0.4"/>
<line x1="245.20" y1="89.95" x2="246.20" y2="89.95" stroke="#444" stroke-width="0.4"/>
<line x1="244.20" y1="83.73" x2="246.20" y2="83.73" stroke="#444" stroke-width="0.4"/>
<line x1="245.20" y1="77.52" x2="246.20" y2="77.52" stroke="#444" stroke-width="0.4"/>
<line x1="245.20" y1="71.31" x2="246.20" y2="71.31" stroke="#444" stroke-width="0.4"/>
<line x1="245.20" y1="65.09" x2="246.20" y2="65.09" stroke="#444" stroke-width="0.4"/>
<line x1="245.20" y1="58.88" x2="246.20" y2="58.88" stroke="#444" stroke-width="0.4"/>
<line x1="244.20" y1="52.67" x2="246.20" y2="52.67" stroke="#444" stroke-width="0.4"/>
<line x1="245.20" y1="46.45" x2="246.20" y2="46.45" stroke="#444" stroke-width="0.4"/>
<line x1="245.20" y1="40.24" x2="246.20" y2="40.24" stroke="#444" stroke-width="0.4"/>
<line x1="245.20" y1="34.03" x2="246.20" y2="34.03" stroke="#444" stroke-width="0.4"/>
<line x1="245.20" y1="27.81" x2="246.20" y2="27.81" stroke="#444" stroke-width="0.4"/>
<line x1="244.20" y1="21.60" x2="246.20" y2="21.60" stroke="#444" stroke-width="0.4"/>
<text x="241.00" y="114.80" font-size="4.5" text-anchor="middle" fill="#333" transform="rotate(-90 241.00 114.80)">0</text>
<text x="241.00" y="83.73" font-size="4.5" text-anchor="middle" fill="#333" transform="rotate(-90 241.00 83.73)">100</text>
<text x="241.00" y="52.67" font-size="4.5" text-anchor="middle" fill="#333" transform="rotate(-90 241.00 52.67)">200</text>
<text x="241.00" y="23.60" font-size="4.5" text-anchor="middle" fill="#333" transform="rotate(-90 241.00 23.60)">300</text>
<text x="235.20" y="68.20" font-size="4.8" text-anchor="middle" fill="#333" transform="rotate(-90 235.20 68.20)">Count</text>
<line x1="249.54" y1="114.80" x2="249.54" y2="115.80" stroke="#444" stroke-width="0.4"/>
<line x1="252.79" y1="114.80" x2="252.79" y2="115.80" stroke="#444" stroke-width="0.4"/>
<line x1="255.60" y1="114.80" x2="255.60" y2="115.80" stroke="#444" stroke-width="0.4"/>
<line x1="258.08" y1="114.80" x2="258.08" y2="115.80" stroke="#444" stroke-width="0.4"/>
<line x1="260.30" y1="114.80" x2="260.30" y2="116.80" stroke="#444" stroke-width="0.4"/>
<line x1="274.90" y1="114.80" x2="274.90" y2="115.80" stroke="#444" stroke-width="0.4"/>
<line x1="283.44" y1="114.80" x2="283.44" y2="115.80" stroke="#444" stroke-width="0.4"/>
<line x1="289.50" y1="114.80" x2="289.50" y2="115.80" stroke="#444" stroke-width="0.4"/>
<line x1="294.20" y1="114.80" x2="294.20" y2="115.80" stroke="#444" stroke-width="0.4"/>
<line x1="298.04" y1="114.80" x2="298.04" y2="115.80" stroke="#444" stroke-width="0.4"/>
<line x1="301.29" y1="114.80" x2="301.29" y2="115.80" stroke="#444" stroke-width="0.4"/>
<line x1="304.10" y1="114.80" x2="304.10" y2="115.80" stroke="#444" stroke-width="0.4"/>
<line x1="306.58" y1="114.80" x2="306.58" y2="115.80" stroke="#444" stroke-width="0.4"/>
<line x1="308.80" y1="114.80" x2="308.80" y2="116.80" stroke="#444" stroke-width="0.4"/>
<line x1="323.40" y1="114.80" x2="323.40" y2="115.80" stroke="#444" stroke-width="0.4"/>
<line x1="331.94" y1="114.80" x2="331.94" y2="115.80" stroke="#444" stroke-width="0.4"/>
<text x="260.30" y="121.10" font-size="4.3" text-anchor="middle" fill="#333">10<tspan baseline-shift="super" font-size="3.2">3</tspan></text>
<text x="308.80" y="121.10" font-size="4.3" text-anchor="middle" fill="#333">10<tspan baseline-shift="super" font-size="3.2">4</tspan></text>
<text x="291.60" y="127.60" font-size="4.6" text-anchor="middle" fill="#111">C11-BODIPY 581/591</text>
<path d="M262.05 113.83 L262.60 113.73 L263.15 112.87 L263.70 113.74 L264.25 112.31 L264.80 112.78 L265.35 112.51 L265.90 113.23 L266.45 111.59 L267.00 111.74 L267.55 110.07 L268.10 109.91 L268.65 111.65 L269.20 108.58 L269.75 109.05 L270.30 108.49 L270.85 108.67 L271.40 107.20 L271.95 104.92 L272.50 104.71 L273.05 102.61 L273.60 101.87 L274.15 100.09 L274.70 100.04 L275.25 97.55 L275.80 94.20 L276.35 93.06 L276.90 92.67 L277.45 87.14 L278.00 87.52 L278.55 84.13 L279.10 82.55 L279.65 78.29 L280.20 75.27 L280.75 73.05 L281.30 75.33 L281.85 69.08 L282.40 69.51 L282.95 63.49 L283.50 65.27 L284.05 60.00 L284.60 57.32 L285.15 58.98 L285.70 58.43 L286.25 53.90 L286.80 58.60 L287.35 58.01 L287.90 54.00 L288.45 51.22 L289.00 51.28 L289.55 51.54 L290.10 57.56 L290.65 56.52 L291.20 56.01 L291.75 54.95 L292.30 61.73 L292.85 60.75 L293.40 60.07 L293.95 66.46 L294.50 66.13 L295.05 68.83 L295.60 70.87 L296.15 72.05 L296.70 75.30 L297.25 73.15 L297.80 79.52 L298.35 81.23 L298.90 84.16 L299.45 82.20 L300.00 87.49 L300.55 86.78 L301.10 90.05 L301.65 92.56 L302.20 94.25 L302.75 96.76 L303.30 97.05 L303.85 97.78 L304.40 98.66 L304.95 99.81 L305.50 101.49 L306.05 102.46 L306.60 103.69 L307.15 104.90 L307.70 104.98 L308.25 105.93 L308.80 107.88 L309.35 108.00 L309.90 110.03 L310.45 110.48 L311.00 111.18 L311.55 112.11 L312.10 110.45 L312.65 110.97 L313.20 112.97 L313.75 112.34 L314.30 111.91 L314.85 112.40 L315.40 112.43 L315.95 113.74 L316.50 112.82 L317.05 113.23 L317.60 113.75" fill="none" stroke="#70f0f0" stroke-width="0.75" stroke-linejoin="round"/>
<path d="M264.25 113.76 L264.80 114.30 L265.35 114.27 L265.90 114.21 L266.45 112.64 L267.00 111.84 L267.55 112.19 L268.10 112.31 L268.65 111.22 L269.20 111.86 L269.75 110.20 L270.30 110.39 L270.85 110.88 L271.40 108.18 L271.95 109.86 L272.50 106.47 L273.05 106.35 L273.60 105.89 L274.15 105.59 L274.70 101.39 L275.25 101.76 L275.80 98.14 L276.35 97.71 L276.90 95.11 L277.45 94.19 L278.00 93.49 L278.55 89.25 L279.10 87.60 L279.65 84.28 L280.20 81.25 L280.75 82.34 L281.30 79.45 L281.85 73.73 L282.40 76.03 L282.95 69.09 L283.50 70.26 L284.05 65.61 L284.60 64.67 L285.15 64.91 L285.70 59.67 L286.25 59.45 L286.80 59.63 L287.35 51.03 L287.90 51.12 L288.45 49.11 L289.00 50.02 L289.55 48.25 L290.10 52.80 L290.65 53.69 L291.20 50.40 L291.75 50.81 L292.30 53.12 L292.85 52.27 L293.40 53.72 L293.95 56.85 L294.50 55.99 L295.05 54.38 L295.60 56.63 L296.15 57.94 L296.70 63.35 L297.25 65.28 L297.80 68.49 L298.35 68.23 L298.90 73.29 L299.45 71.28 L300.00 76.65 L300.55 78.77 L301.10 80.03 L301.65 82.57 L302.20 84.29 L302.75 84.91 L303.30 90.62 L303.85 89.37 L304.40 94.21 L304.95 96.34 L305.50 94.20 L306.05 98.96 L306.60 97.30 L307.15 99.03 L307.70 100.90 L308.25 102.28 L308.80 104.72 L309.35 106.41 L309.90 105.45 L310.45 106.53 L311.00 109.58 L311.55 110.17 L312.10 108.09 L312.65 110.89 L313.20 111.57 L313.75 110.64 L314.30 112.52 L314.85 111.67 L315.40 112.95 L315.95 112.25 L316.50 112.76 L317.05 113.87 L317.60 113.26 L318.15 112.36 L318.70 112.52 L319.25 113.41 L319.80 113.75" fill="none" stroke="#40e020" stroke-width="0.75" stroke-linejoin="round"/>
<path d="M263.70 113.76 L264.25 112.72 L264.80 113.25 L265.35 112.33 L265.90 112.45 L266.45 113.10 L267.00 111.45 L267.55 113.05 L268.10 111.82 L268.65 112.54 L269.20 111.52 L269.75 110.46 L270.30 109.72 L270.85 107.64 L271.40 106.63 L271.95 106.48 L272.50 106.55 L273.05 103.85 L273.60 103.83 L274.15 102.74 L274.70 101.99 L275.25 98.31 L275.80 95.42 L276.35 95.75 L276.90 93.74 L277.45 90.03 L278.00 87.65 L278.55 87.66 L279.10 82.18 L279.65 82.72 L280.20 75.70 L280.75 73.55 L281.30 73.80 L281.85 69.24 L282.40 70.28 L282.95 63.00 L283.50 65.58 L284.05 57.18 L284.60 61.15 L285.15 57.18 L285.70 50.22 L286.25 49.26 L286.80 52.57 L287.35 45.83 L287.90 44.68 L288.45 47.87 L289.00 48.92 L289.55 44.20 L290.10 47.36 L290.65 50.37 L291.20 50.50 L291.75 45.83 L292.30 46.93 L292.85 48.77 L293.40 54.55 L293.95 53.67 L294.50 53.81 L295.05 60.32 L295.60 61.24 L296.15 65.32 L296.70 64.34 L297.25 68.96 L297.80 72.52 L298.35 69.74 L298.90 74.82 L299.45 75.49 L300.00 78.11 L300.55 81.13 L301.10 86.23 L301.65 86.06 L302.20 90.19 L302.75 92.86 L303.30 91.94 L303.85 93.80 L304.40 96.19 L304.95 98.71 L305.50 101.93 L306.05 103.48 L306.60 101.48 L307.15 104.12 L307.70 104.67 L308.25 108.15 L308.80 108.60 L309.35 108.36 L309.90 109.67 L310.45 108.51 L311.00 111.40 L311.55 111.06 L312.10 111.43 L312.65 112.02 L313.20 111.76 L313.75 112.27 L314.30 113.65 L314.85 111.80 L315.40 114.30 L315.95 113.78 L316.50 113.97 L317.05 113.15 L317.60 113.78" fill="none" stroke="#f08020" stroke-width="0.75" stroke-linejoin="round"/>
<path d="M260.95 113.75 L261.50 113.55 L262.05 114.30 L262.60 112.83 L263.15 113.42 L263.70 111.41 L264.25 112.00 L264.80 113.11 L265.35 112.11 L265.90 110.23 L266.45 110.68 L267.00 109.47 L267.55 109.09 L268.10 106.38 L268.65 106.98 L269.20 105.92 L269.75 103.86 L270.30 101.16 L270.85 100.85 L271.40 95.38 L271.95 94.25 L272.50 92.91 L273.05 89.14 L273.60 87.95 L274.15 80.84 L274.70 77.96 L275.25 75.17 L275.80 74.89 L276.35 67.73 L276.90 69.63 L277.45 62.77 L278.00 57.23 L278.55 54.41 L279.10 53.71 L279.65 55.25 L280.20 50.14 L280.75 50.35 L281.30 46.47 L281.85 46.15 L282.40 42.17 L282.95 39.16 L283.50 44.60 L284.05 43.52 L284.60 40.97 L285.15 43.98 L285.70 39.55 L286.25 44.54 L286.80 48.95 L287.35 45.58 L287.90 51.25 L288.45 51.58 L289.00 56.26 L289.55 52.79 L290.10 61.32 L290.65 64.01 L291.20 62.25 L291.75 66.99 L292.30 71.20 L292.85 75.28 L293.40 77.24 L293.95 80.56 L294.50 80.86 L295.05 87.27 L295.60 86.38 L296.15 88.45 L296.70 92.95 L297.25 95.22 L297.80 97.65 L298.35 98.11 L298.90 99.41 L299.45 103.41 L300.00 102.15 L300.55 104.48 L301.10 105.01 L301.65 107.51 L302.20 108.00 L302.75 109.63 L303.30 110.51 L303.85 109.31 L304.40 110.08 L304.95 112.44 L305.50 113.06 L306.05 111.29 L306.60 111.80 L307.15 112.12 L307.70 112.19 L308.25 113.37 L308.80 113.04 L309.35 113.72 L309.90 113.83" fill="none" stroke="#f03030" stroke-width="0.75" stroke-linejoin="round"/>
<path d="M260.40 113.75 L260.95 114.30 L261.50 113.13 L262.05 113.48 L262.60 113.46 L263.15 112.50 L263.70 112.31 L264.25 112.98 L264.80 111.68 L265.35 111.77 L265.90 108.64 L266.45 110.39 L267.00 109.58 L267.55 108.53 L268.10 104.72 L268.65 105.36 L269.20 104.28 L269.75 101.87 L270.30 97.27 L270.85 97.15 L271.40 93.34 L271.95 93.92 L272.50 87.47 L273.05 86.57 L273.60 84.84 L274.15 82.39 L274.70 77.38 L275.25 71.92 L275.80 73.73 L276.35 70.29 L276.90 65.78 L277.45 61.45 L278.00 58.84 L278.55 57.85 L279.10 53.44 L279.65 47.67 L280.20 45.69 L280.75 46.57 L281.30 48.47 L281.85 45.85 L282.40 45.36 L282.95 41.93 L283.50 38.59 L284.05 38.72 L284.60 47.56 L285.15 43.28 L285.70 46.29 L286.25 44.36 L286.80 49.04 L287.35 53.60 L287.90 49.84 L288.45 56.75 L289.00 61.18 L289.55 60.50 L290.10 65.09 L290.65 67.62 L291.20 72.95 L291.75 74.94 L292.30 78.27 L292.85 81.86 L293.40 80.77 L293.95 86.68 L294.50 85.66 L295.05 89.77 L295.60 93.42 L296.15 94.35 L296.70 98.03 L297.25 97.32 L297.80 98.84 L298.35 101.20 L298.90 103.13 L299.45 106.78 L300.00 107.75 L300.55 108.69 L301.10 109.14 L301.65 108.29 L302.20 110.51 L302.75 111.51 L303.30 110.20 L303.85 110.53 L304.40 112.23 L304.95 112.55 L305.50 113.93 L306.05 114.30 L306.60 112.68 L307.15 113.39 L307.70 114.30 L308.25 113.76" fill="none" stroke="#f020f0" stroke-width="0.75" stroke-linejoin="round"/>
<path d="M260.95 113.72 L261.50 114.30 L262.05 114.30 L262.60 113.18 L263.15 112.99 L263.70 111.82 L264.25 113.35 L264.80 112.82 L265.35 112.20 L265.90 110.30 L266.45 108.84 L267.00 107.42 L267.55 107.67 L268.10 104.78 L268.65 106.04 L269.20 102.18 L269.75 99.56 L270.30 97.81 L270.85 94.56 L271.40 92.76 L271.95 91.26 L272.50 89.12 L273.05 84.49 L273.60 84.13 L274.15 81.08 L274.70 75.40 L275.25 71.15 L275.80 70.29 L276.35 67.36 L276.90 60.12 L277.45 54.66 L278.00 50.60 L278.55 47.69 L279.10 45.31 L279.65 43.98 L280.20 42.52 L280.75 41.01 L281.30 42.45 L281.85 40.72 L282.40 36.30 L282.95 33.91 L283.50 40.39 L284.05 41.09 L284.60 36.38 L285.15 39.39 L285.70 40.96 L286.25 41.48 L286.80 47.68 L287.35 52.16 L287.90 55.13 L288.45 54.44 L289.00 56.57 L289.55 64.33 L290.10 66.03 L290.65 71.65 L291.20 72.29 L291.75 76.89 L292.30 79.76 L292.85 78.43 L293.40 86.30 L293.95 84.51 L294.50 87.78 L295.05 93.61 L295.60 96.52 L296.15 98.60 L296.70 97.40 L297.25 98.86 L297.80 102.28 L298.35 102.61 L298.90 105.86 L299.45 107.18 L300.00 106.15 L300.55 107.19 L301.10 110.13 L301.65 109.65 L302.20 110.85 L302.75 110.63 L303.30 112.71 L303.85 112.42 L304.40 112.31 L304.95 112.84 L305.50 112.80 L306.05 113.81 L306.60 114.16 L307.15 113.72 L307.70 113.83" fill="none" stroke="#2020f0" stroke-width="0.75" stroke-linejoin="round"/>
<text x="407.80" y="19.50" font-size="5.0" text-anchor="middle" fill="#111">Multi-sample : P1</text>
<rect x="361.40" y="21.90" width="92.80" height="92.10" fill="none" stroke="#555" stroke-width="0.6"/>
<line x1="359.40" y1="114.00" x2="361.40" y2="114.00" stroke="#444" stroke-width="0.4"/>
<line x1="360.40" y1="107.86" x2="361.40" y2="107.86" stroke="#444" stroke-width="0.4"/>
<line x1="360.40" y1="101.72" x2="361.40" y2="101.72" stroke="#444" stroke-width="0.4"/>
<line x1="360.40" y1="95.58" x2="361.40" y2="95.58" stroke="#444" stroke-width="0.4"/>
<line x1="360.40" y1="89.44" x2="361.40" y2="89.44" stroke="#444" stroke-width="0.4"/>
<line x1="359.40" y1="83.30" x2="361.40" y2="83.30" stroke="#444" stroke-width="0.4"/>
<line x1="360.40" y1="77.16" x2="361.40" y2="77.16" stroke="#444" stroke-width="0.4"/>
<line x1="360.40" y1="71.02" x2="361.40" y2="71.02" stroke="#444" stroke-width="0.4"/>
<line x1="360.40" y1="64.88" x2="361.40" y2="64.88" stroke="#444" stroke-width="0.4"/>
<line x1="360.40" y1="58.74" x2="361.40" y2="58.74" stroke="#444" stroke-width="0.4"/>
<line x1="359.40" y1="52.60" x2="361.40" y2="52.60" stroke="#444" stroke-width="0.4"/>
<line x1="360.40" y1="46.46" x2="361.40" y2="46.46" stroke="#444" stroke-width="0.4"/>
<line x1="360.40" y1="40.32" x2="361.40" y2="40.32" stroke="#444" stroke-width="0.4"/>
<line x1="360.40" y1="34.18" x2="361.40" y2="34.18" stroke="#444" stroke-width="0.4"/>
<line x1="360.40" y1="28.04" x2="361.40" y2="28.04" stroke="#444" stroke-width="0.4"/>
<line x1="359.40" y1="21.90" x2="361.40" y2="21.90" stroke="#444" stroke-width="0.4"/>
<text x="356.20" y="114.00" font-size="4.5" text-anchor="middle" fill="#333" transform="rotate(-90 356.20 114.00)">0</text>
<text x="356.20" y="83.30" font-size="4.5" text-anchor="middle" fill="#333" transform="rotate(-90 356.20 83.30)">100</text>
<text x="356.20" y="52.60" font-size="4.5" text-anchor="middle" fill="#333" transform="rotate(-90 356.20 52.60)">200</text>
<text x="356.20" y="23.90" font-size="4.5" text-anchor="middle" fill="#333" transform="rotate(-90 356.20 23.90)">300</text>
<text x="350.40" y="67.95" font-size="4.8" text-anchor="middle" fill="#333" transform="rotate(-90 350.40 67.95)">Count</text>
<line x1="363.30" y1="114.00" x2="363.30" y2="115.00" stroke="#444" stroke-width="0.4"/>
<line x1="366.68" y1="114.00" x2="366.68" y2="115.00" stroke="#444" stroke-width="0.4"/>
<line x1="369.61" y1="114.00" x2="369.61" y2="115.00" stroke="#444" stroke-width="0.4"/>
<line x1="372.19" y1="114.00" x2="372.19" y2="115.00" stroke="#444" stroke-width="0.4"/>
<line x1="374.50" y1="114.00" x2="374.50" y2="116.00" stroke="#444" stroke-width="0.4"/>
<line x1="389.70" y1="114.00" x2="389.70" y2="115.00" stroke="#444" stroke-width="0.4"/>
<line x1="398.59" y1="114.00" x2="398.59" y2="115.00" stroke="#444" stroke-width="0.4"/>
<line x1="404.90" y1="114.00" x2="404.90" y2="115.00" stroke="#444" stroke-width="0.4"/>
<line x1="409.80" y1="114.00" x2="409.80" y2="115.00" stroke="#444" stroke-width="0.4"/>
<line x1="413.80" y1="114.00" x2="413.80" y2="115.00" stroke="#444" stroke-width="0.4"/>
<line x1="417.18" y1="114.00" x2="417.18" y2="115.00" stroke="#444" stroke-width="0.4"/>
<line x1="420.11" y1="114.00" x2="420.11" y2="115.00" stroke="#444" stroke-width="0.4"/>
<line x1="422.69" y1="114.00" x2="422.69" y2="115.00" stroke="#444" stroke-width="0.4"/>
<line x1="425.00" y1="114.00" x2="425.00" y2="116.00" stroke="#444" stroke-width="0.4"/>
<line x1="440.20" y1="114.00" x2="440.20" y2="115.00" stroke="#444" stroke-width="0.4"/>
<line x1="449.09" y1="114.00" x2="449.09" y2="115.00" stroke="#444" stroke-width="0.4"/>
<text x="374.50" y="120.30" font-size="4.3" text-anchor="middle" fill="#333">10<tspan baseline-shift="super" font-size="3.2">3</tspan></text>
<text x="425.00" y="120.30" font-size="4.3" text-anchor="middle" fill="#333">10<tspan baseline-shift="super" font-size="3.2">4</tspan></text>
<text x="407.80" y="126.80" font-size="4.6" text-anchor="middle" fill="#111">C11-BODIPY 581/591</text>
<path d="M386.05 112.97 L386.60 112.63 L387.15 111.63 L387.70 113.50 L388.25 113.41 L388.80 112.56 L389.35 111.22 L389.90 110.44 L390.45 110.37 L391.00 109.96 L391.55 109.13 L392.10 110.91 L392.65 109.89 L393.20 108.40 L393.75 106.37 L394.30 107.82 L394.85 106.60 L395.40 104.21 L395.95 103.60 L396.50 101.92 L397.05 100.61 L397.60 96.63 L398.15 97.83 L398.70 93.57 L399.25 92.91 L399.80 89.14 L400.35 85.33 L400.90 83.08 L401.45 83.25 L402.00 78.12 L402.55 79.16 L403.10 73.51 L403.65 73.05 L404.20 68.29 L404.75 67.68 L405.30 61.15 L405.85 63.55 L406.40 58.29 L406.95 55.50 L407.50 51.61 L408.05 48.99 L408.60 50.15 L409.15 49.91 L409.70 45.31 L410.25 45.45 L410.80 41.69 L411.35 46.85 L411.90 40.16 L412.45 44.10 L413.00 42.28 L413.55 43.87 L414.10 48.75 L414.65 42.66 L415.20 48.99 L415.75 46.03 L416.30 53.06 L416.85 54.20 L417.40 58.41 L417.95 56.75 L418.50 57.97 L419.05 61.60 L419.60 67.04 L420.15 67.00 L420.70 68.65 L421.25 70.83 L421.80 72.89 L422.35 77.59 L422.90 79.90 L423.45 84.80 L424.00 85.60 L424.55 89.13 L425.10 89.54 L425.65 89.63 L426.20 93.79 L426.75 95.58 L427.30 97.70 L427.85 99.83 L428.40 99.31 L428.95 100.97 L429.50 104.59 L430.05 103.57 L430.60 104.44 L431.15 105.50 L431.70 108.54 L432.25 108.01 L432.80 107.97 L433.35 108.98 L433.90 111.10 L434.45 110.75 L435.00 112.12 L435.55 111.00 L436.10 110.51 L436.65 111.70 L437.20 111.22 L437.75 112.71 L438.30 112.62 L438.85 113.50 L439.40 111.95 L439.95 112.94 L440.50 113.03" fill="none" stroke="#40e020" stroke-width="0.75" stroke-linejoin="round"/>
<path d="M384.95 113.00 L385.50 112.36 L386.05 112.30 L386.60 111.50 L387.15 112.50 L387.70 111.00 L388.25 111.18 L388.80 110.45 L389.35 110.19 L389.90 110.72 L390.45 110.19 L391.00 109.15 L391.55 108.34 L392.10 107.30 L392.65 106.02 L393.20 106.51 L393.75 106.55 L394.30 102.70 L394.85 103.88 L395.40 102.71 L395.95 100.14 L396.50 96.98 L397.05 95.93 L397.60 96.02 L398.15 93.21 L398.70 90.11 L399.25 87.54 L399.80 84.75 L400.35 82.06 L400.90 79.94 L401.45 79.71 L402.00 76.07 L402.55 71.80 L403.10 67.70 L403.65 65.02 L404.20 66.54 L404.75 59.25 L405.30 57.04 L405.85 57.85 L406.40 50.93 L406.95 53.56 L407.50 52.87 L408.05 48.00 L408.60 45.57 L409.15 45.36 L409.70 43.59 L410.25 45.61 L410.80 47.66 L411.35 42.55 L411.90 44.03 L412.45 48.78 L413.00 47.33 L413.55 50.18 L414.10 45.31 L414.65 53.26 L415.20 50.03 L415.75 54.87 L416.30 52.02 L416.85 60.88 L417.40 60.67 L417.95 60.63 L418.50 63.99 L419.05 67.12 L419.60 71.73 L420.15 72.98 L420.70 73.25 L421.25 77.56 L421.80 80.85 L422.35 82.17 L422.90 82.81 L423.45 84.79 L424.00 87.67 L424.55 93.01 L425.10 94.94 L425.65 95.00 L426.20 97.74 L426.75 99.84 L427.30 101.23 L427.85 101.81 L428.40 104.02 L428.95 102.65 L429.50 105.09 L430.05 106.60 L430.60 108.50 L431.15 108.94 L431.70 107.57 L432.25 108.25 L432.80 108.84 L433.35 109.67 L433.90 110.70 L434.45 110.13 L435.00 112.49 L435.55 110.81 L436.10 111.08 L436.65 112.24 L437.20 113.45 L437.75 111.50 L438.30 112.36 L438.85 112.92 L439.40 113.02" fill="none" stroke="#f08020" stroke-width="0.75" stroke-linejoin="round"/>
<path d="M385.50 112.96 L386.05 113.05 L386.60 112.05 L387.15 112.69 L387.70 111.04 L388.25 113.06 L388.80 112.18 L389.35 112.25 L389.90 111.45 L390.45 111.75 L391.00 109.06 L391.55 109.88 L392.10 109.13 L392.65 107.46 L393.20 108.01 L393.75 105.39 L394.30 104.99 L394.85 102.44 L395.40 102.17 L395.95 102.23 L396.50 100.19 L397.05 96.59 L397.60 93.75 L398.15 94.70 L398.70 89.99 L399.25 91.06 L399.80 85.02 L400.35 82.00 L400.90 78.65 L401.45 79.76 L402.00 78.22 L402.55 73.21 L403.10 67.46 L403.65 68.43 L404.20 66.69 L404.75 57.58 L405.30 54.88 L405.85 55.26 L406.40 56.04 L406.95 51.07 L407.50 47.72 L408.05 45.38 L408.60 48.62 L409.15 45.55 L409.70 42.08 L410.25 41.62 L410.80 36.20 L411.35 44.78 L411.90 38.27 L412.45 40.40 L413.00 40.30 L413.55 40.55 L414.10 39.70 L414.65 46.58 L415.20 48.36 L415.75 45.46 L416.30 47.21 L416.85 54.92 L417.40 54.38 L417.95 56.14 L418.50 58.30 L419.05 64.75 L419.60 67.83 L420.15 69.36 L420.70 71.75 L421.25 72.71 L421.80 78.04 L422.35 77.07 L422.90 81.91 L423.45 80.76 L424.00 85.67 L424.55 87.99 L425.10 90.21 L425.65 92.11 L426.20 93.30 L426.75 97.71 L427.30 98.19 L427.85 101.08 L428.40 99.96 L428.95 100.79 L429.50 103.49 L430.05 103.41 L430.60 106.68 L431.15 107.51 L431.70 108.20 L432.25 108.77 L432.80 109.59 L433.35 108.40 L433.90 110.76 L434.45 111.77 L435.00 110.04 L435.55 112.48 L436.10 112.04 L436.65 111.59 L437.20 112.36 L437.75 112.78 L438.30 112.35 L438.85 113.50 L439.40 112.90 L439.95 113.01" fill="none" stroke="#70f0f0" stroke-width="0.75" stroke-linejoin="round"/>
<path d="M380.00 112.99 L380.55 111.98 L381.10 113.50 L381.65 111.32 L382.20 111.17 L382.75 111.27 L383.30 112.22 L383.85 112.59 L384.40 111.29 L384.95 109.78 L385.50 109.26 L386.05 109.63 L386.60 109.33 L387.15 109.23 L387.70 105.61 L388.25 106.27 L388.80 103.53 L389.35 102.56 L389.90 102.87 L390.45 101.33 L391.00 98.61 L391.55 98.54 L392.10 97.00 L392.65 91.42 L393.20 90.83 L393.75 87.76 L394.30 87.91 L394.85 83.43 L395.40 82.76 L395.95 79.22 L396.50 75.61 L397.05 71.43 L397.60 67.59 L398.15 69.24 L398.70 63.46 L399.25 64.55 L399.80 59.51 L400.35 54.28 L400.90 55.62 L401.45 52.55 L402.00 47.27 L402.55 49.40 L403.10 44.42 L403.65 43.14 L404.20 43.75 L404.75 44.35 L405.30 46.39 L405.85 49.98 L406.40 49.21 L406.95 50.09 L407.50 50.18 L408.05 50.77 L408.60 55.16 L409.15 50.81 L409.70 59.39 L410.25 57.01 L410.80 58.11 L411.35 62.57 L411.90 68.65 L412.45 69.39 L413.00 69.32 L413.55 76.20 L414.10 76.28 L414.65 77.15 L415.20 81.57 L415.75 85.05 L416.30 86.98 L416.85 89.26 L417.40 91.98 L417.95 92.11 L418.50 97.47 L419.05 96.25 L419.60 98.40 L420.15 102.94 L420.70 103.35 L421.25 103.47 L421.80 105.00 L422.35 105.03 L422.90 106.46 L423.45 107.16 L424.00 108.80 L424.55 108.26 L425.10 111.15 L425.65 111.59 L426.20 110.90 L426.75 110.50 L427.30 112.97 L427.85 111.81 L428.40 112.89 L428.95 112.33 L429.50 113.49 L430.05 113.00 L430.60 112.98" fill="none" stroke="#f03030" stroke-width="0.75" stroke-linejoin="round"/>
<path d="M378.90 112.98 L379.45 112.70 L380.00 113.47 L380.55 111.31 L381.10 113.50 L381.65 111.17 L382.20 111.34 L382.75 112.64 L383.30 111.54 L383.85 111.73 L384.40 109.33 L384.95 109.48 L385.50 109.52 L386.05 108.84 L386.60 106.29 L387.15 106.01 L387.70 105.47 L388.25 102.20 L388.80 101.94 L389.35 100.03 L389.90 97.94 L390.45 97.82 L391.00 93.42 L391.55 93.25 L392.10 92.53 L392.65 87.95 L393.20 87.68 L393.75 83.56 L394.30 80.88 L394.85 79.43 L395.40 78.11 L395.95 75.41 L396.50 71.00 L397.05 67.84 L397.60 64.96 L398.15 65.81 L398.70 56.25 L399.25 58.29 L399.80 54.47 L400.35 50.36 L400.90 48.79 L401.45 53.78 L402.00 47.60 L402.55 50.16 L403.10 46.42 L403.65 48.37 L404.20 50.93 L404.75 51.37 L405.30 51.97 L405.85 47.46 L406.40 47.63 L406.95 55.99 L407.50 55.43 L408.05 59.19 L408.60 59.04 L409.15 57.01 L409.70 64.75 L410.25 65.46 L410.80 64.80 L411.35 67.50 L411.90 71.81 L412.45 76.79 L413.00 81.09 L413.55 81.04 L414.10 83.83 L414.65 84.86 L415.20 87.87 L415.75 90.15 L416.30 93.99 L416.85 93.88 L417.40 98.66 L417.95 98.87 L418.50 102.05 L419.05 101.63 L419.60 102.25 L420.15 106.02 L420.70 104.48 L421.25 106.38 L421.80 108.77 L422.35 109.51 L422.90 107.96 L423.45 111.17 L424.00 109.00 L424.55 111.15 L425.10 110.38 L425.65 111.83 L426.20 112.76 L426.75 111.33 L427.30 111.46 L427.85 113.50 L428.40 113.50 L428.95 112.90 L429.50 113.02" fill="none" stroke="#f020f0" stroke-width="0.75" stroke-linejoin="round"/>
<path d="M375.60 113.02 L376.15 112.89 L376.70 112.52 L377.25 113.25 L377.80 111.13 L378.35 112.39 L378.90 110.45 L379.45 111.60 L380.00 110.76 L380.55 108.80 L381.10 110.51 L381.65 107.42 L382.20 108.42 L382.75 107.78 L383.30 104.68 L383.85 104.26 L384.40 103.68 L384.95 100.00 L385.50 100.62 L386.05 97.74 L386.60 96.11 L387.15 90.93 L387.70 88.22 L388.25 85.92 L388.80 82.55 L389.35 81.57 L389.90 78.94 L390.45 73.67 L391.00 72.64 L391.55 69.29 L392.10 63.12 L392.65 57.78 L393.20 53.85 L393.75 49.15 L394.30 53.21 L394.85 46.91 L395.40 45.09 L395.95 46.24 L396.50 42.94 L397.05 40.66 L397.60 42.03 L398.15 41.50 L398.70 35.52 L399.25 38.13 L399.80 35.82 L400.35 38.70 L400.90 42.04 L401.45 45.69 L402.00 44.21 L402.55 52.29 L403.10 54.98 L403.65 58.26 L404.20 59.98 L404.75 59.50 L405.30 63.29 L405.85 71.02 L406.40 69.71 L406.95 74.28 L407.50 76.89 L408.05 82.43 L408.60 86.85 L409.15 87.46 L409.70 93.16 L410.25 93.06 L410.80 95.41 L411.35 96.72 L411.90 99.51 L412.45 100.85 L413.00 104.15 L413.55 105.53 L414.10 105.83 L414.65 106.34 L415.20 107.76 L415.75 108.04 L416.30 110.84 L416.85 110.24 L417.40 110.66 L417.95 111.15 L418.50 111.14 L419.05 113.47 L419.60 111.60 L420.15 113.50 L420.70 111.75 L421.25 112.99" fill="none" stroke="#2020f0" stroke-width="0.75" stroke-linejoin="round"/>
<rect x="255.80" y="133.60" width="5.40" height="5.40" fill="#f64444" stroke="#222" stroke-width="0.3"/>
<text x="263.20" y="138.50" font-size="6.0" text-anchor="start" fill="#111">sgNC</text>
<rect x="255.80" y="140.60" width="5.40" height="5.40" fill="#44f80c" stroke="#222" stroke-width="0.3"/>
<text x="263.20" y="145.50" font-size="6.0" text-anchor="start" fill="#111">sgTHRAP3</text>
<rect x="255.80" y="147.50" width="5.40" height="5.40" fill="#fd35fd" stroke="#222" stroke-width="0.3"/>
<text x="263.20" y="152.40" font-size="6.0" text-anchor="start" fill="#111">Vector</text>
<rect x="255.80" y="154.50" width="5.40" height="5.40" fill="#f0822a" stroke="#222" stroke-width="0.3"/>
<text x="263.20" y="159.40" font-size="6.0" text-anchor="start" fill="#111">GIT2-L</text>
<rect x="255.80" y="161.40" width="5.40" height="5.40" fill="#80fbfb" stroke="#222" stroke-width="0.3"/>
<text x="263.20" y="166.30" font-size="6.0" text-anchor="start" fill="#111">sgTHRAP3+Vector</text>
<rect x="255.80" y="168.30" width="5.40" height="5.40" fill="#1200f4" stroke="#222" stroke-width="0.3"/>
<text x="263.20" y="173.20" font-size="6.0" text-anchor="start" fill="#111">sgTHRAP3+GIT2-S</text>
<rect x="371.60" y="133.60" width="5.40" height="5.40" fill="#f64444" stroke="#222" stroke-width="0.3"/>
<text x="378.80" y="138.50" font-size="6.0" text-anchor="start" fill="#111">sgNC+RSL3</text>
<rect x="371.60" y="140.60" width="5.40" height="5.40" fill="#44f80c" stroke="#222" stroke-width="0.3"/>
<text x="378.80" y="145.50" font-size="6.0" text-anchor="start" fill="#111">sgTHRAP3+RSL3</text>
<rect x="371.60" y="147.50" width="5.40" height="5.40" fill="#fd35fd" stroke="#222" stroke-width="0.3"/>
<text x="378.80" y="152.40" font-size="6.0" text-anchor="start" fill="#111">Vector+RSL3</text>
<rect x="371.60" y="154.50" width="5.40" height="5.40" fill="#f0822a" stroke="#222" stroke-width="0.3"/>
<text x="378.80" y="159.40" font-size="6.0" text-anchor="start" fill="#111">GIT2-L+RSL3</text>
<rect x="371.60" y="161.40" width="5.40" height="5.40" fill="#80fbfb" stroke="#222" stroke-width="0.3"/>
<text x="378.80" y="166.30" font-size="6.0" text-anchor="start" fill="#111">sgTHRAP3Vector+RSL3</text>
<rect x="371.60" y="168.30" width="5.40" height="5.40" fill="#1200f4" stroke="#222" stroke-width="0.3"/>
<text x="378.80" y="173.20" font-size="6.0" text-anchor="start" fill="#111">sgTHRAP3+GIT2-S+RSL3</text>
<text x="6.30" y="396.50" font-size="14.2" text-anchor="start" font-weight="bold" fill="#000">D</text>
<g clip-path="url(#c00)"><g filter="url(#n00)">
<rect x="36.80" y="406.00" width="89.20" height="89.20" fill="#888888"/>
<ellipse cx="62.8" cy="454.0" rx="2.3" ry="2.7" fill="#d0d0d0"/>
<ellipse cx="70.8" cy="453.3" rx="1.8" ry="2.1" fill="#d0d0d0"/>
<ellipse cx="109.1" cy="490.6" rx="2.7" ry="2.7" fill="#d0d0d0"/>
<ellipse cx="45.2" cy="429.6" rx="2.7" ry="2.1" fill="#d0d0d0"/>
<ellipse cx="52.6" cy="460.4" rx="2.7" ry="1.6" fill="#d0d0d0"/>
<ellipse cx="69.5" cy="424.0" rx="2.8" ry="1.5" fill="#d0d0d0"/>
<ellipse cx="61.8" cy="416.4" rx="1.4" ry="1.2" fill="#d0d0d0"/>
<ellipse cx="41.1" cy="452.8" rx="1.7" ry="1.8" fill="#d0d0d0"/>
<ellipse cx="87.8" cy="435.6" rx="2.4" ry="1.6" fill="#d0d0d0"/>
<ellipse cx="81.2" cy="440.0" rx="4.2" ry="3.4" fill="#6e6e6e" opacity="0.6"/>
<ellipse cx="63.4" cy="485.5" rx="4.3" ry="3.0" fill="#6e6e6e" opacity="0.6"/>
<ellipse cx="95.6" cy="450.9" rx="2.1" ry="2.6" fill="#6e6e6e" opacity="0.6"/>
<ellipse cx="94.1" cy="410.9" rx="2.1" ry="2.8" fill="#6e6e6e" opacity="0.6"/>
<ellipse cx="79.8" cy="410.2" rx="4.9" ry="5.0" fill="#6e6e6e" opacity="0.6"/>
<ellipse cx="103.9" cy="479.4" rx="4.7" ry="4.5" fill="#6e6e6e" opacity="0.6"/>
<path d="M119 406 C116 428 104 444 103 460 C102 476 108 486 111 495.2 L126 495.2 L126 406Z" fill="#8a8a8a"/>
<path d="M121 406 C118 428 106 444 104.5 460 C103 476 108 486 112 495.2" fill="none" stroke="#3a3a3a" stroke-width="2.2"/>
</g>
<g opacity="0.85" filter="url(#n00m)">
<ellipse cx="103" cy="429" rx="13" ry="7.5" transform="rotate(10 103 429)" fill="#4e4e4e" stroke="#222" stroke-width="1.2"/>
<ellipse cx="47" cy="441.5" rx="9.5" ry="6" transform="rotate(15 47 441.5)" fill="#4e4e4e" stroke="#222" stroke-width="1.2"/>
<ellipse cx="65.5" cy="445.5" rx="8" ry="6" transform="rotate(0 65.5 445.5)" fill="#707070" stroke="#222" stroke-width="1.2"/>
<ellipse cx="102" cy="443.5" rx="10" ry="8" transform="rotate(0 102 443.5)" fill="#4e4e4e" stroke="#222" stroke-width="1.2"/>
<ellipse cx="64" cy="457.5" rx="14" ry="8" transform="rotate(10 64 457.5)" fill="#4e4e4e" stroke="#222" stroke-width="1.2"/>
<ellipse cx="79" cy="479" rx="7" ry="14" transform="rotate(10 79 479)" fill="#4e4e4e" stroke="#222" stroke-width="1.2"/>
</g>
<path d="M121.5 406 L126 406 L126 438 C124 430 122 420 121.5 406Z" fill="#cfcfcf"/>
</g>
<rect x="37.099999999999994" y="406.3" width="88.60000000000001" height="88.60000000000001" fill="none" stroke="#666" stroke-width="0.7"/>
<g clip-path="url(#c01)"><g filter="url(#n01)">
<rect x="139.50" y="406.00" width="89.20" height="89.20" fill="#8d8d8d"/>
<ellipse cx="155.4" cy="425.4" rx="2.5" ry="2.1" fill="#d0d0d0"/>
<ellipse cx="166.3" cy="437.2" rx="2.1" ry="1.7" fill="#d0d0d0"/>
<ellipse cx="201.1" cy="419.9" rx="1.8" ry="1.6" fill="#d0d0d0"/>
<ellipse cx="204.8" cy="477.9" rx="2.0" ry="2.6" fill="#d0d0d0"/>
<ellipse cx="149.2" cy="464.7" rx="1.6" ry="1.5" fill="#d0d0d0"/>
<ellipse cx="188.7" cy="416.6" rx="1.2" ry="1.6" fill="#d0d0d0"/>
<ellipse cx="191.9" cy="463.1" rx="2.5" ry="1.7" fill="#d0d0d0"/>
<ellipse cx="196.5" cy="489.2" rx="2.7" ry="1.5" fill="#d0d0d0"/>
<ellipse cx="171.7" cy="425.9" rx="2.2" ry="2.0" fill="#d0d0d0"/>
<ellipse cx="190.3" cy="434.0" rx="4.8" ry="2.3" fill="#6e6e6e" opacity="0.6"/>
<ellipse cx="224.0" cy="477.7" rx="4.3" ry="3.9" fill="#6e6e6e" opacity="0.6"/>
<ellipse cx="221.5" cy="448.4" rx="4.9" ry="4.8" fill="#6e6e6e" opacity="0.6"/>
<ellipse cx="148.4" cy="453.3" rx="2.3" ry="4.1" fill="#6e6e6e" opacity="0.6"/>
<ellipse cx="148.5" cy="486.4" rx="2.6" ry="3.3" fill="#6e6e6e" opacity="0.6"/>
<ellipse cx="145.0" cy="455.0" rx="4.3" ry="4.7" fill="#6e6e6e" opacity="0.6"/>
</g>
<g opacity="0.85" filter="url(#n01m)">
<ellipse cx="166.4" cy="437" rx="11" ry="10.5" transform="rotate(0 166.4 437)" fill="#4e4e4e" stroke="#222" stroke-width="1.2"/>
<ellipse cx="195.5" cy="443" rx="8" ry="10" transform="rotate(0 195.5 443)" fill="#4e4e4e" stroke="#222" stroke-width="1.2"/>
<ellipse cx="216.5" cy="467.5" rx="8" ry="8" transform="rotate(0 216.5 467.5)" fill="#4e4e4e" stroke="#222" stroke-width="1.2"/>
<ellipse cx="151" cy="475" rx="6" ry="9" transform="rotate(0 151 475)" fill="#4e4e4e" stroke="#222" stroke-width="1.2"/>
<ellipse cx="192.5" cy="470" rx="4" ry="4" transform="rotate(0 192.5 470)" fill="#383838" stroke="#161616" stroke-width="1.0"/>
<ellipse cx="206" cy="430.6" rx="3" ry="2" transform="rotate(0 206 430.6)" fill="#d0d0d0" stroke="none" stroke-width="0"/>
<ellipse cx="205" cy="478" rx="3" ry="3" transform="rotate(0 205 478)" fill="#cfcfcf" stroke="none" stroke-width="0"/>
</g>
</g>
<rect x="139.8" y="406.3" width="88.60000000000001" height="88.60000000000001" fill="none" stroke="#666" stroke-width="0.7"/>
<g clip-path="url(#c02)"><g filter="url(#n02)">
<rect x="241.80" y="406.00" width="89.20" height="89.20" fill="#868686"/>
<ellipse cx="290.2" cy="420.1" rx="1.6" ry="1.9" fill="#d0d0d0"/>
<ellipse cx="247.2" cy="450.5" rx="2.7" ry="1.9" fill="#d0d0d0"/>
<ellipse cx="313.5" cy="488.0" rx="1.2" ry="1.2" fill="#d0d0d0"/>
<ellipse cx="281.2" cy="487.9" rx="1.9" ry="2.5" fill="#d0d0d0"/>
<ellipse cx="300.3" cy="413.7" rx="1.9" ry="2.2" fill="#d0d0d0"/>
<ellipse cx="258.8" cy="420.7" rx="2.3" ry="1.7" fill="#d0d0d0"/>
<ellipse cx="301.9" cy="432.5" rx="1.3" ry="1.8" fill="#d0d0d0"/>
<ellipse cx="309.7" cy="438.3" rx="2.1" ry="2.4" fill="#d0d0d0"/>
<ellipse cx="268.3" cy="480.4" rx="1.3" ry="1.9" fill="#d0d0d0"/>
<ellipse cx="265.4" cy="423.9" rx="4.7" ry="2.5" fill="#6e6e6e" opacity="0.6"/>
<ellipse cx="309.1" cy="448.3" rx="4.8" ry="4.7" fill="#6e6e6e" opacity="0.6"/>
<ellipse cx="247.1" cy="487.3" rx="3.7" ry="4.2" fill="#6e6e6e" opacity="0.6"/>
<ellipse cx="254.4" cy="468.4" rx="4.2" ry="4.9" fill="#6e6e6e" opacity="0.6"/>
<ellipse cx="294.2" cy="413.2" rx="4.0" ry="4.0" fill="#6e6e6e" opacity="0.6"/>
<ellipse cx="256.3" cy="475.7" rx="2.1" ry="3.8" fill="#6e6e6e" opacity="0.6"/>
<path d="M241.8 440 C250 445 258 460 260 495.2 L241.8 495.2Z" fill="#8f8f8f"/>
<path d="M245 445 C250 455 254 470 255 495" fill="none" stroke="#555" stroke-width="2"/>
<path d="M270 495.2 C276 485 285 478 296 476 C305 475 315 478 322 484 C326 488 329 492 331.4 495.2 L331.4 495.2 Z" fill="#707070"/>
<path d="M275 495.2 C281 485 290 478 300 477 C310 477 320 482 331.4 492" fill="none" stroke="#d4d4d4" stroke-width="3"/>
</g>
<g opacity="0.85" filter="url(#n02m)">
<ellipse cx="250.3" cy="418.4" rx="8" ry="10" transform="rotate(0 250.3 418.4)" fill="#5e5e5e" stroke="#222" stroke-width="1.2"/>
<ellipse cx="270.3" cy="430.7" rx="7" ry="7" transform="rotate(0 270.3 430.7)" fill="#5e5e5e" stroke="#222" stroke-width="1.2"/>
<ellipse cx="291.7" cy="441.4" rx="7" ry="9" transform="rotate(0 291.7 441.4)" fill="#5e5e5e" stroke="#222" stroke-width="1.2"/>
<ellipse cx="307" cy="443" rx="8" ry="9" transform="rotate(0 307 443)" fill="#5e5e5e" stroke="#222" stroke-width="1.2"/>
<ellipse cx="276.4" cy="469" rx="10" ry="10" transform="rotate(0 276.4 469)" fill="#5e5e5e" stroke="#222" stroke-width="1.2"/>
<ellipse cx="322.4" cy="467.4" rx="6" ry="10" transform="rotate(0 322.4 467.4)" fill="#5e5e5e" stroke="#222" stroke-width="1.2"/>
</g>
<path d="M256 406 C262 412 268 417 274 416.5 C279 416 281 412 285 413 C289 414 291 419 295 418 C299 417 298 410 303 409.5 C309 409 314 410 315.5 416 C316.5 421 318 424 323 426.5 C326 428 329 430 331.4 431 L331.4 406Z" fill="#eeeeee" stroke="#5a5a5a" stroke-width="1.1"/>
<circle cx="309" cy="416" r="4" fill="#f2f2f2" stroke="#5a5a5a" stroke-width="1"/>
<circle cx="266" cy="408" r="1.2" fill="#444"/><circle cx="269" cy="407.5" r="1.2" fill="#444"/>
</g>
<rect x="242.10000000000002" y="406.3" width="88.60000000000001" height="88.60000000000001" fill="none" stroke="#666" stroke-width="0.7"/>
<g clip-path="url(#c03)"><g filter="url(#n03)">
<rect x="345.00" y="406.00" width="89.20" height="89.20" fill="#939393"/>
<ellipse cx="396.2" cy="425.8" rx="2.7" ry="2.7" fill="#d0d0d0"/>
<ellipse cx="386.9" cy="463.9" rx="1.5" ry="1.6" fill="#d0d0d0"/>
<ellipse cx="372.4" cy="466.2" rx="1.5" ry="2.8" fill="#d0d0d0"/>
<ellipse cx="354.7" cy="425.7" rx="1.3" ry="2.4" fill="#d0d0d0"/>
<ellipse cx="378.8" cy="448.3" rx="1.7" ry="2.2" fill="#d0d0d0"/>
<ellipse cx="381.8" cy="426.9" rx="1.9" ry="1.7" fill="#d0d0d0"/>
<ellipse cx="358.0" cy="476.9" rx="2.3" ry="2.3" fill="#d0d0d0"/>
<ellipse cx="420.7" cy="442.0" rx="1.8" ry="1.9" fill="#d0d0d0"/>
<ellipse cx="381.8" cy="464.3" rx="1.2" ry="1.9" fill="#d0d0d0"/>
<ellipse cx="392.4" cy="438.1" rx="2.1" ry="4.1" fill="#6e6e6e" opacity="0.6"/>
<ellipse cx="349.8" cy="455.8" rx="2.5" ry="2.1" fill="#6e6e6e" opacity="0.6"/>
<ellipse cx="363.7" cy="415.3" rx="2.5" ry="4.1" fill="#6e6e6e" opacity="0.6"/>
<ellipse cx="408.1" cy="439.5" rx="4.0" ry="3.4" fill="#6e6e6e" opacity="0.6"/>
<ellipse cx="389.5" cy="481.1" rx="2.9" ry="4.6" fill="#6e6e6e" opacity="0.6"/>
<ellipse cx="405.1" cy="465.5" rx="2.0" ry="2.3" fill="#6e6e6e" opacity="0.6"/>
<path d="M345 456 C360 454 385 455 398 460 C404 468 405 480 403 495.2 L345 495.2Z" fill="#6a6a6a"/>
<path d="M345 457 C360 455 385 455 398 461" fill="none" stroke="#3a3a3a" stroke-width="2"/>
<circle cx="372" cy="478" r="6" fill="none" stroke="#444" stroke-width="3"/>
<circle cx="355" cy="472" r="4" fill="none" stroke="#4a4a4a" stroke-width="2.5"/>
</g>
<g opacity="0.85" filter="url(#n03m)">
<ellipse cx="372" cy="478" rx="4" ry="4" transform="rotate(0 372 478)" fill="#a8a8a8" stroke="none" stroke-width="0"/>
<ellipse cx="351" cy="418.2" rx="6.5" ry="10" transform="rotate(0 351 418.2)" fill="#4e4e4e" stroke="#222" stroke-width="1.2"/>
<ellipse cx="426" cy="427" rx="7" ry="8.5" transform="rotate(0 426 427)" fill="#4e4e4e" stroke="#222" stroke-width="1.2"/>
<ellipse cx="421.8" cy="411" rx="9" ry="6.5" transform="rotate(0 421.8 411)" fill="#6e6e6e" stroke="#555" stroke-width="0.8"/>
<ellipse cx="396.2" cy="443.8" rx="8" ry="8" transform="rotate(0 396.2 443.8)" fill="#4e4e4e" stroke="#222" stroke-width="1.2"/>
<ellipse cx="423.2" cy="484.7" rx="7" ry="10" transform="rotate(0 423.2 484.7)" fill="#4e4e4e" stroke="#222" stroke-width="1.2"/>
</g>
</g>
<rect x="345.3" y="406.3" width="88.60000000000001" height="88.60000000000001" fill="none" stroke="#666" stroke-width="0.7"/>
<g clip-path="url(#c04)"><g filter="url(#n04)">
<rect x="447.30" y="406.00" width="89.20" height="89.20" fill="#7e7e7e"/>
<ellipse cx="461.9" cy="476.2" rx="2.6" ry="1.8" fill="#d0d0d0"/>
<ellipse cx="473.8" cy="425.9" rx="1.3" ry="1.5" fill="#d0d0d0"/>
<ellipse cx="467.7" cy="479.3" rx="1.5" ry="1.5" fill="#d0d0d0"/>
<ellipse cx="526.6" cy="484.5" rx="1.4" ry="1.7" fill="#d0d0d0"/>
<ellipse cx="531.6" cy="441.7" rx="2.2" ry="2.3" fill="#d0d0d0"/>
<ellipse cx="503.8" cy="414.5" rx="2.4" ry="2.5" fill="#d0d0d0"/>
<ellipse cx="487.7" cy="438.1" rx="2.4" ry="2.8" fill="#d0d0d0"/>
<ellipse cx="527.8" cy="426.4" rx="2.4" ry="2.0" fill="#d0d0d0"/>
<ellipse cx="531.4" cy="488.8" rx="2.0" ry="2.6" fill="#d0d0d0"/>
<ellipse cx="523.1" cy="419.1" rx="3.2" ry="4.8" fill="#6e6e6e" opacity="0.6"/>
<ellipse cx="470.4" cy="445.6" rx="3.9" ry="3.1" fill="#6e6e6e" opacity="0.6"/>
<ellipse cx="515.1" cy="424.8" rx="3.8" ry="3.7" fill="#6e6e6e" opacity="0.6"/>
<ellipse cx="453.5" cy="474.3" rx="4.4" ry="4.6" fill="#6e6e6e" opacity="0.6"/>
<ellipse cx="466.8" cy="453.1" rx="2.5" ry="4.2" fill="#6e6e6e" opacity="0.6"/>
<ellipse cx="501.2" cy="482.4" rx="2.4" ry="2.8" fill="#6e6e6e" opacity="0.6"/>
</g>
<g opacity="0.85" filter="url(#n04m)">
<ellipse cx="463" cy="446" rx="6" ry="8" transform="rotate(0 463 446)" fill="#4e4e4e" stroke="#222" stroke-width="1.2"/>
<ellipse cx="485" cy="446" rx="10" ry="9" transform="rotate(0 485 446)" fill="#4e4e4e" stroke="#222" stroke-width="1.2"/>
<ellipse cx="502.2" cy="462.8" rx="5" ry="5" transform="rotate(0 502.2 462.8)" fill="#454545" stroke="#222" stroke-width="1.2"/>
<ellipse cx="524.3" cy="476" rx="10" ry="7" transform="rotate(-15 524.3 476)" fill="#4e4e4e" stroke="#222" stroke-width="1.2"/>
</g>
<ellipse cx="450.7" cy="414" rx="4" ry="9" transform="rotate(0 450.7 414)" fill="#ececec" stroke="none" stroke-width="0"/>
<circle cx="447.3" cy="495.2" r="5" fill="#ececec"/>
<circle cx="536.5" cy="491" r="6" fill="#ececec"/>
</g>
<rect x="447.6" y="406.3" width="88.60000000000001" height="88.60000000000001" fill="none" stroke="#666" stroke-width="0.7"/>
<g clip-path="url(#c05)"><g filter="url(#n05)">
<rect x="550.00" y="406.00" width="89.20" height="89.20" fill="#888888"/>
<ellipse cx="626.7" cy="426.0" rx="1.4" ry="1.4" fill="#d0d0d0"/>
<ellipse cx="615.2" cy="479.7" rx="2.8" ry="2.3" fill="#d0d0d0"/>
<ellipse cx="606.0" cy="465.8" rx="2.0" ry="2.1" fill="#d0d0d0"/>
<ellipse cx="565.7" cy="413.4" rx="2.6" ry="2.5" fill="#d0d0d0"/>
<ellipse cx="632.3" cy="470.1" rx="2.1" ry="1.5" fill="#d0d0d0"/>
<ellipse cx="624.6" cy="453.0" rx="2.6" ry="2.4" fill="#d0d0d0"/>
<ellipse cx="617.8" cy="461.3" rx="2.5" ry="1.9" fill="#d0d0d0"/>
<ellipse cx="612.0" cy="452.6" rx="2.2" ry="2.8" fill="#d0d0d0"/>
<ellipse cx="626.2" cy="468.1" rx="2.2" ry="1.6" fill="#d0d0d0"/>
<ellipse cx="622.2" cy="443.3" rx="3.1" ry="4.6" fill="#6e6e6e" opacity="0.6"/>
<ellipse cx="592.8" cy="466.7" rx="2.6" ry="4.3" fill="#6e6e6e" opacity="0.6"/>
<ellipse cx="631.4" cy="459.8" rx="4.5" ry="3.7" fill="#6e6e6e" opacity="0.6"/>
<ellipse cx="612.4" cy="446.1" rx="2.9" ry="4.8" fill="#6e6e6e" opacity="0.6"/>
<ellipse cx="606.8" cy="485.1" rx="3.0" ry="2.8" fill="#6e6e6e" opacity="0.6"/>
<ellipse cx="597.8" cy="458.1" rx="2.2" ry="2.2" fill="#6e6e6e" opacity="0.6"/>
<path d="M550 425 C560 430 569 440 568 452 C567 468 560 480 558 495.2 L550 495.2Z" fill="#a8a8a8"/>
<path d="M550 425 C560 430 569 440 568 452 C567 468 560 480 558 495.2" fill="none" stroke="#3a3a3a" stroke-width="2"/>
</g>
<g opacity="0.85" filter="url(#n05m)">
<ellipse cx="564.2" cy="426" rx="8" ry="6" transform="rotate(0 564.2 426)" fill="#4e4e4e" stroke="#222" stroke-width="1.2"/>
<ellipse cx="611.7" cy="423" rx="11" ry="8" transform="rotate(20 611.7 423)" fill="#4e4e4e" stroke="#222" stroke-width="1.2"/>
<ellipse cx="590.2" cy="452" rx="9" ry="11" transform="rotate(0 590.2 452)" fill="#4e4e4e" stroke="#222" stroke-width="1.2"/>
<ellipse cx="601" cy="470" rx="10" ry="6" transform="rotate(-20 601 470)" fill="#4e4e4e" stroke="#222" stroke-width="1.2"/>
<ellipse cx="584" cy="487.4" rx="8" ry="8" transform="rotate(0 584 487.4)" fill="#4e4e4e" stroke="#222" stroke-width="1.2"/>
</g>
</g>
<rect x="550.3" y="406.3" width="88.60000000000001" height="88.60000000000001" fill="none" stroke="#666" stroke-width="0.7"/>
<g clip-path="url(#c10)"><g filter="url(#n10)">
<rect x="36.80" y="520.20" width="89.20" height="89.20" fill="#848484"/>
<ellipse cx="107.7" cy="596.9" rx="1.5" ry="1.7" fill="#d0d0d0"/>
<ellipse cx="79.6" cy="537.4" rx="1.3" ry="2.4" fill="#d0d0d0"/>
<ellipse cx="67.8" cy="584.3" rx="2.7" ry="1.9" fill="#d0d0d0"/>
<ellipse cx="101.7" cy="528.4" rx="2.5" ry="1.4" fill="#d0d0d0"/>
<ellipse cx="108.3" cy="564.0" rx="2.7" ry="2.3" fill="#d0d0d0"/>
<ellipse cx="79.9" cy="534.6" rx="1.3" ry="2.5" fill="#d0d0d0"/>
<ellipse cx="87.0" cy="540.9" rx="1.6" ry="2.2" fill="#d0d0d0"/>
<ellipse cx="80.9" cy="567.9" rx="2.1" ry="2.6" fill="#d0d0d0"/>
<ellipse cx="43.1" cy="594.3" rx="2.2" ry="2.7" fill="#d0d0d0"/>
<ellipse cx="54.6" cy="527.0" rx="2.9" ry="2.6" fill="#6e6e6e" opacity="0.6"/>
<ellipse cx="86.1" cy="547.7" rx="2.1" ry="2.8" fill="#6e6e6e" opacity="0.6"/>
<ellipse cx="117.4" cy="601.0" rx="4.0" ry="2.9" fill="#6e6e6e" opacity="0.6"/>
<ellipse cx="51.5" cy="591.6" rx="2.4" ry="2.8" fill="#6e6e6e" opacity="0.6"/>
<ellipse cx="87.5" cy="538.0" rx="3.4" ry="2.2" fill="#6e6e6e" opacity="0.6"/>
<ellipse cx="69.6" cy="587.6" rx="4.6" ry="4.5" fill="#6e6e6e" opacity="0.6"/>
</g>
<g opacity="0.85" filter="url(#n10m)">
<ellipse cx="50" cy="535" rx="8" ry="7" transform="rotate(0 50 535)" fill="#4e4e4e" stroke="#222" stroke-width="1.2"/>
<ellipse cx="64.3" cy="565.6" rx="6" ry="9" transform="rotate(0 64.3 565.6)" fill="#454545" stroke="#222" stroke-width="1.2"/>
<ellipse cx="81.5" cy="553.3" rx="5" ry="5" transform="rotate(0 81.5 553.3)" fill="#454545" stroke="#222" stroke-width="1.2"/>
<ellipse cx="92.8" cy="582.4" rx="9" ry="9" transform="rotate(0 92.8 582.4)" fill="#4e4e4e" stroke="#222" stroke-width="1.2"/>
<ellipse cx="110.3" cy="587.7" rx="9" ry="9" transform="rotate(0 110.3 587.7)" fill="#4e4e4e" stroke="#222" stroke-width="1.2"/>
</g>
<path d="M36.8 528 C46 538 53 550 51 565 C50 577 44 585 38 592 L36.8 592Z" fill="#dcdcdc" stroke="#555" stroke-width="1"/>
<path d="M116 520.2 L126 520.2 L126 582 C121 570 117 550 116 520.2Z" fill="#d8d8d8" stroke="#666" stroke-width="0.8"/>
</g>
<rect x="37.099999999999994" y="520.5" width="88.60000000000001" height="88.60000000000001" fill="none" stroke="#666" stroke-width="0.7"/>
<g clip-path="url(#c11)"><g filter="url(#n11)">
<rect x="139.50" y="520.20" width="89.20" height="89.20" fill="#919191"/>
<ellipse cx="193.2" cy="542.5" rx="1.2" ry="1.8" fill="#d0d0d0"/>
<ellipse cx="162.3" cy="590.5" rx="1.3" ry="1.6" fill="#d0d0d0"/>
<ellipse cx="152.1" cy="533.1" rx="2.3" ry="2.6" fill="#d0d0d0"/>
<ellipse cx="175.3" cy="555.1" rx="1.7" ry="2.3" fill="#d0d0d0"/>
<ellipse cx="151.8" cy="562.8" rx="1.5" ry="2.6" fill="#d0d0d0"/>
<ellipse cx="196.0" cy="583.3" rx="1.7" ry="1.7" fill="#d0d0d0"/>
<ellipse cx="219.2" cy="570.6" rx="2.2" ry="1.6" fill="#d0d0d0"/>
<ellipse cx="214.8" cy="595.0" rx="2.6" ry="2.6" fill="#d0d0d0"/>
<ellipse cx="171.5" cy="594.9" rx="2.1" ry="2.0" fill="#d0d0d0"/>
<ellipse cx="145.9" cy="535.6" rx="4.1" ry="4.9" fill="#6e6e6e" opacity="0.6"/>
<ellipse cx="205.6" cy="585.6" rx="4.2" ry="2.4" fill="#6e6e6e" opacity="0.6"/>
<ellipse cx="194.5" cy="554.3" rx="4.8" ry="4.1" fill="#6e6e6e" opacity="0.6"/>
<ellipse cx="182.1" cy="567.4" rx="2.5" ry="2.8" fill="#6e6e6e" opacity="0.6"/>
<ellipse cx="195.7" cy="547.7" rx="3.3" ry="2.1" fill="#6e6e6e" opacity="0.6"/>
<ellipse cx="169.7" cy="599.3" rx="4.3" ry="4.0" fill="#6e6e6e" opacity="0.6"/>
<path d="M207 520.2 L229 520.2 L229 526 C220 527 212 526 207 520.2Z" fill="#333"/>
</g>
<g opacity="0.85" filter="url(#n11m)">
<ellipse cx="155.7" cy="538" rx="5" ry="5" transform="rotate(0 155.7 538)" fill="#383838" stroke="#161616" stroke-width="1.0"/>
<ellipse cx="151" cy="564" rx="5.5" ry="5.5" transform="rotate(0 151 564)" fill="#383838" stroke="#161616" stroke-width="1.0"/>
<ellipse cx="180.2" cy="561" rx="6" ry="6" transform="rotate(0 180.2 561)" fill="#383838" stroke="#161616" stroke-width="1.0"/>
<ellipse cx="181.7" cy="584" rx="6" ry="6" transform="rotate(0 181.7 584)" fill="#383838" stroke="#161616" stroke-width="1.0"/>
<ellipse cx="174" cy="595.3" rx="4.5" ry="4.5" transform="rotate(0 174 595.3)" fill="#383838" stroke="#161616" stroke-width="1.0"/>
<ellipse cx="224.7" cy="553.3" rx="5" ry="5" transform="rotate(0 224.7 553.3)" fill="#383838" stroke="#161616" stroke-width="1.0"/>
<ellipse cx="205" cy="537" rx="4" ry="4" transform="rotate(0 205 537)" fill="#666" stroke="none" stroke-width="0"/>
<ellipse cx="215" cy="577" rx="4" ry="3" transform="rotate(0 215 577)" fill="#6a6a6a" stroke="none" stroke-width="0"/>
<ellipse cx="185" cy="546" rx="3" ry="2" transform="rotate(0 185 546)" fill="#d6d6d6" stroke="none" stroke-width="0"/>
<ellipse cx="200" cy="590" rx="3" ry="3" transform="rotate(0 200 590)" fill="#d6d6d6" stroke="none" stroke-width="0"/>
<ellipse cx="165" cy="550" rx="3" ry="2" transform="rotate(0 165 550)" fill="#d6d6d6" stroke="none" stroke-width="0"/>
<ellipse cx="215" cy="575" rx="2.5" ry="2.5" transform="rotate(0 215 575)" fill="#d6d6d6" stroke="none" stroke-width="0"/>
</g>
</g>
<rect x="139.8" y="520.5" width="88.60000000000001" height="88.60000000000001" fill="none" stroke="#666" stroke-width="0.7"/>
<g clip-path="url(#c12)"><g filter="url(#n12)">
<rect x="241.80" y="520.20" width="89.20" height="89.20" fill="#848484"/>
<ellipse cx="253.5" cy="548.6" rx="2.7" ry="1.9" fill="#d0d0d0"/>
<ellipse cx="294.9" cy="534.0" rx="1.9" ry="1.2" fill="#d0d0d0"/>
<ellipse cx="315.9" cy="539.5" rx="2.6" ry="1.7" fill="#d0d0d0"/>
<ellipse cx="254.8" cy="560.8" rx="2.7" ry="2.3" fill="#d0d0d0"/>
<ellipse cx="314.4" cy="533.4" rx="1.3" ry="1.8" fill="#d0d0d0"/>
<ellipse cx="308.5" cy="547.1" rx="1.3" ry="1.7" fill="#d0d0d0"/>
<ellipse cx="318.4" cy="568.7" rx="2.4" ry="2.8" fill="#d0d0d0"/>
<ellipse cx="281.8" cy="534.1" rx="2.6" ry="1.6" fill="#d0d0d0"/>
<ellipse cx="262.0" cy="597.9" rx="1.3" ry="2.3" fill="#d0d0d0"/>
<ellipse cx="264.4" cy="528.8" rx="4.6" ry="2.4" fill="#6e6e6e" opacity="0.6"/>
<ellipse cx="277.0" cy="528.9" rx="2.4" ry="4.1" fill="#6e6e6e" opacity="0.6"/>
<ellipse cx="304.0" cy="552.1" rx="4.4" ry="3.8" fill="#6e6e6e" opacity="0.6"/>
<ellipse cx="253.9" cy="555.9" rx="3.0" ry="3.2" fill="#6e6e6e" opacity="0.6"/>
<ellipse cx="314.1" cy="569.5" rx="3.0" ry="2.8" fill="#6e6e6e" opacity="0.6"/>
<ellipse cx="272.2" cy="540.6" rx="2.1" ry="4.0" fill="#6e6e6e" opacity="0.6"/>
<path d="M276 537 C282 540 288 543 294 549" fill="none" stroke="#d8d8d8" stroke-width="3.5"/>
<path d="M284 592 C288 588 293 585 297 582" fill="none" stroke="#d8d8d8" stroke-width="4"/>
<path d="M241.8 601 C260 603 280 603 300 600 C315 598 325 596 331.4 595" fill="none" stroke="#3e3e3e" stroke-width="2"/>
</g>
<g opacity="0.85" filter="url(#n12m)">
<ellipse cx="303.2" cy="573.4" rx="5" ry="7" transform="rotate(0 303.2 573.4)" fill="#6c6c6c" stroke="none" stroke-width="0"/>
<ellipse cx="282.7" cy="561" rx="7" ry="14" transform="rotate(5 282.7 561)" fill="#4e4e4e" stroke="#222" stroke-width="1.2"/>
<ellipse cx="313.4" cy="549.3" rx="9" ry="6" transform="rotate(30 313.4 549.3)" fill="#4e4e4e" stroke="#222" stroke-width="1.2"/>
<ellipse cx="272.5" cy="587.3" rx="7" ry="6" transform="rotate(0 272.5 587.3)" fill="#4e4e4e" stroke="#222" stroke-width="1.2"/>
<ellipse cx="268.8" cy="579.2" rx="4" ry="4" transform="rotate(0 268.8 579.2)" fill="#3a3a3a" stroke="#222" stroke-width="1.2"/>
<ellipse cx="254.2" cy="563.2" rx="6" ry="8" transform="rotate(0 254.2 563.2)" fill="#6a6a6a" stroke="#222" stroke-width="1.2"/>
</g>
<path d="M241.8 520.2 L270 520.2 C264 521 258 523 255 527 C252 531 251 534 249 540 C247 547 244 553 241.8 557Z" fill="#e8e8e8" stroke="#555" stroke-width="1"/>
<path d="M302 520.2 L331.4 520.2 L331.4 550 C327 548 324 545 322 542 C318 537 315 532 310 528 C306 525 304 522 302 520.2Z" fill="#e8e8e8" stroke="#555" stroke-width="1"/>
<ellipse cx="244" cy="575" rx="4" ry="7" transform="rotate(0 244 575)" fill="#eaeaea" stroke="none" stroke-width="0"/>
</g>
<rect x="242.10000000000002" y="520.5" width="88.60000000000001" height="88.60000000000001" fill="none" stroke="#666" stroke-width="0.7"/>
<g clip-path="url(#c13)"><g filter="url(#n13)">
<rect x="345.00" y="520.20" width="89.20" height="89.20" fill="#919191"/>
<ellipse cx="412.5" cy="569.8" rx="2.8" ry="1.4" fill="#d0d0d0"/>
<ellipse cx="396.9" cy="598.6" rx="2.7" ry="1.5" fill="#d0d0d0"/>
<ellipse cx="429.9" cy="550.3" rx="1.5" ry="1.4" fill="#d0d0d0"/>
<ellipse cx="423.6" cy="594.4" rx="2.8" ry="2.5" fill="#d0d0d0"/>
<ellipse cx="411.1" cy="574.5" rx="1.5" ry="1.4" fill="#d0d0d0"/>
<ellipse cx="354.0" cy="569.7" rx="2.7" ry="1.7" fill="#d0d0d0"/>
<ellipse cx="396.1" cy="593.1" rx="2.5" ry="2.3" fill="#d0d0d0"/>
<ellipse cx="387.7" cy="576.7" rx="2.0" ry="2.7" fill="#d0d0d0"/>
<ellipse cx="384.2" cy="570.1" rx="1.9" ry="1.5" fill="#d0d0d0"/>
<ellipse cx="367.1" cy="564.1" rx="3.1" ry="2.2" fill="#6e6e6e" opacity="0.6"/>
<ellipse cx="390.9" cy="604.5" rx="4.4" ry="2.9" fill="#6e6e6e" opacity="0.6"/>
<ellipse cx="392.2" cy="558.1" rx="3.5" ry="3.2" fill="#6e6e6e" opacity="0.6"/>
<ellipse cx="404.1" cy="602.0" rx="3.3" ry="2.4" fill="#6e6e6e" opacity="0.6"/>
<ellipse cx="413.2" cy="575.4" rx="3.4" ry="3.0" fill="#6e6e6e" opacity="0.6"/>
<ellipse cx="370.1" cy="562.8" rx="4.5" ry="3.6" fill="#6e6e6e" opacity="0.6"/>
</g>
<g opacity="0.85" filter="url(#n13m)">
<ellipse cx="351.5" cy="544" rx="5" ry="5" transform="rotate(0 351.5 544)" fill="#383838" stroke="#161616" stroke-width="1.0"/>
<ellipse cx="394.4" cy="545.7" rx="5.5" ry="10" transform="rotate(-30 394.4 545.7)" fill="#383838" stroke="#161616" stroke-width="1.0"/>
<ellipse cx="374.5" cy="570" rx="5" ry="4.5" transform="rotate(0 374.5 570)" fill="#383838" stroke="#161616" stroke-width="1.0"/>
<ellipse cx="397.5" cy="577.8" rx="5" ry="5" transform="rotate(0 397.5 577.8)" fill="#383838" stroke="#161616" stroke-width="1.0"/>
<ellipse cx="420.5" cy="561" rx="5" ry="4" transform="rotate(0 420.5 561)" fill="#383838" stroke="#161616" stroke-width="1.0"/>
<ellipse cx="422.6" cy="588.6" rx="5" ry="5" transform="rotate(0 422.6 588.6)" fill="#383838" stroke="#161616" stroke-width="1.0"/>
<ellipse cx="379" cy="599.3" rx="5" ry="10" transform="rotate(20 379 599.3)" fill="#383838" stroke="#161616" stroke-width="1.0"/>
<ellipse cx="429.7" cy="577.8" rx="4" ry="4.5" transform="rotate(0 429.7 577.8)" fill="#383838" stroke="#161616" stroke-width="1.0"/>
</g>
</g>
<rect x="345.3" y="520.5" width="88.60000000000001" height="88.60000000000001" fill="none" stroke="#666" stroke-width="0.7"/>
<g clip-path="url(#c14)"><g filter="url(#n14)">
<rect x="447.30" y="520.20" width="89.20" height="89.20" fill="#8d8d8d"/>
<ellipse cx="528.3" cy="601.9" rx="2.6" ry="2.2" fill="#d0d0d0"/>
<ellipse cx="512.6" cy="551.5" rx="2.4" ry="2.8" fill="#d0d0d0"/>
<ellipse cx="466.3" cy="601.0" rx="2.6" ry="1.6" fill="#d0d0d0"/>
<ellipse cx="469.4" cy="603.3" rx="2.0" ry="2.7" fill="#d0d0d0"/>
<ellipse cx="464.9" cy="565.2" rx="1.8" ry="1.4" fill="#d0d0d0"/>
<ellipse cx="504.7" cy="584.6" rx="1.4" ry="1.6" fill="#d0d0d0"/>
<ellipse cx="503.9" cy="525.5" rx="2.3" ry="2.1" fill="#d0d0d0"/>
<ellipse cx="493.4" cy="544.8" rx="2.1" ry="2.7" fill="#d0d0d0"/>
<ellipse cx="480.7" cy="533.0" rx="2.6" ry="1.5" fill="#d0d0d0"/>
<ellipse cx="459.7" cy="587.5" rx="4.0" ry="4.6" fill="#6e6e6e" opacity="0.6"/>
<ellipse cx="521.8" cy="554.5" rx="3.6" ry="2.4" fill="#6e6e6e" opacity="0.6"/>
<ellipse cx="509.0" cy="573.4" rx="4.6" ry="4.8" fill="#6e6e6e" opacity="0.6"/>
<ellipse cx="494.6" cy="527.8" rx="4.8" ry="3.1" fill="#6e6e6e" opacity="0.6"/>
<ellipse cx="496.6" cy="578.8" rx="4.0" ry="2.7" fill="#6e6e6e" opacity="0.6"/>
<ellipse cx="473.5" cy="605.3" rx="4.8" ry="3.8" fill="#6e6e6e" opacity="0.6"/>
<path d="M447.3 600 C460 598 480 600 492 609.4 L447.3 609.4Z" fill="#c4c4c4"/>
</g>
<g opacity="0.85" filter="url(#n14m)">
<ellipse cx="512" cy="529" rx="10" ry="8" transform="rotate(0 512 529)" fill="#7a7a7a" stroke="none" stroke-width="0"/>
<ellipse cx="484.5" cy="535" rx="6" ry="4" transform="rotate(0 484.5 535)" fill="#383838" stroke="#161616" stroke-width="1.0"/>
<ellipse cx="509" cy="561.6" rx="4" ry="4" transform="rotate(0 509 561.6)" fill="#383838" stroke="#161616" stroke-width="1.0"/>
<ellipse cx="514.2" cy="573.9" rx="9" ry="7" transform="rotate(-20 514.2 573.9)" fill="#383838" stroke="#161616" stroke-width="1.0"/>
<ellipse cx="531.4" cy="562.5" rx="4" ry="8" transform="rotate(0 531.4 562.5)" fill="#383838" stroke="#161616" stroke-width="1.0"/>
<ellipse cx="463" cy="577.8" rx="6" ry="5" transform="rotate(0 463 577.8)" fill="#383838" stroke="#161616" stroke-width="1.0"/>
<ellipse cx="469" cy="583" rx="4" ry="4" transform="rotate(0 469 583)" fill="#383838" stroke="#161616" stroke-width="1.0"/>
<ellipse cx="491.5" cy="586" rx="5" ry="6" transform="rotate(0 491.5 586)" fill="#383838" stroke="#161616" stroke-width="1.0"/>
<ellipse cx="529" cy="596" rx="5" ry="4" transform="rotate(0 529 596)" fill="#383838" stroke="#161616" stroke-width="1.0"/>
</g>
</g>
<rect x="447.6" y="520.5" width="88.60000000000001" height="88.60000000000001" fill="none" stroke="#666" stroke-width="0.7"/>
<g clip-path="url(#c15)"><g filter="url(#n15)">
<rect x="550.00" y="520.20" width="89.20" height="89.20" fill="#888888"/>
<ellipse cx="627.1" cy="589.5" rx="1.4" ry="1.7" fill="#d0d0d0"/>
<ellipse cx="602.1" cy="562.9" rx="1.8" ry="1.2" fill="#d0d0d0"/>
<ellipse cx="601.2" cy="598.3" rx="2.6" ry="1.6" fill="#d0d0d0"/>
<ellipse cx="627.5" cy="526.4" rx="2.2" ry="1.5" fill="#d0d0d0"/>
<ellipse cx="623.9" cy="545.3" rx="2.2" ry="2.0" fill="#d0d0d0"/>
<ellipse cx="568.9" cy="569.7" rx="1.8" ry="2.1" fill="#d0d0d0"/>
<ellipse cx="564.1" cy="539.4" rx="2.0" ry="1.3" fill="#d0d0d0"/>
<ellipse cx="586.7" cy="587.3" rx="1.3" ry="2.7" fill="#d0d0d0"/>
<ellipse cx="606.7" cy="531.8" rx="2.5" ry="2.7" fill="#d0d0d0"/>
<ellipse cx="585.6" cy="537.6" rx="4.0" ry="3.7" fill="#6e6e6e" opacity="0.6"/>
<ellipse cx="588.0" cy="541.9" rx="4.1" ry="3.5" fill="#6e6e6e" opacity="0.6"/>
<ellipse cx="588.5" cy="545.0" rx="2.9" ry="4.9" fill="#6e6e6e" opacity="0.6"/>
<ellipse cx="561.8" cy="526.1" rx="2.8" ry="2.6" fill="#6e6e6e" opacity="0.6"/>
<ellipse cx="610.2" cy="582.2" rx="2.8" ry="4.3" fill="#6e6e6e" opacity="0.6"/>
<ellipse cx="559.8" cy="571.6" rx="4.9" ry="2.3" fill="#6e6e6e" opacity="0.6"/>
<path d="M639.2 540 C630 550 620 562 612 572 C607 580 605 595 604 609.4 L639.2 609.4Z" fill="#666666"/>
<path d="M639.2 542 C630 552 620 563 612 573 C607 581 605 595 604 609.4" fill="none" stroke="#2e2e2e" stroke-width="1.6"/>
</g>
<g opacity="0.85" filter="url(#n15m)">
<ellipse cx="609" cy="590" rx="6" ry="8" transform="rotate(0 609 590)" fill="#3a3a3a" stroke="none" stroke-width="0"/>
<ellipse cx="627" cy="561" rx="6" ry="7" transform="rotate(0 627 561)" fill="#4a4a4a" stroke="none" stroke-width="0"/>
<ellipse cx="620" cy="600" rx="8" ry="6" transform="rotate(0 620 600)" fill="#555" stroke="none" stroke-width="0"/>
<ellipse cx="613.6" cy="528" rx="4" ry="3" transform="rotate(0 613.6 528)" fill="#c8c8c8" stroke="none" stroke-width="0"/>
<ellipse cx="588.8" cy="529.6" rx="7" ry="9" transform="rotate(0 588.8 529.6)" fill="#5e5e5e" stroke="#222" stroke-width="1.2"/>
<ellipse cx="607.8" cy="565.4" rx="6.5" ry="8" transform="rotate(20 607.8 565.4)" fill="#5e5e5e" stroke="#222" stroke-width="1.2"/>
<ellipse cx="593.9" cy="584.3" rx="8" ry="7" transform="rotate(0 593.9 584.3)" fill="#5e5e5e" stroke="#222" stroke-width="1.2"/>
<ellipse cx="580" cy="601.1" rx="7.5" ry="7" transform="rotate(0 580 601.1)" fill="#555" stroke="#222" stroke-width="1.2"/>
</g>
<path d="M597.5 520.2 L603 520.2 C602 530 600 540 597 548 C593 557 588 564 581 571 C575 577 568 583 560 584 C556 584.5 553 583 550 583 L550 576.5 C554 576 559 576 563 575 C570 572 577 566 583 559 C589 551 594 541 596.5 531 Z" fill="#eaeaea"/>
<path d="M563 575 C568 578 572 582 575 586 C572 588 567 587 563 584 Z" fill="#e2e2e2"/>
<rect x="616.5" y="595" width="22" height="9" fill="#e8e8e8" opacity="0.8"/>
<line x1="617.5" y1="602.5" x2="637.5" y2="602.5" stroke="#000" stroke-width="1"/>
<text x="627.5" y="600.6" font-size="5" text-anchor="middle" fill="#000">500 nm</text>
</g>
<rect x="550.3" y="520.5" width="88.60000000000001" height="88.60000000000001" fill="none" stroke="#666" stroke-width="0.7"/>
<text x="81.40" y="403.60" font-size="10" text-anchor="middle" fill="#111" stroke="#111" stroke-width="0.1">sgNC</text>
<text x="184.10" y="403.60" font-size="10" text-anchor="middle" fill="#111" stroke="#111" stroke-width="0.1">sgTHRAP3</text>
<text x="286.40" y="403.60" font-size="10" text-anchor="middle" fill="#111" stroke="#111" stroke-width="0.1">Vector</text>
<text x="389.60" y="403.60" font-size="10" text-anchor="middle" fill="#111" stroke="#111" stroke-width="0.1">GIT2-L</text>
<text x="491.90" y="392.60" font-size="10" text-anchor="middle" fill="#111" stroke="#111" stroke-width="0.1">sgTHRAP3</text>
<text x="491.90" y="403.60" font-size="10" text-anchor="middle" fill="#111" stroke="#111" stroke-width="0.1">+Vector</text>
<text x="594.60" y="392.60" font-size="10" text-anchor="middle" fill="#111" stroke="#111" stroke-width="0.1">sgTHRAP3</text>
<text x="594.60" y="403.60" font-size="10" text-anchor="middle" fill="#111" stroke="#111" stroke-width="0.1">+GIT2-S</text>
<text x="81.40" y="514.00" font-size="10" text-anchor="middle" fill="#111" stroke="#111" stroke-width="0.1">sgNC+RSL3</text>
<text x="184.10" y="504.60" font-size="10" text-anchor="middle" fill="#111" stroke="#111" stroke-width="0.1">sgTHRAP3</text>
<text x="184.10" y="516.00" font-size="10" text-anchor="middle" fill="#111" stroke="#111" stroke-width="0.1">+RSL3</text>
<text x="286.40" y="504.60" font-size="10" text-anchor="middle" fill="#111" stroke="#111" stroke-width="0.1">Vector</text>
<text x="286.40" y="516.00" font-size="10" text-anchor="middle" fill="#111" stroke="#111" stroke-width="0.1">+RSL3</text>
<text x="389.60" y="504.60" font-size="10" text-anchor="middle" fill="#111" stroke="#111" stroke-width="0.1">GIT2-L</text>
<text x="389.60" y="516.00" font-size="10" text-anchor="middle" fill="#111" stroke="#111" stroke-width="0.1">+RSL3</text>
<text x="491.90" y="504.60" font-size="10" text-anchor="middle" fill="#111" stroke="#111" stroke-width="0.1">sgTHRAP3</text>
<text x="491.90" y="516.00" font-size="10" text-anchor="middle" fill="#111" stroke="#111" stroke-width="0.1">+Vector+RSL3</text>
<text x="594.60" y="504.60" font-size="10" text-anchor="middle" fill="#111" stroke="#111" stroke-width="0.1">sgTHRAP3</text>
<text x="594.60" y="516.00" font-size="10" text-anchor="middle" fill="#111" stroke="#111" stroke-width="0.1">+GIT2-S+RSL3</text>
<text x="5.80" y="833.00" font-size="14.2" text-anchor="start" font-weight="bold" fill="#000">J</text>
<text x="87.60" y="838.50" font-size="9.6" text-anchor="start" font-weight="bold" fill="#111">THP-1</text>
<text x="165.00" y="841.00" font-size="8.5" text-anchor="start" fill="#111" stroke="#111" stroke-width="0.1">kDa</text>
<rect x="38.00" y="840.30" width="125.40" height="17.20" fill="url(#ftlg)"/>
<text x="34.80" y="852.50" font-size="10" text-anchor="end" fill="#111" stroke="#111" stroke-width="0.1">FTL</text>
<text x="167.40" y="852.30" font-size="9" text-anchor="start" fill="#111" stroke="#111" stroke-width="0.1">19</text>
<g filter="url(#bb)">
<rect x="41.30" y="846.20" width="16.0" height="4.40" rx="2.20" fill="#000" opacity="0.96"/>
<rect x="41.80" y="851.8" width="15" height="1.6" fill="#000" opacity="0.25"/>
<rect x="61.80" y="846.20" width="16.0" height="4.40" rx="2.20" fill="#000" opacity="0.66"/>
<rect x="62.30" y="851.8" width="15" height="1.6" fill="#000" opacity="0.25"/>
<rect x="83.00" y="846.20" width="16.0" height="4.40" rx="2.20" fill="#000" opacity="0.96"/>
<rect x="83.50" y="851.8" width="15" height="1.6" fill="#000" opacity="0.25"/>
<rect x="103.20" y="846.20" width="16.0" height="4.40" rx="2.20" fill="#000" opacity="0.62"/>
<rect x="103.70" y="851.8" width="15" height="1.6" fill="#000" opacity="0.25"/>
<rect x="123.40" y="846.20" width="16.0" height="4.40" rx="2.20" fill="#000" opacity="0.62"/>
<rect x="123.90" y="851.8" width="15" height="1.6" fill="#000" opacity="0.25"/>
<rect x="143.60" y="846.20" width="16.0" height="4.40" rx="2.20" fill="#000" opacity="0.93" transform="rotate(-4 151.6 848.4)"/>
<rect x="144.10" y="851.8" width="15" height="1.6" fill="#000" opacity="0.25"/>
</g>
<rect x="38.0" y="840.3" width="125.4" height="17.20" fill="none" stroke="#333" stroke-width="0.9"/>
<rect x="38.00" y="859.30" width="125.40" height="17.00" fill="#d0d0d0"/>
<g filter="url(#bb2)" opacity="0.55">
<rect x="57.90" y="860.30" width="3.20" height="15.00" fill="#f4f4f4"/>
<rect x="78.80" y="860.30" width="3.20" height="15.00" fill="#f4f4f4"/>
<rect x="99.50" y="860.30" width="3.20" height="15.00" fill="#f4f4f4"/>
<rect x="119.70" y="860.30" width="3.20" height="15.00" fill="#f4f4f4"/>
<rect x="139.90" y="860.30" width="3.20" height="15.00" fill="#f4f4f4"/>
</g>
<text x="34.80" y="871.40" font-size="10" text-anchor="end" fill="#111" stroke="#111" stroke-width="0.1">TFRC</text>
<text x="167.40" y="871.20" font-size="9" text-anchor="start" fill="#111" stroke="#111" stroke-width="0.1">90</text>
<g filter="url(#bb)">
<rect x="41.30" y="864.60" width="16.0" height="4.40" rx="2.20" fill="#000" opacity="0.59"/>
<rect x="61.80" y="863.20" width="16.0" height="7.20" rx="3.60" fill="#000" opacity="1.00"/>
<rect x="83.00" y="863.80" width="16.0" height="6.00" rx="3.00" fill="#000" opacity="0.93"/>
<rect x="103.20" y="863.20" width="16.0" height="7.20" rx="3.60" fill="#000" opacity="1.00"/>
<rect x="123.40" y="863.20" width="16.0" height="7.20" rx="3.60" fill="#000" opacity="1.00"/>
<rect x="143.60" y="864.10" width="16.0" height="5.40" rx="2.70" fill="#000" opacity="0.85" transform="rotate(-4 151.6 866.8)"/>
<rect x="41.50" y="871.9" width="15.6" height="2.0" rx="1" fill="#000" opacity="0.3"/>
<rect x="62.00" y="871.9" width="15.6" height="2.0" rx="1" fill="#000" opacity="0.3"/>
<rect x="83.20" y="871.9" width="15.6" height="2.0" rx="1" fill="#000" opacity="0.3"/>
<rect x="103.40" y="871.9" width="15.6" height="2.0" rx="1" fill="#000" opacity="0.3"/>
<rect x="123.60" y="871.9" width="15.6" height="2.0" rx="1" fill="#000" opacity="0.3"/>
<rect x="143.80" y="871.9" width="15.6" height="2.0" rx="1" fill="#000" opacity="0.3"/>
</g>
<rect x="38.0" y="859.3" width="125.4" height="17.00" fill="none" stroke="#333" stroke-width="0.9"/>
<rect x="38.00" y="878.10" width="125.40" height="17.20" fill="#cecece"/>
<g filter="url(#bb2)" opacity="0.55">
<rect x="57.90" y="879.10" width="3.20" height="15.20" fill="#f4f4f4"/>
<rect x="78.80" y="879.10" width="3.20" height="15.20" fill="#f4f4f4"/>
<rect x="99.50" y="879.10" width="3.20" height="15.20" fill="#f4f4f4"/>
<rect x="119.70" y="879.10" width="3.20" height="15.20" fill="#f4f4f4"/>
<rect x="139.90" y="879.10" width="3.20" height="15.20" fill="#f4f4f4"/>
</g>
<text x="34.80" y="890.30" font-size="10" text-anchor="end" fill="#111" stroke="#111" stroke-width="0.1">GSS</text>
<text x="167.40" y="890.10" font-size="9" text-anchor="start" fill="#111" stroke="#111" stroke-width="0.1">52</text>
<g filter="url(#bb)">
<rect x="41.30" y="883.50" width="16.0" height="4.80" rx="2.40" fill="#000" opacity="0.96"/>
<rect x="61.80" y="884.00" width="16.0" height="3.80" rx="1.90" fill="#000" opacity="0.66"/>
<rect x="83.00" y="883.40" width="16.0" height="5.00" rx="2.50" fill="#000" opacity="0.96"/>
<rect x="103.20" y="884.40" width="16.0" height="3.00" rx="1.50" fill="#000" opacity="0.42"/>
<rect x="123.40" y="884.30" width="16.0" height="3.20" rx="1.60" fill="#000" opacity="0.46"/>
<rect x="143.60" y="883.40" width="16.0" height="5.00" rx="2.50" fill="#000" opacity="0.96" transform="rotate(-4 151.6 885.9)"/>
</g>
<rect x="38.0" y="878.1" width="125.4" height="17.20" fill="none" stroke="#333" stroke-width="0.9"/>
<rect x="38.00" y="896.80" width="125.40" height="17.10" fill="#dadada"/>
<g filter="url(#bb2)" opacity="0.55">
<rect x="57.90" y="897.80" width="3.20" height="15.10" fill="#f4f4f4"/>
<rect x="78.80" y="897.80" width="3.20" height="15.10" fill="#f4f4f4"/>
<rect x="99.50" y="897.80" width="3.20" height="15.10" fill="#f4f4f4"/>
<rect x="119.70" y="897.80" width="3.20" height="15.10" fill="#f4f4f4"/>
<rect x="139.90" y="897.80" width="3.20" height="15.10" fill="#f4f4f4"/>
</g>
<text x="34.80" y="908.95" font-size="10" text-anchor="end" fill="#111" stroke="#111" stroke-width="0.1">GCLM</text>
<text x="167.40" y="908.75" font-size="9" text-anchor="start" fill="#111" stroke="#111" stroke-width="0.1">31</text>
<g filter="url(#bb)">
<rect x="41.30" y="902.70" width="16.0" height="4.60" rx="2.30" fill="#000" opacity="0.96"/>
<rect x="61.80" y="903.30" width="16.0" height="3.40" rx="1.70" fill="#000" opacity="0.70"/>
<rect x="83.00" y="902.70" width="16.0" height="4.60" rx="2.30" fill="#000" opacity="0.96"/>
<rect x="103.20" y="903.20" width="16.0" height="3.60" rx="1.80" fill="#000" opacity="0.77"/>
<rect x="123.40" y="903.40" width="16.0" height="3.20" rx="1.60" fill="#000" opacity="0.59"/>
<rect x="143.60" y="902.60" width="16.0" height="4.80" rx="2.40" fill="#000" opacity="1.00" transform="rotate(-4 151.6 905.0)"/>
</g>
<rect x="38.0" y="896.8" width="125.4" height="17.10" fill="none" stroke="#333" stroke-width="0.9"/>
<rect x="38.00" y="916.10" width="125.40" height="16.70" fill="#dedede"/>
<g filter="url(#bb2)" opacity="0.55">
<rect x="57.90" y="917.10" width="3.20" height="14.70" fill="#f4f4f4"/>
<rect x="78.80" y="917.10" width="3.20" height="14.70" fill="#f4f4f4"/>
<rect x="99.50" y="917.10" width="3.20" height="14.70" fill="#f4f4f4"/>
<rect x="119.70" y="917.10" width="3.20" height="14.70" fill="#f4f4f4"/>
<rect x="139.90" y="917.10" width="3.20" height="14.70" fill="#f4f4f4"/>
</g>
<text x="34.80" y="928.05" font-size="10" text-anchor="end" fill="#111" stroke="#111" stroke-width="0.1">GCLC</text>
<text x="167.40" y="927.85" font-size="9" text-anchor="start" fill="#111" stroke="#111" stroke-width="0.1">73</text>
<g filter="url(#bb)">
<rect x="41.30" y="921.20" width="16.0" height="5.00" rx="2.50" fill="#000" opacity="0.96"/>
<rect x="61.80" y="921.80" width="16.0" height="3.80" rx="1.90" fill="#000" opacity="0.59"/>
<rect x="83.00" y="921.20" width="16.0" height="5.00" rx="2.50" fill="#000" opacity="0.96"/>
<rect x="103.20" y="921.80" width="16.0" height="3.80" rx="1.90" fill="#000" opacity="0.55"/>
<rect x="123.40" y="921.80" width="16.0" height="3.80" rx="1.90" fill="#000" opacity="0.56"/>
<rect x="143.60" y="921.10" width="16.0" height="5.20" rx="2.60" fill="#000" opacity="1.00" transform="rotate(-4 151.6 923.7)"/>
</g>
<rect x="38.0" y="916.1" width="125.4" height="16.70" fill="none" stroke="#333" stroke-width="0.9"/>
<rect x="38.00" y="935.00" width="125.40" height="15.90" fill="#d6d6d6"/>
<g filter="url(#bb2)" opacity="0.55">
<rect x="57.90" y="936.00" width="3.20" height="13.90" fill="#f4f4f4"/>
<rect x="78.80" y="936.00" width="3.20" height="13.90" fill="#f4f4f4"/>
<rect x="99.50" y="936.00" width="3.20" height="13.90" fill="#f4f4f4"/>
<rect x="119.70" y="936.00" width="3.20" height="13.90" fill="#f4f4f4"/>
<rect x="139.90" y="936.00" width="3.20" height="13.90" fill="#f4f4f4"/>
</g>
<text x="34.80" y="946.55" font-size="10" text-anchor="end" fill="#111" stroke="#111" stroke-width="0.1">β-actin</text>
<text x="167.40" y="946.35" font-size="9" text-anchor="start" fill="#111" stroke="#111" stroke-width="0.1">42</text>
<g filter="url(#bb)">
<rect x="40.05" y="940.50" width="18.5" height="5.60" rx="2.80" fill="#000" opacity="1.00"/>
<rect x="60.55" y="940.50" width="18.5" height="5.60" rx="2.80" fill="#000" opacity="1.00"/>
<rect x="81.75" y="940.50" width="18.5" height="5.60" rx="2.80" fill="#000" opacity="1.00"/>
<rect x="101.95" y="940.50" width="18.5" height="5.60" rx="2.80" fill="#000" opacity="1.00"/>
<rect x="122.15" y="940.50" width="18.5" height="5.60" rx="2.80" fill="#000" opacity="1.00"/>
<rect x="142.35" y="940.50" width="18.5" height="5.60" rx="2.80" fill="#000" opacity="1.00" transform="rotate(-4 151.6 943.3)"/>
</g>
<rect x="38.0" y="935.0" width="125.4" height="15.90" fill="none" stroke="#333" stroke-width="0.9"/>
<text x="42.80" y="959.70" font-size="7.8" text-anchor="end" fill="#111" stroke="#111" stroke-width="0.1">sgNC</text>
<text x="48.80" y="959.70" font-size="7.8" text-anchor="middle" fill="#111" stroke="#111" stroke-width="0.1">+</text>
<text x="69.80" y="959.70" font-size="7.8" text-anchor="middle" fill="#111" stroke="#111" stroke-width="0.1">-</text>
<text x="90.80" y="959.70" font-size="7.8" text-anchor="middle" fill="#111" stroke="#111" stroke-width="0.1">-</text>
<text x="111.50" y="959.70" font-size="7.8" text-anchor="middle" fill="#111" stroke="#111" stroke-width="0.1">-</text>
<text x="132.00" y="959.70" font-size="7.8" text-anchor="middle" fill="#111" stroke="#111" stroke-width="0.1">-</text>
<text x="152.50" y="959.70" font-size="7.8" text-anchor="middle" fill="#111" stroke="#111" stroke-width="0.1">-</text>
<text x="42.80" y="969.20" font-size="7.8" text-anchor="end" fill="#111" stroke="#111" stroke-width="0.1">sgTHRAP3</text>
<text x="48.80" y="969.20" font-size="7.8" text-anchor="middle" fill="#111" stroke="#111" stroke-width="0.1">-</text>
<text x="69.80" y="969.20" font-size="7.8" text-anchor="middle" fill="#111" stroke="#111" stroke-width="0.1">+</text>
<text x="90.80" y="969.20" font-size="7.8" text-anchor="middle" fill="#111" stroke="#111" stroke-width="0.1">-</text>
<text x="111.50" y="969.20" font-size="7.8" text-anchor="middle" fill="#111" stroke="#111" stroke-width="0.1">-</text>
<text x="132.00" y="969.20" font-size="7.8" text-anchor="middle" fill="#111" stroke="#111" stroke-width="0.1">+</text>
<text x="152.50" y="969.20" font-size="7.8" text-anchor="middle" fill="#111" stroke="#111" stroke-width="0.1">+</text>
<text x="42.80" y="977.20" font-size="7.8" text-anchor="end" fill="#111" stroke="#111" stroke-width="0.1">Vector</text>
<text x="48.80" y="977.20" font-size="7.8" text-anchor="middle" fill="#111" stroke="#111" stroke-width="0.1">-</text>
<text x="69.80" y="977.20" font-size="7.8" text-anchor="middle" fill="#111" stroke="#111" stroke-width="0.1">-</text>
<text x="90.80" y="977.20" font-size="7.8" text-anchor="middle" fill="#111" stroke="#111" stroke-width="0.1">+</text>
<text x="111.50" y="977.20" font-size="7.8" text-anchor="middle" fill="#111" stroke="#111" stroke-width="0.1">-</text>
<text x="132.00" y="977.20" font-size="7.8" text-anchor="middle" fill="#111" stroke="#111" stroke-width="0.1">+</text>
<text x="152.50" y="977.20" font-size="7.8" text-anchor="middle" fill="#111" stroke="#111" stroke-width="0.1">-</text>
<text x="42.80" y="985.40" font-size="7.8" text-anchor="end" fill="#111" stroke="#111" stroke-width="0.1">GIT2-L</text>
<text x="48.80" y="985.40" font-size="7.8" text-anchor="middle" fill="#111" stroke="#111" stroke-width="0.1">-</text>
<text x="69.80" y="985.40" font-size="7.8" text-anchor="middle" fill="#111" stroke="#111" stroke-width="0.1">-</text>
<text x="90.80" y="985.40" font-size="7.8" text-anchor="middle" fill="#111" stroke="#111" stroke-width="0.1">-</text>
<text x="111.50" y="985.40" font-size="7.8" text-anchor="middle" fill="#111" stroke="#111" stroke-width="0.1">+</text>
<text x="132.00" y="985.40" font-size="7.8" text-anchor="middle" fill="#111" stroke="#111" stroke-width="0.1">-</text>
<text x="152.50" y="985.40" font-size="7.8" text-anchor="middle" fill="#111" stroke="#111" stroke-width="0.1">-</text>
<text x="42.80" y="993.60" font-size="7.8" text-anchor="end" fill="#111" stroke="#111" stroke-width="0.1">GIT2-S</text>
<text x="48.80" y="993.60" font-size="7.8" text-anchor="middle" fill="#111" stroke="#111" stroke-width="0.1">-</text>
<text x="69.80" y="993.60" font-size="7.8" text-anchor="middle" fill="#111" stroke="#111" stroke-width="0.1">-</text>
<text x="90.80" y="993.60" font-size="7.8" text-anchor="middle" fill="#111" stroke="#111" stroke-width="0.1">-</text>
<text x="111.50" y="993.60" font-size="7.8" text-anchor="middle" fill="#111" stroke="#111" stroke-width="0.1">-</text>
<text x="132.00" y="993.60" font-size="7.8" text-anchor="middle" fill="#111" stroke="#111" stroke-width="0.1">-</text>
<text x="152.50" y="993.60" font-size="7.8" text-anchor="middle" fill="#111" stroke="#111" stroke-width="0.1">+</text>
<line x1="227.40" y1="838.70" x2="227.40" y2="951.10" stroke="#333" stroke-width="1.0"/>
<line x1="226.90" y1="950.70" x2="590.80" y2="950.70" stroke="#333" stroke-width="1.0"/>
<line x1="223.90" y1="950.70" x2="227.40" y2="950.70" stroke="#333" stroke-width="0.9"/>
<text x="222.80" y="953.60" font-size="8" text-anchor="end" fill="#111" stroke="#111" stroke-width="0.1">0.0</text>
<line x1="223.90" y1="928.30" x2="227.40" y2="928.30" stroke="#333" stroke-width="0.9"/>
<text x="222.80" y="931.20" font-size="8" text-anchor="end" fill="#111" stroke="#111" stroke-width="0.1">0.2</text>
<line x1="223.90" y1="905.90" x2="227.40" y2="905.90" stroke="#333" stroke-width="0.9"/>
<text x="222.80" y="908.80" font-size="8" text-anchor="end" fill="#111" stroke="#111" stroke-width="0.1">0.4</text>
<line x1="223.90" y1="883.50" x2="227.40" y2="883.50" stroke="#333" stroke-width="0.9"/>
<text x="222.80" y="886.40" font-size="8" text-anchor="end" fill="#111" stroke="#111" stroke-width="0.1">0.6</text>
<line x1="223.90" y1="861.10" x2="227.40" y2="861.10" stroke="#333" stroke-width="0.9"/>
<text x="222.80" y="864.00" font-size="8" text-anchor="end" fill="#111" stroke="#111" stroke-width="0.1">0.8</text>
<line x1="223.90" y1="838.70" x2="227.40" y2="838.70" stroke="#333" stroke-width="0.9"/>
<text x="222.80" y="841.60" font-size="8" text-anchor="end" fill="#111" stroke="#111" stroke-width="0.1">1.0</text>
<text x="200.60" y="893.90" font-size="10" text-anchor="middle" fill="#111" stroke="#111" stroke-width="0.1" transform="rotate(-90 200.60 893.90)">Relative protein level</text>
<rect x="231.85" y="886.86" width="4.10" height="63.84" fill="#f64444"/>
<line x1="233.90" y1="881.26" x2="233.90" y2="892.46" stroke="#111" stroke-width="0.8"/>
<line x1="232.10" y1="881.26" x2="235.70" y2="881.26" stroke="#111" stroke-width="1.2"/>
<circle cx="233.60" cy="881.82" r="1.80" fill="#000"/>
<circle cx="234.40" cy="886.86" r="1.80" fill="#000"/>
<circle cx="233.70" cy="891.34" r="1.80" fill="#000"/>
<rect x="242.95" y="909.26" width="4.10" height="41.44" fill="#44f80c"/>
<line x1="245.00" y1="903.66" x2="245.00" y2="914.86" stroke="#111" stroke-width="0.8"/>
<line x1="243.20" y1="903.66" x2="246.80" y2="903.66" stroke="#111" stroke-width="1.2"/>
<rect x="242.90" y="902.42" width="3.60" height="3.60" fill="#000"/>
<rect x="243.70" y="907.46" width="3.60" height="3.60" fill="#000"/>
<rect x="243.00" y="911.94" width="3.60" height="3.60" fill="#000"/>
<rect x="254.05" y="892.46" width="4.10" height="58.24" fill="#fd35fd"/>
<line x1="256.10" y1="885.74" x2="256.10" y2="899.18" stroke="#111" stroke-width="0.8"/>
<line x1="254.30" y1="885.74" x2="257.90" y2="885.74" stroke="#111" stroke-width="1.2"/>
<path d="M255.80 884.43L257.78 887.85L253.82 887.85Z" fill="#000"/>
<path d="M256.60 890.48L258.58 893.90L254.62 893.90Z" fill="#000"/>
<path d="M255.90 895.86L257.88 899.28L253.92 899.28Z" fill="#000"/>
<rect x="265.15" y="912.62" width="4.10" height="38.08" fill="#f0822a"/>
<line x1="267.20" y1="907.02" x2="267.20" y2="918.22" stroke="#111" stroke-width="0.8"/>
<line x1="265.40" y1="907.02" x2="269.00" y2="907.02" stroke="#111" stroke-width="1.2"/>
<path d="M266.90 909.56L268.88 906.14L264.92 906.14Z" fill="#000"/>
<path d="M267.70 914.60L269.68 911.18L265.72 911.18Z" fill="#000"/>
<path d="M267.00 919.08L268.98 915.66L265.02 915.66Z" fill="#000"/>
<rect x="276.25" y="914.86" width="4.10" height="35.84" fill="#80fbfb"/>
<line x1="278.30" y1="909.26" x2="278.30" y2="920.46" stroke="#111" stroke-width="0.8"/>
<line x1="276.50" y1="909.26" x2="280.10" y2="909.26" stroke="#111" stroke-width="1.2"/>
<circle cx="278.00" cy="909.82" r="1.80" fill="#000"/>
<circle cx="278.80" cy="914.86" r="1.80" fill="#000"/>
<circle cx="278.10" cy="919.34" r="1.80" fill="#000"/>
<rect x="287.35" y="886.86" width="4.10" height="63.84" fill="#1200f4"/>
<line x1="289.40" y1="881.26" x2="289.40" y2="892.46" stroke="#111" stroke-width="0.8"/>
<line x1="287.60" y1="881.26" x2="291.20" y2="881.26" stroke="#111" stroke-width="1.2"/>
<circle cx="289.10" cy="881.82" r="1.80" fill="#000"/>
<circle cx="289.90" cy="886.86" r="1.80" fill="#000"/>
<circle cx="289.20" cy="891.34" r="1.80" fill="#000"/>
<path d="M233.90 876.76V869.76H245.00V891.76" fill="none" stroke="#222" stroke-width="0.8"/>
<text x="239.45" y="870.66" font-size="8.8" text-anchor="middle" fill="#000" stroke="#000" stroke-width="0.1">**</text>
<path d="M256.10 881.24V874.24H267.20V896.24" fill="none" stroke="#222" stroke-width="0.8"/>
<text x="261.65" y="875.14" font-size="8.8" text-anchor="middle" fill="#000" stroke="#000" stroke-width="0.1">*</text>
<path d="M278.30 891.76V869.76H289.40V876.76" fill="none" stroke="#222" stroke-width="0.8"/>
<text x="283.85" y="870.66" font-size="8.8" text-anchor="middle" fill="#000" stroke="#000" stroke-width="0.1">**</text>
<line x1="261.65" y1="950.70" x2="261.65" y2="954.20" stroke="#333" stroke-width="0.9"/>
<text x="261.60" y="965.60" font-size="10" text-anchor="middle" fill="#111" stroke="#111" stroke-width="0.1">FTL</text>
<rect x="304.35" y="900.30" width="4.10" height="50.40" fill="#f64444"/>
<line x1="306.40" y1="893.58" x2="306.40" y2="907.02" stroke="#111" stroke-width="0.8"/>
<line x1="304.60" y1="893.58" x2="308.20" y2="893.58" stroke="#111" stroke-width="1.2"/>
<circle cx="306.10" cy="894.25" r="1.80" fill="#000"/>
<circle cx="306.90" cy="900.30" r="1.80" fill="#000"/>
<circle cx="306.20" cy="905.68" r="1.80" fill="#000"/>
<rect x="315.45" y="857.74" width="4.10" height="92.96" fill="#44f80c"/>
<line x1="317.50" y1="847.66" x2="317.50" y2="867.82" stroke="#111" stroke-width="0.8"/>
<line x1="315.70" y1="847.66" x2="319.30" y2="847.66" stroke="#111" stroke-width="1.2"/>
<rect x="315.40" y="846.87" width="3.60" height="3.60" fill="#000"/>
<rect x="316.20" y="855.94" width="3.60" height="3.60" fill="#000"/>
<rect x="315.50" y="864.00" width="3.60" height="3.60" fill="#000"/>
<rect x="326.55" y="893.58" width="4.10" height="57.12" fill="#fd35fd"/>
<line x1="328.60" y1="886.86" x2="328.60" y2="900.30" stroke="#111" stroke-width="0.8"/>
<line x1="326.80" y1="886.86" x2="330.40" y2="886.86" stroke="#111" stroke-width="1.2"/>
<path d="M328.30 885.55L330.28 888.97L326.32 888.97Z" fill="#000"/>
<path d="M329.10 891.60L331.08 895.02L327.12 895.02Z" fill="#000"/>
<path d="M328.40 896.98L330.38 900.40L326.42 900.40Z" fill="#000"/>
<rect x="337.65" y="858.86" width="4.10" height="91.84" fill="#f0822a"/>
<line x1="339.70" y1="849.90" x2="339.70" y2="867.82" stroke="#111" stroke-width="0.8"/>
<line x1="337.90" y1="849.90" x2="341.50" y2="849.90" stroke="#111" stroke-width="1.2"/>
<path d="M339.40 852.78L341.38 849.36L337.42 849.36Z" fill="#000"/>
<path d="M340.20 860.84L342.18 857.42L338.22 857.42Z" fill="#000"/>
<path d="M339.50 868.01L341.48 864.59L337.52 864.59Z" fill="#000"/>
<rect x="348.75" y="858.86" width="4.10" height="91.84" fill="#80fbfb"/>
<line x1="350.80" y1="848.78" x2="350.80" y2="868.94" stroke="#111" stroke-width="0.8"/>
<line x1="349.00" y1="848.78" x2="352.60" y2="848.78" stroke="#111" stroke-width="1.2"/>
<circle cx="350.50" cy="849.79" r="1.80" fill="#000"/>
<circle cx="351.30" cy="858.86" r="1.80" fill="#000"/>
<circle cx="350.60" cy="866.92" r="1.80" fill="#000"/>
<rect x="359.85" y="896.94" width="4.10" height="53.76" fill="#1200f4"/>
<line x1="361.90" y1="890.22" x2="361.90" y2="903.66" stroke="#111" stroke-width="0.8"/>
<line x1="360.10" y1="890.22" x2="363.70" y2="890.22" stroke="#111" stroke-width="1.2"/>
<circle cx="361.60" cy="890.89" r="1.80" fill="#000"/>
<circle cx="362.40" cy="896.94" r="1.80" fill="#000"/>
<circle cx="361.70" cy="902.32" r="1.80" fill="#000"/>
<path d="M306.40 858.16V836.16H317.50V843.16" fill="none" stroke="#222" stroke-width="0.8"/>
<text x="311.95" y="837.06" font-size="8.8" text-anchor="middle" fill="#000" stroke="#000" stroke-width="0.1">***</text>
<path d="M328.60 860.40V838.40H339.70V845.40" fill="none" stroke="#222" stroke-width="0.8"/>
<text x="334.15" y="839.30" font-size="8.8" text-anchor="middle" fill="#000" stroke="#000" stroke-width="0.1">**</text>
<path d="M350.80 844.28V837.28H361.90V859.28" fill="none" stroke="#222" stroke-width="0.8"/>
<text x="356.35" y="838.18" font-size="8.8" text-anchor="middle" fill="#000" stroke="#000" stroke-width="0.1">***</text>
<line x1="334.15" y1="950.70" x2="334.15" y2="954.20" stroke="#333" stroke-width="0.9"/>
<text x="334.80" y="965.60" font-size="10" text-anchor="middle" fill="#111" stroke="#111" stroke-width="0.1">TFRC</text>
<rect x="377.95" y="877.90" width="4.10" height="72.80" fill="#f64444"/>
<line x1="380.00" y1="872.30" x2="380.00" y2="883.50" stroke="#111" stroke-width="0.8"/>
<line x1="378.20" y1="872.30" x2="381.80" y2="872.30" stroke="#111" stroke-width="1.2"/>
<circle cx="379.70" cy="872.86" r="1.80" fill="#000"/>
<circle cx="380.50" cy="877.90" r="1.80" fill="#000"/>
<circle cx="379.80" cy="882.38" r="1.80" fill="#000"/>
<rect x="389.05" y="917.10" width="4.10" height="33.60" fill="#44f80c"/>
<line x1="391.10" y1="909.26" x2="391.10" y2="924.94" stroke="#111" stroke-width="0.8"/>
<line x1="389.30" y1="909.26" x2="392.90" y2="909.26" stroke="#111" stroke-width="1.2"/>
<rect x="389.00" y="908.24" width="3.60" height="3.60" fill="#000"/>
<rect x="389.80" y="915.30" width="3.60" height="3.60" fill="#000"/>
<rect x="389.10" y="921.57" width="3.60" height="3.60" fill="#000"/>
<rect x="400.15" y="885.74" width="4.10" height="64.96" fill="#fd35fd"/>
<line x1="402.20" y1="876.78" x2="402.20" y2="894.70" stroke="#111" stroke-width="0.8"/>
<line x1="400.40" y1="876.78" x2="404.00" y2="876.78" stroke="#111" stroke-width="1.2"/>
<path d="M401.90 875.70L403.88 879.12L399.92 879.12Z" fill="#000"/>
<path d="M402.70 883.76L404.68 887.18L400.72 887.18Z" fill="#000"/>
<path d="M402.00 890.93L403.98 894.35L400.02 894.35Z" fill="#000"/>
<rect x="411.25" y="927.18" width="4.10" height="23.52" fill="#f0822a"/>
<line x1="413.30" y1="921.58" x2="413.30" y2="932.78" stroke="#111" stroke-width="0.8"/>
<line x1="411.50" y1="921.58" x2="415.10" y2="921.58" stroke="#111" stroke-width="1.2"/>
<path d="M413.00 924.12L414.98 920.70L411.02 920.70Z" fill="#000"/>
<path d="M413.80 929.16L415.78 925.74L411.82 925.74Z" fill="#000"/>
<path d="M413.10 933.64L415.08 930.22L411.12 930.22Z" fill="#000"/>
<rect x="422.35" y="928.30" width="4.10" height="22.40" fill="#80fbfb"/>
<line x1="424.40" y1="920.46" x2="424.40" y2="936.14" stroke="#111" stroke-width="0.8"/>
<line x1="422.60" y1="920.46" x2="426.20" y2="920.46" stroke="#111" stroke-width="1.2"/>
<circle cx="424.10" cy="921.24" r="1.80" fill="#000"/>
<circle cx="424.90" cy="928.30" r="1.80" fill="#000"/>
<circle cx="424.20" cy="934.57" r="1.80" fill="#000"/>
<rect x="433.45" y="880.14" width="4.10" height="70.56" fill="#1200f4"/>
<line x1="435.50" y1="872.30" x2="435.50" y2="887.98" stroke="#111" stroke-width="0.8"/>
<line x1="433.70" y1="872.30" x2="437.30" y2="872.30" stroke="#111" stroke-width="1.2"/>
<circle cx="435.20" cy="873.08" r="1.80" fill="#000"/>
<circle cx="436.00" cy="880.14" r="1.80" fill="#000"/>
<circle cx="435.30" cy="886.41" r="1.80" fill="#000"/>
<path d="M380.00 867.80V860.80H391.10V882.80" fill="none" stroke="#222" stroke-width="0.8"/>
<text x="385.55" y="861.70" font-size="8.8" text-anchor="middle" fill="#000" stroke="#000" stroke-width="0.1">***</text>
<path d="M402.20 872.28V865.28H413.30V887.28" fill="none" stroke="#222" stroke-width="0.8"/>
<text x="407.75" y="866.18" font-size="8.8" text-anchor="middle" fill="#000" stroke="#000" stroke-width="0.1">***</text>
<path d="M424.40 882.80V860.80H435.50V867.80" fill="none" stroke="#222" stroke-width="0.8"/>
<text x="429.95" y="861.70" font-size="8.8" text-anchor="middle" fill="#000" stroke="#000" stroke-width="0.1">***</text>
<line x1="407.75" y1="950.70" x2="407.75" y2="954.20" stroke="#333" stroke-width="0.9"/>
<text x="407.70" y="965.60" font-size="10" text-anchor="middle" fill="#111" stroke="#111" stroke-width="0.1">GSS</text>
<rect x="451.45" y="896.94" width="4.10" height="53.76" fill="#f64444"/>
<line x1="453.50" y1="889.10" x2="453.50" y2="904.78" stroke="#111" stroke-width="0.8"/>
<line x1="451.70" y1="889.10" x2="455.30" y2="889.10" stroke="#111" stroke-width="1.2"/>
<circle cx="453.20" cy="889.88" r="1.80" fill="#000"/>
<circle cx="454.00" cy="896.94" r="1.80" fill="#000"/>
<circle cx="453.30" cy="903.21" r="1.80" fill="#000"/>
<rect x="462.55" y="923.82" width="4.10" height="26.88" fill="#44f80c"/>
<line x1="464.60" y1="915.98" x2="464.60" y2="931.66" stroke="#111" stroke-width="0.8"/>
<line x1="462.80" y1="915.98" x2="466.40" y2="915.98" stroke="#111" stroke-width="1.2"/>
<rect x="462.50" y="914.96" width="3.60" height="3.60" fill="#000"/>
<rect x="463.30" y="922.02" width="3.60" height="3.60" fill="#000"/>
<rect x="462.60" y="928.29" width="3.60" height="3.60" fill="#000"/>
<rect x="473.65" y="895.82" width="4.10" height="54.88" fill="#fd35fd"/>
<line x1="475.70" y1="887.98" x2="475.70" y2="903.66" stroke="#111" stroke-width="0.8"/>
<line x1="473.90" y1="887.98" x2="477.50" y2="887.98" stroke="#111" stroke-width="1.2"/>
<path d="M475.40 886.78L477.38 890.20L473.42 890.20Z" fill="#000"/>
<path d="M476.20 893.84L478.18 897.26L474.22 897.26Z" fill="#000"/>
<path d="M475.50 900.11L477.48 903.53L473.52 903.53Z" fill="#000"/>
<rect x="484.75" y="928.30" width="4.10" height="22.40" fill="#f0822a"/>
<line x1="486.80" y1="919.34" x2="486.80" y2="937.26" stroke="#111" stroke-width="0.8"/>
<line x1="485.00" y1="919.34" x2="488.60" y2="919.34" stroke="#111" stroke-width="1.2"/>
<path d="M486.50 922.22L488.48 918.80L484.52 918.80Z" fill="#000"/>
<path d="M487.30 930.28L489.28 926.86L485.32 926.86Z" fill="#000"/>
<path d="M486.60 937.45L488.58 934.03L484.62 934.03Z" fill="#000"/>
<rect x="495.85" y="923.82" width="4.10" height="26.88" fill="#80fbfb"/>
<line x1="497.90" y1="918.22" x2="497.90" y2="929.42" stroke="#111" stroke-width="0.8"/>
<line x1="496.10" y1="918.22" x2="499.70" y2="918.22" stroke="#111" stroke-width="1.2"/>
<circle cx="497.60" cy="918.78" r="1.80" fill="#000"/>
<circle cx="498.40" cy="923.82" r="1.80" fill="#000"/>
<circle cx="497.70" cy="928.30" r="1.80" fill="#000"/>
<rect x="506.95" y="883.50" width="4.10" height="67.20" fill="#1200f4"/>
<line x1="509.00" y1="876.78" x2="509.00" y2="890.22" stroke="#111" stroke-width="0.8"/>
<line x1="507.20" y1="876.78" x2="510.80" y2="876.78" stroke="#111" stroke-width="1.2"/>
<circle cx="508.70" cy="877.45" r="1.80" fill="#000"/>
<circle cx="509.50" cy="883.50" r="1.80" fill="#000"/>
<circle cx="508.80" cy="888.88" r="1.80" fill="#000"/>
<path d="M453.50 884.60V877.60H464.60V899.60" fill="none" stroke="#222" stroke-width="0.8"/>
<text x="459.05" y="878.50" font-size="8.8" text-anchor="middle" fill="#000" stroke="#000" stroke-width="0.1">**</text>
<path d="M475.70 883.48V876.48H486.80V898.48" fill="none" stroke="#222" stroke-width="0.8"/>
<text x="481.25" y="877.38" font-size="8.8" text-anchor="middle" fill="#000" stroke="#000" stroke-width="0.1">**</text>
<path d="M497.90 887.28V865.28H509.00V872.28" fill="none" stroke="#222" stroke-width="0.8"/>
<text x="503.45" y="866.18" font-size="8.8" text-anchor="middle" fill="#000" stroke="#000" stroke-width="0.1">***</text>
<line x1="481.25" y1="950.70" x2="481.25" y2="954.20" stroke="#333" stroke-width="0.9"/>
<text x="481.90" y="965.60" font-size="10" text-anchor="middle" fill="#111" stroke="#111" stroke-width="0.1">GCLM</text>
<rect x="524.65" y="879.02" width="4.10" height="71.68" fill="#f64444"/>
<line x1="526.70" y1="871.18" x2="526.70" y2="886.86" stroke="#111" stroke-width="0.8"/>
<line x1="524.90" y1="871.18" x2="528.50" y2="871.18" stroke="#111" stroke-width="1.2"/>
<circle cx="526.40" cy="871.96" r="1.80" fill="#000"/>
<circle cx="527.20" cy="879.02" r="1.80" fill="#000"/>
<circle cx="526.50" cy="885.29" r="1.80" fill="#000"/>
<rect x="535.75" y="922.70" width="4.10" height="28.00" fill="#44f80c"/>
<line x1="537.80" y1="913.74" x2="537.80" y2="931.66" stroke="#111" stroke-width="0.8"/>
<line x1="536.00" y1="913.74" x2="539.60" y2="913.74" stroke="#111" stroke-width="1.2"/>
<rect x="535.70" y="912.84" width="3.60" height="3.60" fill="#000"/>
<rect x="536.50" y="920.90" width="3.60" height="3.60" fill="#000"/>
<rect x="535.80" y="928.07" width="3.60" height="3.60" fill="#000"/>
<rect x="546.85" y="877.90" width="4.10" height="72.80" fill="#fd35fd"/>
<line x1="548.90" y1="868.94" x2="548.90" y2="886.86" stroke="#111" stroke-width="0.8"/>
<line x1="547.10" y1="868.94" x2="550.70" y2="868.94" stroke="#111" stroke-width="1.2"/>
<path d="M548.60 867.86L550.58 871.28L546.62 871.28Z" fill="#000"/>
<path d="M549.40 875.92L551.38 879.34L547.42 879.34Z" fill="#000"/>
<path d="M548.70 883.09L550.68 886.51L546.72 886.51Z" fill="#000"/>
<rect x="557.95" y="918.22" width="4.10" height="32.48" fill="#f0822a"/>
<line x1="560.00" y1="910.38" x2="560.00" y2="926.06" stroke="#111" stroke-width="0.8"/>
<line x1="558.20" y1="910.38" x2="561.80" y2="910.38" stroke="#111" stroke-width="1.2"/>
<path d="M559.70 913.14L561.68 909.72L557.72 909.72Z" fill="#000"/>
<path d="M560.50 920.20L562.48 916.78L558.52 916.78Z" fill="#000"/>
<path d="M559.80 926.47L561.78 923.05L557.82 923.05Z" fill="#000"/>
<rect x="569.05" y="917.10" width="4.10" height="33.60" fill="#80fbfb"/>
<line x1="571.10" y1="911.50" x2="571.10" y2="922.70" stroke="#111" stroke-width="0.8"/>
<line x1="569.30" y1="911.50" x2="572.90" y2="911.50" stroke="#111" stroke-width="1.2"/>
<circle cx="570.80" cy="912.06" r="1.80" fill="#000"/>
<circle cx="571.60" cy="917.10" r="1.80" fill="#000"/>
<circle cx="570.90" cy="921.58" r="1.80" fill="#000"/>
<rect x="580.15" y="876.78" width="4.10" height="73.92" fill="#1200f4"/>
<line x1="582.20" y1="867.82" x2="582.20" y2="885.74" stroke="#111" stroke-width="0.8"/>
<line x1="580.40" y1="867.82" x2="584.00" y2="867.82" stroke="#111" stroke-width="1.2"/>
<circle cx="581.90" cy="868.72" r="1.80" fill="#000"/>
<circle cx="582.70" cy="876.78" r="1.80" fill="#000"/>
<circle cx="582.00" cy="883.95" r="1.80" fill="#000"/>
<path d="M526.70 866.68V859.68H537.80V881.68" fill="none" stroke="#222" stroke-width="0.8"/>
<text x="532.25" y="860.58" font-size="8.8" text-anchor="middle" fill="#000" stroke="#000" stroke-width="0.1">***</text>
<path d="M548.90 864.44V857.44H560.00V879.44" fill="none" stroke="#222" stroke-width="0.8"/>
<text x="554.45" y="858.34" font-size="8.8" text-anchor="middle" fill="#000" stroke="#000" stroke-width="0.1">***</text>
<path d="M571.10 878.32V856.32H582.20V863.32" fill="none" stroke="#222" stroke-width="0.8"/>
<text x="576.65" y="857.22" font-size="8.8" text-anchor="middle" fill="#000" stroke="#000" stroke-width="0.1">***</text>
<line x1="554.45" y1="950.70" x2="554.45" y2="954.20" stroke="#333" stroke-width="0.9"/>
<text x="552.00" y="965.60" font-size="10" text-anchor="middle" fill="#111" stroke="#111" stroke-width="0.1">GCLC</text>
<rect x="589.20" y="841.40" width="10.40" height="6.00" fill="#f64444"/>
<text x="602.20" y="847.50" font-size="8.6" text-anchor="start" fill="#111" stroke="#111" stroke-width="0.1">sgNC</text>
<rect x="589.20" y="852.80" width="10.40" height="6.00" fill="#44f80c"/>
<text x="602.20" y="858.90" font-size="8.6" text-anchor="start" fill="#111" stroke="#111" stroke-width="0.1">sgTHRAP3</text>
<rect x="589.20" y="864.20" width="10.40" height="6.00" fill="#fd35fd"/>
<text x="602.20" y="870.30" font-size="8.6" text-anchor="start" fill="#111" stroke="#111" stroke-width="0.1">Vector</text>
<rect x="589.20" y="875.90" width="10.40" height="6.00" fill="#f0822a"/>
<text x="602.20" y="882.00" font-size="8.6" text-anchor="start" fill="#111" stroke="#111" stroke-width="0.1">GIT2-L</text>
<rect x="589.20" y="887.30" width="10.40" height="6.00" fill="#80fbfb"/>
<text x="602.20" y="893.40" font-size="8.6" text-anchor="start" fill="#111" stroke="#111" stroke-width="0.1">sgTHRAP3+Vector</text>
<rect x="589.20" y="898.70" width="10.40" height="6.00" fill="#1200f4"/>
<text x="602.20" y="904.80" font-size="8.6" text-anchor="start" fill="#111" stroke="#111" stroke-width="0.1">sgTHRAP3+GIT2-S</text></svg></body></html>
